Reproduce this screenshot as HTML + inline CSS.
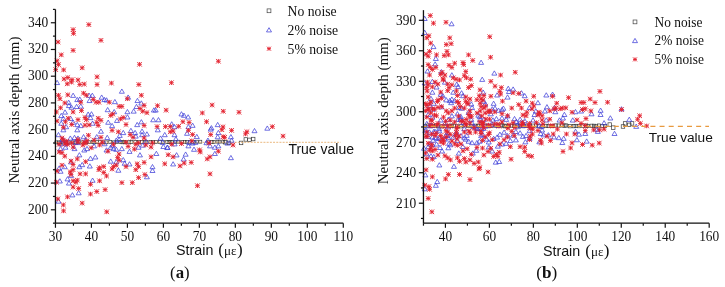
<!DOCTYPE html><html><head><meta charset="utf-8"><style>html,body{margin:0;padding:0;background:#fff;overflow:hidden}svg{display:block;will-change:transform;filter:blur(0.3px)}</style></head><body><svg width="725" height="287" viewBox="0 0 725 287">
<rect width="725" height="287" fill="#fff"/>
<rect x="54.89" y="140.92" width="2.90" height="2.90" fill="none" stroke="#3a3a3a" stroke-width="0.7"/>
<rect x="57.60" y="140.94" width="2.90" height="2.90" fill="none" stroke="#3a3a3a" stroke-width="0.7"/>
<rect x="59.00" y="141.02" width="2.90" height="2.90" fill="none" stroke="#3a3a3a" stroke-width="0.7"/>
<rect x="61.36" y="141.07" width="2.90" height="2.90" fill="none" stroke="#3a3a3a" stroke-width="0.7"/>
<rect x="64.45" y="140.86" width="2.90" height="2.90" fill="none" stroke="#3a3a3a" stroke-width="0.7"/>
<rect x="67.17" y="140.91" width="2.90" height="2.90" fill="none" stroke="#3a3a3a" stroke-width="0.7"/>
<rect x="71.08" y="140.94" width="2.90" height="2.90" fill="none" stroke="#3a3a3a" stroke-width="0.7"/>
<rect x="74.01" y="140.93" width="2.90" height="2.90" fill="none" stroke="#3a3a3a" stroke-width="0.7"/>
<rect x="77.17" y="140.63" width="2.90" height="2.90" fill="none" stroke="#3a3a3a" stroke-width="0.7"/>
<rect x="80.95" y="140.89" width="2.90" height="2.90" fill="none" stroke="#3a3a3a" stroke-width="0.7"/>
<rect x="84.81" y="140.96" width="2.90" height="2.90" fill="none" stroke="#3a3a3a" stroke-width="0.7"/>
<rect x="87.41" y="140.76" width="2.90" height="2.90" fill="none" stroke="#3a3a3a" stroke-width="0.7"/>
<rect x="91.30" y="140.61" width="2.90" height="2.90" fill="none" stroke="#3a3a3a" stroke-width="0.7"/>
<rect x="92.83" y="140.95" width="2.90" height="2.90" fill="none" stroke="#3a3a3a" stroke-width="0.7"/>
<rect x="95.72" y="140.67" width="2.90" height="2.90" fill="none" stroke="#3a3a3a" stroke-width="0.7"/>
<rect x="98.40" y="140.68" width="2.90" height="2.90" fill="none" stroke="#3a3a3a" stroke-width="0.7"/>
<rect x="101.52" y="140.89" width="2.90" height="2.90" fill="none" stroke="#3a3a3a" stroke-width="0.7"/>
<rect x="104.96" y="140.86" width="2.90" height="2.90" fill="none" stroke="#3a3a3a" stroke-width="0.7"/>
<rect x="108.79" y="140.57" width="2.90" height="2.90" fill="none" stroke="#3a3a3a" stroke-width="0.7"/>
<rect x="112.63" y="140.85" width="2.90" height="2.90" fill="none" stroke="#3a3a3a" stroke-width="0.7"/>
<rect x="115.44" y="140.57" width="2.90" height="2.90" fill="none" stroke="#3a3a3a" stroke-width="0.7"/>
<rect x="118.95" y="140.58" width="2.90" height="2.90" fill="none" stroke="#3a3a3a" stroke-width="0.7"/>
<rect x="120.87" y="140.86" width="2.90" height="2.90" fill="none" stroke="#3a3a3a" stroke-width="0.7"/>
<rect x="122.66" y="140.62" width="2.90" height="2.90" fill="none" stroke="#3a3a3a" stroke-width="0.7"/>
<rect x="124.31" y="140.76" width="2.90" height="2.90" fill="none" stroke="#3a3a3a" stroke-width="0.7"/>
<rect x="127.86" y="140.68" width="2.90" height="2.90" fill="none" stroke="#3a3a3a" stroke-width="0.7"/>
<rect x="129.97" y="140.56" width="2.90" height="2.90" fill="none" stroke="#3a3a3a" stroke-width="0.7"/>
<rect x="133.84" y="140.62" width="2.90" height="2.90" fill="none" stroke="#3a3a3a" stroke-width="0.7"/>
<rect x="137.44" y="140.43" width="2.90" height="2.90" fill="none" stroke="#3a3a3a" stroke-width="0.7"/>
<rect x="140.31" y="140.47" width="2.90" height="2.90" fill="none" stroke="#3a3a3a" stroke-width="0.7"/>
<rect x="143.23" y="140.44" width="2.90" height="2.90" fill="none" stroke="#3a3a3a" stroke-width="0.7"/>
<rect x="145.09" y="140.50" width="2.90" height="2.90" fill="none" stroke="#3a3a3a" stroke-width="0.7"/>
<rect x="149.01" y="140.51" width="2.90" height="2.90" fill="none" stroke="#3a3a3a" stroke-width="0.7"/>
<rect x="151.49" y="140.61" width="2.90" height="2.90" fill="none" stroke="#3a3a3a" stroke-width="0.7"/>
<rect x="154.54" y="140.59" width="2.90" height="2.90" fill="none" stroke="#3a3a3a" stroke-width="0.7"/>
<rect x="158.37" y="140.50" width="2.90" height="2.90" fill="none" stroke="#3a3a3a" stroke-width="0.7"/>
<rect x="161.53" y="140.44" width="2.90" height="2.90" fill="none" stroke="#3a3a3a" stroke-width="0.7"/>
<rect x="165.65" y="140.52" width="2.90" height="2.90" fill="none" stroke="#3a3a3a" stroke-width="0.7"/>
<rect x="167.22" y="140.53" width="2.90" height="2.90" fill="none" stroke="#3a3a3a" stroke-width="0.7"/>
<rect x="168.98" y="140.54" width="2.90" height="2.90" fill="none" stroke="#3a3a3a" stroke-width="0.7"/>
<rect x="170.73" y="140.47" width="2.90" height="2.90" fill="none" stroke="#3a3a3a" stroke-width="0.7"/>
<rect x="173.80" y="140.55" width="2.90" height="2.90" fill="none" stroke="#3a3a3a" stroke-width="0.7"/>
<rect x="176.97" y="140.28" width="2.90" height="2.90" fill="none" stroke="#3a3a3a" stroke-width="0.7"/>
<rect x="180.76" y="140.35" width="2.90" height="2.90" fill="none" stroke="#3a3a3a" stroke-width="0.7"/>
<rect x="183.23" y="140.37" width="2.90" height="2.90" fill="none" stroke="#3a3a3a" stroke-width="0.7"/>
<rect x="185.54" y="140.38" width="2.90" height="2.90" fill="none" stroke="#3a3a3a" stroke-width="0.7"/>
<rect x="188.56" y="140.37" width="2.90" height="2.90" fill="none" stroke="#3a3a3a" stroke-width="0.7"/>
<rect x="191.85" y="140.43" width="2.90" height="2.90" fill="none" stroke="#3a3a3a" stroke-width="0.7"/>
<rect x="195.38" y="140.28" width="2.90" height="2.90" fill="none" stroke="#3a3a3a" stroke-width="0.7"/>
<rect x="198.87" y="140.26" width="2.90" height="2.90" fill="none" stroke="#3a3a3a" stroke-width="0.7"/>
<rect x="206.68" y="140.29" width="2.90" height="2.90" fill="none" stroke="#3a3a3a" stroke-width="0.7"/>
<rect x="210.36" y="140.48" width="2.90" height="2.90" fill="none" stroke="#3a3a3a" stroke-width="0.7"/>
<rect x="212.30" y="140.39" width="2.90" height="2.90" fill="none" stroke="#3a3a3a" stroke-width="0.7"/>
<rect x="216.09" y="140.21" width="2.90" height="2.90" fill="none" stroke="#3a3a3a" stroke-width="0.7"/>
<rect x="218.03" y="140.19" width="2.90" height="2.90" fill="none" stroke="#3a3a3a" stroke-width="0.7"/>
<rect x="221.75" y="140.17" width="2.90" height="2.90" fill="none" stroke="#3a3a3a" stroke-width="0.7"/>
<rect x="423.38" y="124.44" width="3.20" height="3.20" fill="none" stroke="#3a3a3a" stroke-width="0.7"/>
<rect x="426.80" y="123.93" width="3.20" height="3.20" fill="none" stroke="#3a3a3a" stroke-width="0.7"/>
<rect x="429.43" y="124.07" width="3.20" height="3.20" fill="none" stroke="#3a3a3a" stroke-width="0.7"/>
<rect x="431.71" y="124.22" width="3.20" height="3.20" fill="none" stroke="#3a3a3a" stroke-width="0.7"/>
<rect x="434.67" y="123.96" width="3.20" height="3.20" fill="none" stroke="#3a3a3a" stroke-width="0.7"/>
<rect x="436.30" y="124.68" width="3.20" height="3.20" fill="none" stroke="#3a3a3a" stroke-width="0.7"/>
<rect x="440.16" y="124.75" width="3.20" height="3.20" fill="none" stroke="#3a3a3a" stroke-width="0.7"/>
<rect x="444.04" y="124.55" width="3.20" height="3.20" fill="none" stroke="#3a3a3a" stroke-width="0.7"/>
<rect x="448.08" y="124.32" width="3.20" height="3.20" fill="none" stroke="#3a3a3a" stroke-width="0.7"/>
<rect x="450.24" y="124.03" width="3.20" height="3.20" fill="none" stroke="#3a3a3a" stroke-width="0.7"/>
<rect x="452.17" y="124.09" width="3.20" height="3.20" fill="none" stroke="#3a3a3a" stroke-width="0.7"/>
<rect x="455.55" y="124.70" width="3.20" height="3.20" fill="none" stroke="#3a3a3a" stroke-width="0.7"/>
<rect x="459.48" y="124.70" width="3.20" height="3.20" fill="none" stroke="#3a3a3a" stroke-width="0.7"/>
<rect x="463.21" y="123.81" width="3.20" height="3.20" fill="none" stroke="#3a3a3a" stroke-width="0.7"/>
<rect x="466.50" y="124.10" width="3.20" height="3.20" fill="none" stroke="#3a3a3a" stroke-width="0.7"/>
<rect x="470.04" y="124.21" width="3.20" height="3.20" fill="none" stroke="#3a3a3a" stroke-width="0.7"/>
<rect x="474.13" y="124.14" width="3.20" height="3.20" fill="none" stroke="#3a3a3a" stroke-width="0.7"/>
<rect x="476.54" y="124.28" width="3.20" height="3.20" fill="none" stroke="#3a3a3a" stroke-width="0.7"/>
<rect x="479.87" y="124.00" width="3.20" height="3.20" fill="none" stroke="#3a3a3a" stroke-width="0.7"/>
<rect x="483.14" y="123.97" width="3.20" height="3.20" fill="none" stroke="#3a3a3a" stroke-width="0.7"/>
<rect x="486.86" y="124.61" width="3.20" height="3.20" fill="none" stroke="#3a3a3a" stroke-width="0.7"/>
<rect x="490.05" y="124.43" width="3.20" height="3.20" fill="none" stroke="#3a3a3a" stroke-width="0.7"/>
<rect x="493.92" y="124.07" width="3.20" height="3.20" fill="none" stroke="#3a3a3a" stroke-width="0.7"/>
<rect x="496.50" y="124.22" width="3.20" height="3.20" fill="none" stroke="#3a3a3a" stroke-width="0.7"/>
<rect x="499.48" y="123.80" width="3.20" height="3.20" fill="none" stroke="#3a3a3a" stroke-width="0.7"/>
<rect x="500.84" y="123.92" width="3.20" height="3.20" fill="none" stroke="#3a3a3a" stroke-width="0.7"/>
<rect x="503.12" y="124.65" width="3.20" height="3.20" fill="none" stroke="#3a3a3a" stroke-width="0.7"/>
<rect x="504.66" y="124.12" width="3.20" height="3.20" fill="none" stroke="#3a3a3a" stroke-width="0.7"/>
<rect x="506.99" y="124.45" width="3.20" height="3.20" fill="none" stroke="#3a3a3a" stroke-width="0.7"/>
<rect x="510.12" y="123.99" width="3.20" height="3.20" fill="none" stroke="#3a3a3a" stroke-width="0.7"/>
<rect x="512.43" y="124.36" width="3.20" height="3.20" fill="none" stroke="#3a3a3a" stroke-width="0.7"/>
<rect x="516.05" y="123.88" width="3.20" height="3.20" fill="none" stroke="#3a3a3a" stroke-width="0.7"/>
<rect x="518.11" y="124.40" width="3.20" height="3.20" fill="none" stroke="#3a3a3a" stroke-width="0.7"/>
<rect x="521.75" y="124.60" width="3.20" height="3.20" fill="none" stroke="#3a3a3a" stroke-width="0.7"/>
<rect x="525.00" y="124.17" width="3.20" height="3.20" fill="none" stroke="#3a3a3a" stroke-width="0.7"/>
<rect x="528.05" y="124.22" width="3.20" height="3.20" fill="none" stroke="#3a3a3a" stroke-width="0.7"/>
<rect x="531.31" y="124.05" width="3.20" height="3.20" fill="none" stroke="#3a3a3a" stroke-width="0.7"/>
<rect x="534.44" y="123.87" width="3.20" height="3.20" fill="none" stroke="#3a3a3a" stroke-width="0.7"/>
<rect x="536.99" y="124.68" width="3.20" height="3.20" fill="none" stroke="#3a3a3a" stroke-width="0.7"/>
<rect x="540.99" y="124.70" width="3.20" height="3.20" fill="none" stroke="#3a3a3a" stroke-width="0.7"/>
<rect x="544.58" y="124.26" width="3.20" height="3.20" fill="none" stroke="#3a3a3a" stroke-width="0.7"/>
<rect x="546.83" y="124.46" width="3.20" height="3.20" fill="none" stroke="#3a3a3a" stroke-width="0.7"/>
<rect x="550.73" y="124.47" width="3.20" height="3.20" fill="none" stroke="#3a3a3a" stroke-width="0.7"/>
<rect x="554.10" y="123.90" width="3.20" height="3.20" fill="none" stroke="#3a3a3a" stroke-width="0.7"/>
<rect x="556.89" y="123.94" width="3.20" height="3.20" fill="none" stroke="#3a3a3a" stroke-width="0.7"/>
<rect x="560.53" y="123.89" width="3.20" height="3.20" fill="none" stroke="#3a3a3a" stroke-width="0.7"/>
<rect x="562.89" y="123.98" width="3.20" height="3.20" fill="none" stroke="#3a3a3a" stroke-width="0.7"/>
<rect x="564.52" y="123.92" width="3.20" height="3.20" fill="none" stroke="#3a3a3a" stroke-width="0.7"/>
<rect x="568.22" y="124.64" width="3.20" height="3.20" fill="none" stroke="#3a3a3a" stroke-width="0.7"/>
<rect x="572.24" y="124.60" width="3.20" height="3.20" fill="none" stroke="#3a3a3a" stroke-width="0.7"/>
<rect x="574.04" y="124.31" width="3.20" height="3.20" fill="none" stroke="#3a3a3a" stroke-width="0.7"/>
<rect x="577.11" y="124.55" width="3.20" height="3.20" fill="none" stroke="#3a3a3a" stroke-width="0.7"/>
<rect x="581.11" y="124.12" width="3.20" height="3.20" fill="none" stroke="#3a3a3a" stroke-width="0.7"/>
<rect x="584.64" y="124.04" width="3.20" height="3.20" fill="none" stroke="#3a3a3a" stroke-width="0.7"/>
<rect x="586.36" y="124.42" width="3.20" height="3.20" fill="none" stroke="#3a3a3a" stroke-width="0.7"/>
<rect x="590.00" y="124.17" width="3.20" height="3.20" fill="none" stroke="#3a3a3a" stroke-width="0.7"/>
<rect x="592.61" y="124.22" width="3.20" height="3.20" fill="none" stroke="#3a3a3a" stroke-width="0.7"/>
<rect x="594.51" y="124.77" width="3.20" height="3.20" fill="none" stroke="#3a3a3a" stroke-width="0.7"/>
<rect x="597.34" y="123.96" width="3.20" height="3.20" fill="none" stroke="#3a3a3a" stroke-width="0.7"/>
<rect x="600.74" y="124.47" width="3.20" height="3.20" fill="none" stroke="#3a3a3a" stroke-width="0.7"/>
<rect x="603.52" y="124.44" width="3.20" height="3.20" fill="none" stroke="#3a3a3a" stroke-width="0.7"/>
<rect x="223.58" y="140.48" width="3.50" height="3.50" fill="none" stroke="#3a3a3a" stroke-width="0.7"/>
<rect x="227.07" y="141.18" width="3.50" height="3.50" fill="none" stroke="#3a3a3a" stroke-width="0.7"/>
<rect x="239.32" y="141.18" width="3.50" height="3.50" fill="none" stroke="#3a3a3a" stroke-width="0.7"/>
<rect x="244.06" y="137.70" width="3.50" height="3.50" fill="none" stroke="#3a3a3a" stroke-width="0.7"/>
<rect x="247.68" y="138.11" width="3.50" height="3.50" fill="none" stroke="#3a3a3a" stroke-width="0.7"/>
<rect x="251.44" y="137.28" width="3.50" height="3.50" fill="none" stroke="#3a3a3a" stroke-width="0.7"/>
<rect x="623.32" y="121.68" width="3.50" height="3.50" fill="none" stroke="#3a3a3a" stroke-width="0.7"/>
<rect x="627.50" y="123.07" width="3.50" height="3.50" fill="none" stroke="#3a3a3a" stroke-width="0.7"/>
<rect x="630.28" y="121.68" width="3.50" height="3.50" fill="none" stroke="#3a3a3a" stroke-width="0.7"/>
<rect x="621.23" y="124.74" width="3.50" height="3.50" fill="none" stroke="#3a3a3a" stroke-width="0.7"/>
<rect x="611.48" y="125.85" width="3.50" height="3.50" fill="none" stroke="#3a3a3a" stroke-width="0.7"/>
<rect x="608.00" y="122.79" width="3.50" height="3.50" fill="none" stroke="#3a3a3a" stroke-width="0.7"/>
<line x1="55.45" y1="142.3" x2="340.6" y2="142.3" stroke="#e8b070" stroke-width="0.9" stroke-dasharray="2 1.2"/>
<path d="M57.09 80.31L59.59 84.56L54.59 84.56Z" fill="none" stroke="#4040d8" stroke-width="0.75"/>
<path d="M121.85 88.97L124.35 93.22L119.35 93.22Z" fill="none" stroke="#4040d8" stroke-width="0.75"/>
<path d="M73.11 93.14L75.61 97.39L70.61 97.39Z" fill="none" stroke="#4040d8" stroke-width="0.75"/>
<path d="M77.28 97.33L79.78 101.58L74.78 101.58Z" fill="none" stroke="#4040d8" stroke-width="0.75"/>
<path d="M79.79 96.91L82.29 101.16L77.29 101.16Z" fill="none" stroke="#4040d8" stroke-width="0.75"/>
<path d="M89.12 93.14L91.62 97.39L86.62 97.39Z" fill="none" stroke="#4040d8" stroke-width="0.75"/>
<path d="M92.33 93.14L94.83 97.39L89.83 97.39Z" fill="none" stroke="#4040d8" stroke-width="0.75"/>
<path d="M89.54 98.30L92.04 102.55L87.04 102.55Z" fill="none" stroke="#4040d8" stroke-width="0.75"/>
<path d="M101.66 94.95L104.16 99.20L99.16 99.20Z" fill="none" stroke="#4040d8" stroke-width="0.75"/>
<path d="M104.44 97.33L106.94 101.58L101.94 101.58Z" fill="none" stroke="#4040d8" stroke-width="0.75"/>
<path d="M106.53 97.73L109.03 101.98L104.03 101.98Z" fill="none" stroke="#4040d8" stroke-width="0.75"/>
<path d="M114.89 99.41L117.39 103.66L112.39 103.66Z" fill="none" stroke="#4040d8" stroke-width="0.75"/>
<path d="M128.12 94.95L130.62 99.20L125.62 99.20Z" fill="none" stroke="#4040d8" stroke-width="0.75"/>
<path d="M137.45 98.30L139.95 102.55L134.95 102.55Z" fill="none" stroke="#4040d8" stroke-width="0.75"/>
<path d="M141.35 100.81L143.85 105.06L138.85 105.06Z" fill="none" stroke="#4040d8" stroke-width="0.75"/>
<path d="M68.65 100.11L71.15 104.36L66.15 104.36Z" fill="none" stroke="#4040d8" stroke-width="0.75"/>
<path d="M68.93 103.31L71.43 107.56L66.43 107.56Z" fill="none" stroke="#4040d8" stroke-width="0.75"/>
<path d="M71.43 104.98L73.93 109.23L68.93 109.23Z" fill="none" stroke="#4040d8" stroke-width="0.75"/>
<path d="M76.59 104.28L79.09 108.53L74.09 108.53Z" fill="none" stroke="#4040d8" stroke-width="0.75"/>
<path d="M80.77 103.86L83.27 108.11L78.27 108.11Z" fill="none" stroke="#4040d8" stroke-width="0.75"/>
<path d="M107.65 107.48L110.15 111.73L105.15 111.73Z" fill="none" stroke="#4040d8" stroke-width="0.75"/>
<path d="M114.19 109.44L116.69 113.69L111.69 113.69Z" fill="none" stroke="#4040d8" stroke-width="0.75"/>
<path d="M127.42 109.44L129.92 113.69L124.92 113.69Z" fill="none" stroke="#4040d8" stroke-width="0.75"/>
<path d="M133.69 108.89L136.19 113.14L131.19 113.14Z" fill="none" stroke="#4040d8" stroke-width="0.75"/>
<path d="M136.48 104.28L138.98 108.53L133.98 108.53Z" fill="none" stroke="#4040d8" stroke-width="0.75"/>
<path d="M153.89 107.77L156.39 112.02L151.39 112.02Z" fill="none" stroke="#4040d8" stroke-width="0.75"/>
<path d="M65.03 109.86L67.53 114.11L62.53 114.11Z" fill="none" stroke="#4040d8" stroke-width="0.75"/>
<path d="M61.27 113.33L63.77 117.58L58.77 117.58Z" fill="none" stroke="#4040d8" stroke-width="0.75"/>
<path d="M63.36 116.12L65.86 120.38L60.86 120.38Z" fill="none" stroke="#4040d8" stroke-width="0.75"/>
<path d="M88.15 111.94L90.65 116.19L85.65 116.19Z" fill="none" stroke="#4040d8" stroke-width="0.75"/>
<path d="M91.49 111.67L93.99 115.92L88.99 115.92Z" fill="none" stroke="#4040d8" stroke-width="0.75"/>
<path d="M90.52 115.42L93.02 119.67L88.02 119.67Z" fill="none" stroke="#4040d8" stroke-width="0.75"/>
<path d="M70.60 116.12L73.10 120.38L68.10 120.38Z" fill="none" stroke="#4040d8" stroke-width="0.75"/>
<path d="M73.11 120.03L75.61 124.28L70.61 124.28Z" fill="none" stroke="#4040d8" stroke-width="0.75"/>
<path d="M61.27 121.00L63.77 125.25L58.77 125.25Z" fill="none" stroke="#4040d8" stroke-width="0.75"/>
<path d="M77.28 122.39L79.78 126.64L74.78 126.64Z" fill="none" stroke="#4040d8" stroke-width="0.75"/>
<path d="M80.77 123.36L83.27 127.61L78.27 127.61Z" fill="none" stroke="#4040d8" stroke-width="0.75"/>
<path d="M92.60 121.00L95.10 125.25L90.10 125.25Z" fill="none" stroke="#4040d8" stroke-width="0.75"/>
<path d="M108.20 120.03L110.70 124.28L105.70 124.28Z" fill="none" stroke="#4040d8" stroke-width="0.75"/>
<path d="M112.10 123.36L114.60 127.61L109.60 127.61Z" fill="none" stroke="#4040d8" stroke-width="0.75"/>
<path d="M116.98 118.22L119.48 122.47L114.48 122.47Z" fill="none" stroke="#4040d8" stroke-width="0.75"/>
<path d="M127.42 114.73L129.92 118.98L124.92 118.98Z" fill="none" stroke="#4040d8" stroke-width="0.75"/>
<path d="M137.17 122.39L139.67 126.64L134.67 126.64Z" fill="none" stroke="#4040d8" stroke-width="0.75"/>
<path d="M141.35 119.61L143.85 123.86L138.85 123.86Z" fill="none" stroke="#4040d8" stroke-width="0.75"/>
<path d="M153.19 117.52L155.69 121.77L150.69 121.77Z" fill="none" stroke="#4040d8" stroke-width="0.75"/>
<path d="M66.14 124.47L68.64 128.72L63.64 128.72Z" fill="none" stroke="#4040d8" stroke-width="0.75"/>
<path d="M155.70 107.77L158.20 112.02L153.20 112.02Z" fill="none" stroke="#4040d8" stroke-width="0.75"/>
<path d="M158.48 117.52L160.98 121.77L155.98 121.77Z" fill="none" stroke="#4040d8" stroke-width="0.75"/>
<path d="M181.46 111.67L183.96 115.92L178.96 115.92Z" fill="none" stroke="#4040d8" stroke-width="0.75"/>
<path d="M183.97 113.06L186.47 117.31L181.47 117.31Z" fill="none" stroke="#4040d8" stroke-width="0.75"/>
<path d="M188.15 114.73L190.65 118.98L185.65 118.98Z" fill="none" stroke="#4040d8" stroke-width="0.75"/>
<path d="M171.71 121.69L174.21 125.94L169.21 125.94Z" fill="none" stroke="#4040d8" stroke-width="0.75"/>
<path d="M174.50 124.47L177.00 128.72L172.00 128.72Z" fill="none" stroke="#4040d8" stroke-width="0.75"/>
<path d="M192.60 123.08L195.10 127.33L190.10 127.33Z" fill="none" stroke="#4040d8" stroke-width="0.75"/>
<path d="M188.43 124.47L190.93 128.72L185.93 128.72Z" fill="none" stroke="#4040d8" stroke-width="0.75"/>
<path d="M217.67 122.39L220.17 126.64L215.17 126.64Z" fill="none" stroke="#4040d8" stroke-width="0.75"/>
<path d="M211.41 125.59L213.91 129.84L208.91 129.84Z" fill="none" stroke="#4040d8" stroke-width="0.75"/>
<path d="M63.36 127.57L65.86 131.82L60.86 131.82Z" fill="none" stroke="#4040d8" stroke-width="0.75"/>
<path d="M77.28 127.57L79.78 131.82L74.78 131.82Z" fill="none" stroke="#4040d8" stroke-width="0.75"/>
<path d="M100.96 128.97L103.46 133.22L98.46 133.22Z" fill="none" stroke="#4040d8" stroke-width="0.75"/>
<path d="M123.25 130.35L125.75 134.60L120.75 134.60Z" fill="none" stroke="#4040d8" stroke-width="0.75"/>
<path d="M130.91 128.26L133.41 132.51L128.41 132.51Z" fill="none" stroke="#4040d8" stroke-width="0.75"/>
<path d="M135.08 130.35L137.58 134.60L132.58 134.60Z" fill="none" stroke="#4040d8" stroke-width="0.75"/>
<path d="M142.05 128.97L144.55 133.22L139.55 133.22Z" fill="none" stroke="#4040d8" stroke-width="0.75"/>
<path d="M146.92 131.75L149.42 136.00L144.42 136.00Z" fill="none" stroke="#4040d8" stroke-width="0.75"/>
<path d="M58.48 132.44L60.98 136.69L55.98 136.69Z" fill="none" stroke="#4040d8" stroke-width="0.75"/>
<path d="M70.32 135.93L72.82 140.18L67.82 140.18Z" fill="none" stroke="#4040d8" stroke-width="0.75"/>
<path d="M74.50 135.24L77.00 139.49L72.00 139.49Z" fill="none" stroke="#4040d8" stroke-width="0.75"/>
<path d="M77.98 135.93L80.48 140.18L75.48 140.18Z" fill="none" stroke="#4040d8" stroke-width="0.75"/>
<path d="M83.55 134.53L86.05 138.78L81.05 138.78Z" fill="none" stroke="#4040d8" stroke-width="0.75"/>
<path d="M96.78 134.53L99.28 138.78L94.28 138.78Z" fill="none" stroke="#4040d8" stroke-width="0.75"/>
<path d="M107.23 135.24L109.73 139.49L104.73 139.49Z" fill="none" stroke="#4040d8" stroke-width="0.75"/>
<path d="M119.76 133.15L122.26 137.40L117.26 137.40Z" fill="none" stroke="#4040d8" stroke-width="0.75"/>
<path d="M135.78 133.84L138.28 138.09L133.28 138.09Z" fill="none" stroke="#4040d8" stroke-width="0.75"/>
<path d="M142.05 132.44L144.55 136.69L139.55 136.69Z" fill="none" stroke="#4040d8" stroke-width="0.75"/>
<path d="M116.28 138.01L118.78 142.26L113.78 142.26Z" fill="none" stroke="#4040d8" stroke-width="0.75"/>
<path d="M119.07 137.32L121.57 141.57L116.57 141.57Z" fill="none" stroke="#4040d8" stroke-width="0.75"/>
<path d="M60.57 146.38L63.07 150.62L58.07 150.62Z" fill="none" stroke="#4040d8" stroke-width="0.75"/>
<path d="M65.45 144.99L67.95 149.24L62.95 149.24Z" fill="none" stroke="#4040d8" stroke-width="0.75"/>
<path d="M74.50 146.38L77.00 150.62L72.00 150.62Z" fill="none" stroke="#4040d8" stroke-width="0.75"/>
<path d="M84.25 147.76L86.75 152.01L81.75 152.01Z" fill="none" stroke="#4040d8" stroke-width="0.75"/>
<path d="M87.03 146.38L89.53 150.62L84.53 150.62Z" fill="none" stroke="#4040d8" stroke-width="0.75"/>
<path d="M94.00 143.59L96.50 147.84L91.50 147.84Z" fill="none" stroke="#4040d8" stroke-width="0.75"/>
<path d="M106.53 147.76L109.03 152.01L104.03 152.01Z" fill="none" stroke="#4040d8" stroke-width="0.75"/>
<path d="M110.71 144.99L113.21 149.24L108.21 149.24Z" fill="none" stroke="#4040d8" stroke-width="0.75"/>
<path d="M113.50 146.38L116.00 150.62L111.00 150.62Z" fill="none" stroke="#4040d8" stroke-width="0.75"/>
<path d="M116.28 147.06L118.78 151.31L113.78 151.31Z" fill="none" stroke="#4040d8" stroke-width="0.75"/>
<path d="M121.85 146.38L124.35 150.62L119.35 150.62Z" fill="none" stroke="#4040d8" stroke-width="0.75"/>
<path d="M129.51 149.16L132.01 153.41L127.01 153.41Z" fill="none" stroke="#4040d8" stroke-width="0.75"/>
<path d="M138.57 144.99L141.07 149.24L136.07 149.24Z" fill="none" stroke="#4040d8" stroke-width="0.75"/>
<path d="M142.74 142.90L145.24 147.15L140.24 147.15Z" fill="none" stroke="#4040d8" stroke-width="0.75"/>
<path d="M79.37 152.65L81.87 156.90L76.87 156.90Z" fill="none" stroke="#4040d8" stroke-width="0.75"/>
<path d="M90.52 156.12L93.02 160.38L88.02 160.38Z" fill="none" stroke="#4040d8" stroke-width="0.75"/>
<path d="M95.39 154.74L97.89 158.99L92.89 158.99Z" fill="none" stroke="#4040d8" stroke-width="0.75"/>
<path d="M110.71 158.91L113.21 163.16L108.21 163.16Z" fill="none" stroke="#4040d8" stroke-width="0.75"/>
<path d="M116.28 159.60L118.78 163.85L113.78 163.85Z" fill="none" stroke="#4040d8" stroke-width="0.75"/>
<path d="M123.25 157.51L125.75 161.76L120.75 161.76Z" fill="none" stroke="#4040d8" stroke-width="0.75"/>
<path d="M124.64 161.00L127.14 165.25L122.14 165.25Z" fill="none" stroke="#4040d8" stroke-width="0.75"/>
<path d="M129.51 161.69L132.01 165.94L127.01 165.94Z" fill="none" stroke="#4040d8" stroke-width="0.75"/>
<path d="M139.96 152.65L142.46 156.90L137.46 156.90Z" fill="none" stroke="#4040d8" stroke-width="0.75"/>
<path d="M71.02 159.60L73.52 163.85L68.52 163.85Z" fill="none" stroke="#4040d8" stroke-width="0.75"/>
<path d="M82.16 162.40L84.66 166.65L79.66 166.65Z" fill="none" stroke="#4040d8" stroke-width="0.75"/>
<path d="M89.82 163.78L92.32 168.03L87.32 168.03Z" fill="none" stroke="#4040d8" stroke-width="0.75"/>
<path d="M59.18 165.88L61.68 170.12L56.68 170.12Z" fill="none" stroke="#4040d8" stroke-width="0.75"/>
<path d="M64.75 164.47L67.25 168.72L62.25 168.72Z" fill="none" stroke="#4040d8" stroke-width="0.75"/>
<path d="M152.49 164.47L154.99 168.72L149.99 168.72Z" fill="none" stroke="#4040d8" stroke-width="0.75"/>
<path d="M79.37 164.47L81.87 168.72L76.87 168.72Z" fill="none" stroke="#4040d8" stroke-width="0.75"/>
<path d="M157.79 127.57L160.29 131.82L155.29 131.82Z" fill="none" stroke="#4040d8" stroke-width="0.75"/>
<path d="M164.75 132.44L167.25 136.69L162.25 136.69Z" fill="none" stroke="#4040d8" stroke-width="0.75"/>
<path d="M174.50 132.44L177.00 136.69L172.00 136.69Z" fill="none" stroke="#4040d8" stroke-width="0.75"/>
<path d="M187.03 131.06L189.53 135.31L184.53 135.31Z" fill="none" stroke="#4040d8" stroke-width="0.75"/>
<path d="M210.71 126.88L213.21 131.12L208.21 131.12Z" fill="none" stroke="#4040d8" stroke-width="0.75"/>
<path d="M218.37 130.35L220.87 134.60L215.87 134.60Z" fill="none" stroke="#4040d8" stroke-width="0.75"/>
<path d="M217.67 134.53L220.17 138.78L215.17 138.78Z" fill="none" stroke="#4040d8" stroke-width="0.75"/>
<path d="M230.91 134.53L233.41 138.78L228.41 138.78Z" fill="none" stroke="#4040d8" stroke-width="0.75"/>
<path d="M231.60 138.01L234.10 142.26L229.10 142.26Z" fill="none" stroke="#4040d8" stroke-width="0.75"/>
<path d="M160.57 135.93L163.07 140.18L158.07 140.18Z" fill="none" stroke="#4040d8" stroke-width="0.75"/>
<path d="M162.66 140.10L165.16 144.35L160.16 144.35Z" fill="none" stroke="#4040d8" stroke-width="0.75"/>
<path d="M163.36 144.28L165.86 148.53L160.86 148.53Z" fill="none" stroke="#4040d8" stroke-width="0.75"/>
<path d="M167.53 144.99L170.03 149.24L165.03 149.24Z" fill="none" stroke="#4040d8" stroke-width="0.75"/>
<path d="M175.89 136.62L178.39 140.88L173.39 140.88Z" fill="none" stroke="#4040d8" stroke-width="0.75"/>
<path d="M189.12 140.10L191.62 144.35L186.62 144.35Z" fill="none" stroke="#4040d8" stroke-width="0.75"/>
<path d="M192.60 140.81L195.10 145.06L190.10 145.06Z" fill="none" stroke="#4040d8" stroke-width="0.75"/>
<path d="M195.39 140.10L197.89 144.35L192.89 144.35Z" fill="none" stroke="#4040d8" stroke-width="0.75"/>
<path d="M188.43 143.59L190.93 147.84L185.93 147.84Z" fill="none" stroke="#4040d8" stroke-width="0.75"/>
<path d="M194.00 147.06L196.50 151.31L191.50 151.31Z" fill="none" stroke="#4040d8" stroke-width="0.75"/>
<path d="M207.92 138.01L210.42 142.26L205.42 142.26Z" fill="none" stroke="#4040d8" stroke-width="0.75"/>
<path d="M210.01 143.59L212.51 147.84L207.51 147.84Z" fill="none" stroke="#4040d8" stroke-width="0.75"/>
<path d="M214.89 144.99L217.39 149.24L212.39 149.24Z" fill="none" stroke="#4040d8" stroke-width="0.75"/>
<path d="M218.37 143.59L220.87 147.84L215.87 147.84Z" fill="none" stroke="#4040d8" stroke-width="0.75"/>
<path d="M227.42 140.81L229.92 145.06L224.92 145.06Z" fill="none" stroke="#4040d8" stroke-width="0.75"/>
<path d="M156.39 151.25L158.89 155.50L153.89 155.50Z" fill="none" stroke="#4040d8" stroke-width="0.75"/>
<path d="M176.59 152.65L179.09 156.90L174.09 156.90Z" fill="none" stroke="#4040d8" stroke-width="0.75"/>
<path d="M185.64 151.94L188.14 156.19L183.14 156.19Z" fill="none" stroke="#4040d8" stroke-width="0.75"/>
<path d="M183.55 156.81L186.05 161.06L181.05 161.06Z" fill="none" stroke="#4040d8" stroke-width="0.75"/>
<path d="M173.11 161.69L175.61 165.94L170.61 165.94Z" fill="none" stroke="#4040d8" stroke-width="0.75"/>
<path d="M214.89 151.25L217.39 155.50L212.39 155.50Z" fill="none" stroke="#4040d8" stroke-width="0.75"/>
<path d="M230.91 155.43L233.41 159.68L228.41 159.68Z" fill="none" stroke="#4040d8" stroke-width="0.75"/>
<path d="M60.57 168.97L63.07 173.22L58.07 173.22Z" fill="none" stroke="#4040d8" stroke-width="0.75"/>
<path d="M118.37 167.99L120.87 172.24L115.87 172.24Z" fill="none" stroke="#4040d8" stroke-width="0.75"/>
<path d="M152.49 168.26L154.99 172.51L149.99 172.51Z" fill="none" stroke="#4040d8" stroke-width="0.75"/>
<path d="M59.87 178.72L62.37 182.97L57.37 182.97Z" fill="none" stroke="#4040d8" stroke-width="0.75"/>
<path d="M67.53 176.62L70.03 180.88L65.03 180.88Z" fill="none" stroke="#4040d8" stroke-width="0.75"/>
<path d="M68.93 180.81L71.43 185.06L66.43 185.06Z" fill="none" stroke="#4040d8" stroke-width="0.75"/>
<path d="M71.02 173.15L73.52 177.40L68.52 177.40Z" fill="none" stroke="#4040d8" stroke-width="0.75"/>
<path d="M92.60 178.01L95.10 182.26L90.10 182.26Z" fill="none" stroke="#4040d8" stroke-width="0.75"/>
<path d="M146.92 174.53L149.42 178.78L144.42 178.78Z" fill="none" stroke="#4040d8" stroke-width="0.75"/>
<path d="M72.41 192.65L74.91 196.90L69.91 196.90Z" fill="none" stroke="#4040d8" stroke-width="0.75"/>
<path d="M78.68 190.56L81.18 194.81L76.18 194.81Z" fill="none" stroke="#4040d8" stroke-width="0.75"/>
<path d="M58.48 198.91L60.98 203.16L55.98 203.16Z" fill="none" stroke="#4040d8" stroke-width="0.75"/>
<path d="M254.50 128.44L257.00 132.69L252.00 132.69Z" fill="none" stroke="#4040d8" stroke-width="0.75"/>
<path d="M267.31 125.94L269.81 130.19L264.81 130.19Z" fill="none" stroke="#4040d8" stroke-width="0.75"/>
<path d="M424.70 16.23L427.20 20.48L422.20 20.48Z" fill="none" stroke="#4040d8" stroke-width="0.75"/>
<path d="M451.58 21.52L454.08 25.77L449.08 25.77Z" fill="none" stroke="#4040d8" stroke-width="0.75"/>
<path d="M424.70 30.16L427.20 34.41L422.20 34.41Z" fill="none" stroke="#4040d8" stroke-width="0.75"/>
<path d="M433.47 44.37L435.97 48.62L430.97 48.62Z" fill="none" stroke="#4040d8" stroke-width="0.75"/>
<path d="M435.84 56.23L438.34 60.48L433.34 60.48Z" fill="none" stroke="#4040d8" stroke-width="0.75"/>
<path d="M435.14 61.80L437.64 66.06L432.64 66.06Z" fill="none" stroke="#4040d8" stroke-width="0.75"/>
<path d="M427.48 68.77L429.98 73.02L424.98 73.02Z" fill="none" stroke="#4040d8" stroke-width="0.75"/>
<path d="M441.41 69.47L443.91 73.72L438.91 73.72Z" fill="none" stroke="#4040d8" stroke-width="0.75"/>
<path d="M451.86 72.67L454.36 76.92L449.36 76.92Z" fill="none" stroke="#4040d8" stroke-width="0.75"/>
<path d="M481.10 60.13L483.60 64.38L478.60 64.38Z" fill="none" stroke="#4040d8" stroke-width="0.75"/>
<path d="M494.33 70.86L496.83 75.11L491.83 75.11Z" fill="none" stroke="#4040d8" stroke-width="0.75"/>
<path d="M482.22 77.12L484.72 81.38L479.72 81.38Z" fill="none" stroke="#4040d8" stroke-width="0.75"/>
<path d="M432.36 79.22L434.86 83.47L429.86 83.47Z" fill="none" stroke="#4040d8" stroke-width="0.75"/>
<path d="M424.70 80.61L427.20 84.86L422.20 84.86Z" fill="none" stroke="#4040d8" stroke-width="0.75"/>
<path d="M444.89 79.91L447.39 84.16L442.39 84.16Z" fill="none" stroke="#4040d8" stroke-width="0.75"/>
<path d="M456.73 82.00L459.23 86.25L454.23 86.25Z" fill="none" stroke="#4040d8" stroke-width="0.75"/>
<path d="M458.12 84.36L460.62 88.61L455.62 88.61Z" fill="none" stroke="#4040d8" stroke-width="0.75"/>
<path d="M436.53 84.78L439.03 89.03L434.03 89.03Z" fill="none" stroke="#4040d8" stroke-width="0.75"/>
<path d="M508.26 86.17L510.76 90.42L505.76 90.42Z" fill="none" stroke="#4040d8" stroke-width="0.75"/>
<path d="M513.14 86.88L515.64 91.12L510.64 91.12Z" fill="none" stroke="#4040d8" stroke-width="0.75"/>
<path d="M432.36 89.97L434.86 94.22L429.86 94.22Z" fill="none" stroke="#4040d8" stroke-width="0.75"/>
<path d="M440.71 92.06L443.21 96.31L438.21 96.31Z" fill="none" stroke="#4040d8" stroke-width="0.75"/>
<path d="M442.80 93.44L445.30 97.69L440.30 97.69Z" fill="none" stroke="#4040d8" stroke-width="0.75"/>
<path d="M453.25 89.97L455.75 94.22L450.75 94.22Z" fill="none" stroke="#4040d8" stroke-width="0.75"/>
<path d="M461.60 90.67L464.10 94.92L459.10 94.92Z" fill="none" stroke="#4040d8" stroke-width="0.75"/>
<path d="M463.00 93.44L465.50 97.69L460.50 97.69Z" fill="none" stroke="#4040d8" stroke-width="0.75"/>
<path d="M430.96 96.23L433.46 100.48L428.46 100.48Z" fill="none" stroke="#4040d8" stroke-width="0.75"/>
<path d="M433.75 101.11L436.25 105.36L431.25 105.36Z" fill="none" stroke="#4040d8" stroke-width="0.75"/>
<path d="M446.28 97.62L448.78 101.88L443.78 101.88Z" fill="none" stroke="#4040d8" stroke-width="0.75"/>
<path d="M449.77 98.33L452.27 102.58L447.27 102.58Z" fill="none" stroke="#4040d8" stroke-width="0.75"/>
<path d="M451.86 96.92L454.36 101.17L449.36 101.17Z" fill="none" stroke="#4040d8" stroke-width="0.75"/>
<path d="M454.64 98.33L457.14 102.58L452.14 102.58Z" fill="none" stroke="#4040d8" stroke-width="0.75"/>
<path d="M451.16 100.41L453.66 104.66L448.66 104.66Z" fill="none" stroke="#4040d8" stroke-width="0.75"/>
<path d="M441.41 104.58L443.91 108.83L438.91 108.83Z" fill="none" stroke="#4040d8" stroke-width="0.75"/>
<path d="M458.82 105.28L461.32 109.53L456.32 109.53Z" fill="none" stroke="#4040d8" stroke-width="0.75"/>
<path d="M461.60 105.98L464.10 110.23L459.10 110.23Z" fill="none" stroke="#4040d8" stroke-width="0.75"/>
<path d="M471.35 101.81L473.85 106.06L468.85 106.06Z" fill="none" stroke="#4040d8" stroke-width="0.75"/>
<path d="M472.05 105.28L474.55 109.53L469.55 109.53Z" fill="none" stroke="#4040d8" stroke-width="0.75"/>
<path d="M483.19 89.97L485.69 94.22L480.69 94.22Z" fill="none" stroke="#4040d8" stroke-width="0.75"/>
<path d="M483.89 99.02L486.39 103.27L481.39 103.27Z" fill="none" stroke="#4040d8" stroke-width="0.75"/>
<path d="M485.28 101.81L487.78 106.06L482.78 106.06Z" fill="none" stroke="#4040d8" stroke-width="0.75"/>
<path d="M493.64 101.11L496.14 105.36L491.14 105.36Z" fill="none" stroke="#4040d8" stroke-width="0.75"/>
<path d="M497.12 92.75L499.62 97.00L494.62 97.00Z" fill="none" stroke="#4040d8" stroke-width="0.75"/>
<path d="M507.57 94.83L510.07 99.08L505.07 99.08Z" fill="none" stroke="#4040d8" stroke-width="0.75"/>
<path d="M508.96 89.27L511.46 93.52L506.46 93.52Z" fill="none" stroke="#4040d8" stroke-width="0.75"/>
<path d="M521.49 90.67L523.99 94.92L518.99 94.92Z" fill="none" stroke="#4040d8" stroke-width="0.75"/>
<path d="M492.25 106.67L494.75 110.92L489.75 110.92Z" fill="none" stroke="#4040d8" stroke-width="0.75"/>
<path d="M495.03 105.98L497.53 110.23L492.53 110.23Z" fill="none" stroke="#4040d8" stroke-width="0.75"/>
<path d="M498.51 108.06L501.01 112.31L496.01 112.31Z" fill="none" stroke="#4040d8" stroke-width="0.75"/>
<path d="M501.99 107.38L504.49 111.62L499.49 111.62Z" fill="none" stroke="#4040d8" stroke-width="0.75"/>
<path d="M503.39 105.98L505.89 110.23L500.89 110.23Z" fill="none" stroke="#4040d8" stroke-width="0.75"/>
<path d="M428.18 112.25L430.68 116.50L425.68 116.50Z" fill="none" stroke="#4040d8" stroke-width="0.75"/>
<path d="M432.36 115.03L434.86 119.28L429.86 119.28Z" fill="none" stroke="#4040d8" stroke-width="0.75"/>
<path d="M440.71 117.81L443.21 122.06L438.21 122.06Z" fill="none" stroke="#4040d8" stroke-width="0.75"/>
<path d="M448.37 117.12L450.87 121.38L445.87 121.38Z" fill="none" stroke="#4040d8" stroke-width="0.75"/>
<path d="M451.86 113.64L454.36 117.89L449.36 117.89Z" fill="none" stroke="#4040d8" stroke-width="0.75"/>
<path d="M457.43 111.56L459.93 115.81L454.93 115.81Z" fill="none" stroke="#4040d8" stroke-width="0.75"/>
<path d="M460.91 114.33L463.41 118.58L458.41 118.58Z" fill="none" stroke="#4040d8" stroke-width="0.75"/>
<path d="M458.12 117.12L460.62 121.38L455.62 121.38Z" fill="none" stroke="#4040d8" stroke-width="0.75"/>
<path d="M468.57 110.16L471.07 114.41L466.07 114.41Z" fill="none" stroke="#4040d8" stroke-width="0.75"/>
<path d="M471.35 117.12L473.85 121.38L468.85 121.38Z" fill="none" stroke="#4040d8" stroke-width="0.75"/>
<path d="M478.32 112.94L480.82 117.19L475.82 117.19Z" fill="none" stroke="#4040d8" stroke-width="0.75"/>
<path d="M479.71 114.33L482.21 118.58L477.21 118.58Z" fill="none" stroke="#4040d8" stroke-width="0.75"/>
<path d="M483.89 117.12L486.39 121.38L481.39 121.38Z" fill="none" stroke="#4040d8" stroke-width="0.75"/>
<path d="M490.85 111.56L493.35 115.81L488.35 115.81Z" fill="none" stroke="#4040d8" stroke-width="0.75"/>
<path d="M492.94 117.81L495.44 122.06L490.44 122.06Z" fill="none" stroke="#4040d8" stroke-width="0.75"/>
<path d="M496.42 116.42L498.92 120.67L493.92 120.67Z" fill="none" stroke="#4040d8" stroke-width="0.75"/>
<path d="M501.99 115.73L504.49 119.98L499.49 119.98Z" fill="none" stroke="#4040d8" stroke-width="0.75"/>
<path d="M506.17 117.12L508.67 121.38L503.67 121.38Z" fill="none" stroke="#4040d8" stroke-width="0.75"/>
<path d="M507.57 113.64L510.07 117.89L505.07 117.89Z" fill="none" stroke="#4040d8" stroke-width="0.75"/>
<path d="M514.53 116.42L517.03 120.67L512.03 120.67Z" fill="none" stroke="#4040d8" stroke-width="0.75"/>
<path d="M520.10 117.12L522.60 121.38L517.60 121.38Z" fill="none" stroke="#4040d8" stroke-width="0.75"/>
<path d="M426.79 121.31L429.29 125.56L424.29 125.56Z" fill="none" stroke="#4040d8" stroke-width="0.75"/>
<path d="M444.89 121.31L447.39 125.56L442.39 125.56Z" fill="none" stroke="#4040d8" stroke-width="0.75"/>
<path d="M492.25 122.00L494.75 126.25L489.75 126.25Z" fill="none" stroke="#4040d8" stroke-width="0.75"/>
<path d="M524.70 93.44L527.20 97.69L522.20 97.69Z" fill="none" stroke="#4040d8" stroke-width="0.75"/>
<path d="M546.28 92.75L548.78 97.00L543.78 97.00Z" fill="none" stroke="#4040d8" stroke-width="0.75"/>
<path d="M552.55 92.06L555.05 96.31L550.05 96.31Z" fill="none" stroke="#4040d8" stroke-width="0.75"/>
<path d="M537.93 100.41L540.43 104.66L535.43 104.66Z" fill="none" stroke="#4040d8" stroke-width="0.75"/>
<path d="M529.57 105.28L532.07 109.53L527.07 109.53Z" fill="none" stroke="#4040d8" stroke-width="0.75"/>
<path d="M546.98 104.58L549.48 108.83L544.48 108.83Z" fill="none" stroke="#4040d8" stroke-width="0.75"/>
<path d="M554.64 105.28L557.14 109.53L552.14 109.53Z" fill="none" stroke="#4040d8" stroke-width="0.75"/>
<path d="M535.84 108.77L538.34 113.02L533.34 113.02Z" fill="none" stroke="#4040d8" stroke-width="0.75"/>
<path d="M544.89 108.77L547.39 113.02L542.39 113.02Z" fill="none" stroke="#4040d8" stroke-width="0.75"/>
<path d="M555.34 109.47L557.84 113.72L552.84 113.72Z" fill="none" stroke="#4040d8" stroke-width="0.75"/>
<path d="M534.45 112.25L536.95 116.50L531.95 116.50Z" fill="none" stroke="#4040d8" stroke-width="0.75"/>
<path d="M564.39 112.25L566.89 116.50L561.89 116.50Z" fill="none" stroke="#4040d8" stroke-width="0.75"/>
<path d="M563.00 115.73L565.50 119.98L560.50 119.98Z" fill="none" stroke="#4040d8" stroke-width="0.75"/>
<path d="M559.52 117.81L562.02 122.06L557.02 122.06Z" fill="none" stroke="#4040d8" stroke-width="0.75"/>
<path d="M575.53 109.47L578.03 113.72L573.03 113.72Z" fill="none" stroke="#4040d8" stroke-width="0.75"/>
<path d="M581.10 108.77L583.60 113.02L578.60 113.02Z" fill="none" stroke="#4040d8" stroke-width="0.75"/>
<path d="M591.55 111.56L594.05 115.81L589.05 115.81Z" fill="none" stroke="#4040d8" stroke-width="0.75"/>
<path d="M600.60 108.06L603.10 112.31L598.10 112.31Z" fill="none" stroke="#4040d8" stroke-width="0.75"/>
<path d="M600.60 112.25L603.10 116.50L598.10 116.50Z" fill="none" stroke="#4040d8" stroke-width="0.75"/>
<path d="M610.35 115.73L612.85 119.98L607.85 119.98Z" fill="none" stroke="#4040d8" stroke-width="0.75"/>
<path d="M572.75 117.81L575.25 122.06L570.25 122.06Z" fill="none" stroke="#4040d8" stroke-width="0.75"/>
<path d="M533.05 117.81L535.55 122.06L530.55 122.06Z" fill="none" stroke="#4040d8" stroke-width="0.75"/>
<path d="M546.28 117.81L548.78 122.06L543.78 122.06Z" fill="none" stroke="#4040d8" stroke-width="0.75"/>
<path d="M524.70 118.52L527.20 122.77L522.20 122.77Z" fill="none" stroke="#4040d8" stroke-width="0.75"/>
<path d="M604.08 120.61L606.58 124.86L601.58 124.86Z" fill="none" stroke="#4040d8" stroke-width="0.75"/>
<path d="M621.49 106.67L623.99 110.92L618.99 110.92Z" fill="none" stroke="#4040d8" stroke-width="0.75"/>
<path d="M629.25 117.12L631.75 121.38L626.75 121.38Z" fill="none" stroke="#4040d8" stroke-width="0.75"/>
<path d="M636.21 124.08L638.71 128.33L633.71 128.33Z" fill="none" stroke="#4040d8" stroke-width="0.75"/>
<path d="M425.39 128.57L427.89 132.82L422.89 132.82Z" fill="none" stroke="#4040d8" stroke-width="0.75"/>
<path d="M429.57 129.97L432.07 134.22L427.07 134.22Z" fill="none" stroke="#4040d8" stroke-width="0.75"/>
<path d="M433.75 129.26L436.25 133.51L431.25 133.51Z" fill="none" stroke="#4040d8" stroke-width="0.75"/>
<path d="M439.32 128.57L441.82 132.82L436.82 132.82Z" fill="none" stroke="#4040d8" stroke-width="0.75"/>
<path d="M428.18 134.15L430.68 138.40L425.68 138.40Z" fill="none" stroke="#4040d8" stroke-width="0.75"/>
<path d="M432.36 134.84L434.86 139.09L429.86 139.09Z" fill="none" stroke="#4040d8" stroke-width="0.75"/>
<path d="M437.93 136.24L440.43 140.49L435.43 140.49Z" fill="none" stroke="#4040d8" stroke-width="0.75"/>
<path d="M444.89 136.93L447.39 141.18L442.39 141.18Z" fill="none" stroke="#4040d8" stroke-width="0.75"/>
<path d="M448.37 135.53L450.87 139.78L445.87 139.78Z" fill="none" stroke="#4040d8" stroke-width="0.75"/>
<path d="M453.25 134.84L455.75 139.09L450.75 139.09Z" fill="none" stroke="#4040d8" stroke-width="0.75"/>
<path d="M456.03 132.06L458.53 136.31L453.53 136.31Z" fill="none" stroke="#4040d8" stroke-width="0.75"/>
<path d="M460.91 133.44L463.41 137.69L458.41 137.69Z" fill="none" stroke="#4040d8" stroke-width="0.75"/>
<path d="M464.39 135.53L466.89 139.78L461.89 139.78Z" fill="none" stroke="#4040d8" stroke-width="0.75"/>
<path d="M465.78 136.93L468.28 141.18L463.28 141.18Z" fill="none" stroke="#4040d8" stroke-width="0.75"/>
<path d="M468.57 139.01L471.07 143.26L466.07 143.26Z" fill="none" stroke="#4040d8" stroke-width="0.75"/>
<path d="M472.05 140.41L474.55 144.66L469.55 144.66Z" fill="none" stroke="#4040d8" stroke-width="0.75"/>
<path d="M476.92 140.41L479.42 144.66L474.42 144.66Z" fill="none" stroke="#4040d8" stroke-width="0.75"/>
<path d="M481.10 133.44L483.60 137.69L478.60 137.69Z" fill="none" stroke="#4040d8" stroke-width="0.75"/>
<path d="M486.67 136.93L489.17 141.18L484.17 141.18Z" fill="none" stroke="#4040d8" stroke-width="0.75"/>
<path d="M488.76 139.72L491.26 143.97L486.26 143.97Z" fill="none" stroke="#4040d8" stroke-width="0.75"/>
<path d="M493.64 136.24L496.14 140.49L491.14 140.49Z" fill="none" stroke="#4040d8" stroke-width="0.75"/>
<path d="M497.12 134.84L499.62 139.09L494.62 139.09Z" fill="none" stroke="#4040d8" stroke-width="0.75"/>
<path d="M499.91 132.06L502.41 136.31L497.41 136.31Z" fill="none" stroke="#4040d8" stroke-width="0.75"/>
<path d="M504.08 129.97L506.58 134.22L501.58 134.22Z" fill="none" stroke="#4040d8" stroke-width="0.75"/>
<path d="M507.57 133.44L510.07 137.69L505.07 137.69Z" fill="none" stroke="#4040d8" stroke-width="0.75"/>
<path d="M513.14 132.75L515.64 137.00L510.64 137.00Z" fill="none" stroke="#4040d8" stroke-width="0.75"/>
<path d="M515.92 129.26L518.42 133.51L513.42 133.51Z" fill="none" stroke="#4040d8" stroke-width="0.75"/>
<path d="M520.10 130.66L522.60 134.91L517.60 134.91Z" fill="none" stroke="#4040d8" stroke-width="0.75"/>
<path d="M522.89 134.15L525.39 138.40L520.39 138.40Z" fill="none" stroke="#4040d8" stroke-width="0.75"/>
<path d="M510.35 138.32L512.85 142.57L507.85 142.57Z" fill="none" stroke="#4040d8" stroke-width="0.75"/>
<path d="M515.92 137.62L518.42 141.88L513.42 141.88Z" fill="none" stroke="#4040d8" stroke-width="0.75"/>
<path d="M428.18 144.59L430.68 148.84L425.68 148.84Z" fill="none" stroke="#4040d8" stroke-width="0.75"/>
<path d="M432.36 142.50L434.86 146.75L429.86 146.75Z" fill="none" stroke="#4040d8" stroke-width="0.75"/>
<path d="M436.53 141.81L439.03 146.06L434.03 146.06Z" fill="none" stroke="#4040d8" stroke-width="0.75"/>
<path d="M440.02 145.28L442.52 149.53L437.52 149.53Z" fill="none" stroke="#4040d8" stroke-width="0.75"/>
<path d="M442.11 148.76L444.61 153.01L439.61 153.01Z" fill="none" stroke="#4040d8" stroke-width="0.75"/>
<path d="M449.07 141.10L451.57 145.35L446.57 145.35Z" fill="none" stroke="#4040d8" stroke-width="0.75"/>
<path d="M450.46 142.50L452.96 146.75L447.96 146.75Z" fill="none" stroke="#4040d8" stroke-width="0.75"/>
<path d="M457.43 138.32L459.93 142.57L454.93 142.57Z" fill="none" stroke="#4040d8" stroke-width="0.75"/>
<path d="M458.82 150.85L461.32 155.10L456.32 155.10Z" fill="none" stroke="#4040d8" stroke-width="0.75"/>
<path d="M472.75 150.85L475.25 155.10L470.25 155.10Z" fill="none" stroke="#4040d8" stroke-width="0.75"/>
<path d="M476.23 148.06L478.73 152.31L473.73 152.31Z" fill="none" stroke="#4040d8" stroke-width="0.75"/>
<path d="M488.76 144.59L491.26 148.84L486.26 148.84Z" fill="none" stroke="#4040d8" stroke-width="0.75"/>
<path d="M492.25 148.76L494.75 153.01L489.75 153.01Z" fill="none" stroke="#4040d8" stroke-width="0.75"/>
<path d="M497.82 143.90L500.32 148.15L495.32 148.15Z" fill="none" stroke="#4040d8" stroke-width="0.75"/>
<path d="M501.99 141.81L504.49 146.06L499.49 146.06Z" fill="none" stroke="#4040d8" stroke-width="0.75"/>
<path d="M506.17 141.10L508.67 145.35L503.67 145.35Z" fill="none" stroke="#4040d8" stroke-width="0.75"/>
<path d="M495.73 159.91L498.23 164.16L493.23 164.16Z" fill="none" stroke="#4040d8" stroke-width="0.75"/>
<path d="M499.21 159.22L501.71 163.47L496.71 163.47Z" fill="none" stroke="#4040d8" stroke-width="0.75"/>
<path d="M439.32 162.69L441.82 166.94L436.82 166.94Z" fill="none" stroke="#4040d8" stroke-width="0.75"/>
<path d="M453.94 164.09L456.44 168.34L451.44 168.34Z" fill="none" stroke="#4040d8" stroke-width="0.75"/>
<path d="M426.79 151.56L429.29 155.81L424.29 155.81Z" fill="none" stroke="#4040d8" stroke-width="0.75"/>
<path d="M430.96 153.65L433.46 157.90L428.46 157.90Z" fill="none" stroke="#4040d8" stroke-width="0.75"/>
<path d="M433.75 154.34L436.25 158.59L431.25 158.59Z" fill="none" stroke="#4040d8" stroke-width="0.75"/>
<path d="M424.00 145.99L426.50 150.24L421.50 150.24Z" fill="none" stroke="#4040d8" stroke-width="0.75"/>
<path d="M529.57 128.44L532.07 132.69L527.07 132.69Z" fill="none" stroke="#4040d8" stroke-width="0.75"/>
<path d="M526.09 133.32L528.59 137.57L523.59 137.57Z" fill="none" stroke="#4040d8" stroke-width="0.75"/>
<path d="M525.39 139.59L527.89 143.84L522.89 143.84Z" fill="none" stroke="#4040d8" stroke-width="0.75"/>
<path d="M540.71 131.24L543.21 135.49L538.21 135.49Z" fill="none" stroke="#4040d8" stroke-width="0.75"/>
<path d="M543.50 132.62L546.00 136.88L541.00 136.88Z" fill="none" stroke="#4040d8" stroke-width="0.75"/>
<path d="M548.37 132.62L550.87 136.88L545.87 136.88Z" fill="none" stroke="#4040d8" stroke-width="0.75"/>
<path d="M542.11 127.75L544.61 132.00L539.61 132.00Z" fill="none" stroke="#4040d8" stroke-width="0.75"/>
<path d="M553.94 134.72L556.44 138.97L551.44 138.97Z" fill="none" stroke="#4040d8" stroke-width="0.75"/>
<path d="M558.82 135.41L561.32 139.66L556.32 139.66Z" fill="none" stroke="#4040d8" stroke-width="0.75"/>
<path d="M563.69 136.10L566.19 140.35L561.19 140.35Z" fill="none" stroke="#4040d8" stroke-width="0.75"/>
<path d="M562.30 140.28L564.80 144.53L559.80 144.53Z" fill="none" stroke="#4040d8" stroke-width="0.75"/>
<path d="M575.53 129.15L578.03 133.40L573.03 133.40Z" fill="none" stroke="#4040d8" stroke-width="0.75"/>
<path d="M579.01 131.93L581.51 136.18L576.51 136.18Z" fill="none" stroke="#4040d8" stroke-width="0.75"/>
<path d="M576.92 137.50L579.42 141.75L574.42 141.75Z" fill="none" stroke="#4040d8" stroke-width="0.75"/>
<path d="M585.28 131.24L587.78 135.49L582.78 135.49Z" fill="none" stroke="#4040d8" stroke-width="0.75"/>
<path d="M586.67 138.90L589.17 143.15L584.17 143.15Z" fill="none" stroke="#4040d8" stroke-width="0.75"/>
<path d="M597.82 129.15L600.32 133.40L595.32 133.40Z" fill="none" stroke="#4040d8" stroke-width="0.75"/>
<path d="M614.53 131.24L617.03 135.49L612.03 135.49Z" fill="none" stroke="#4040d8" stroke-width="0.75"/>
<path d="M539.32 139.59L541.82 143.84L536.82 143.84Z" fill="none" stroke="#4040d8" stroke-width="0.75"/>
<path d="M529.57 136.10L532.07 140.35L527.07 140.35Z" fill="none" stroke="#4040d8" stroke-width="0.75"/>
<path d="M425.39 172.62L427.89 176.88L422.89 176.88Z" fill="none" stroke="#4040d8" stroke-width="0.75"/>
<path d="M437.23 179.31L439.73 183.56L434.73 183.56Z" fill="none" stroke="#4040d8" stroke-width="0.75"/>
<path d="M435.84 183.06L438.34 187.31L433.34 187.31Z" fill="none" stroke="#4040d8" stroke-width="0.75"/>
<path d="M424.70 186.56L427.20 190.81L422.20 190.81Z" fill="none" stroke="#4040d8" stroke-width="0.75"/>
<path d="M516.36 119.23L518.86 123.48L513.86 123.48Z" fill="none" stroke="#4040d8" stroke-width="0.75"/>
<path d="M518.13 122.04L520.63 126.29L515.63 126.29Z" fill="none" stroke="#4040d8" stroke-width="0.75"/>
<path d="M523.88 122.68L526.38 126.93L521.38 126.93Z" fill="none" stroke="#4040d8" stroke-width="0.75"/>
<path d="M524.44 123.14L526.94 127.39L521.94 127.39Z" fill="none" stroke="#4040d8" stroke-width="0.75"/>
<path d="M541.28 124.14L543.78 128.39L538.78 128.39Z" fill="none" stroke="#4040d8" stroke-width="0.75"/>
<path d="M497.58 122.93L500.08 127.18L495.08 127.18Z" fill="none" stroke="#4040d8" stroke-width="0.75"/>
<path d="M475.74 125.11L478.24 129.36L473.24 129.36Z" fill="none" stroke="#4040d8" stroke-width="0.75"/>
<path d="M472.10 120.73L474.60 124.98L469.60 124.98Z" fill="none" stroke="#4040d8" stroke-width="0.75"/>
<path d="M597.00 127.00L599.50 131.25L594.50 131.25Z" fill="none" stroke="#4040d8" stroke-width="0.75"/>
<path d="M539.18 123.17L541.68 127.42L536.68 127.42Z" fill="none" stroke="#4040d8" stroke-width="0.75"/>
<path d="M481.76 126.56L484.26 130.81L479.26 130.81Z" fill="none" stroke="#4040d8" stroke-width="0.75"/>
<path d="M473.32 124.13L475.82 128.38L470.82 128.38Z" fill="none" stroke="#4040d8" stroke-width="0.75"/>
<path d="M485.03 123.90L487.53 128.15L482.53 128.15Z" fill="none" stroke="#4040d8" stroke-width="0.75"/>
<path d="M517.90 124.42L520.40 128.67L515.40 128.67Z" fill="none" stroke="#4040d8" stroke-width="0.75"/>
<path d="M206.44 140.42L208.94 144.67L203.94 144.67Z" fill="none" stroke="#4040d8" stroke-width="0.75"/>
<path d="M77.74 140.32L80.24 144.57L75.24 144.57Z" fill="none" stroke="#4040d8" stroke-width="0.75"/>
<path d="M196.82 134.32L199.32 138.57L194.32 138.57Z" fill="none" stroke="#4040d8" stroke-width="0.75"/>
<path d="M104.61 141.53L107.11 145.78L102.11 145.78Z" fill="none" stroke="#4040d8" stroke-width="0.75"/>
<path d="M62.26 137.75L64.76 142.00L59.76 142.00Z" fill="none" stroke="#4040d8" stroke-width="0.75"/>
<path d="M85.77 137.60L88.27 141.85L83.27 141.85Z" fill="none" stroke="#4040d8" stroke-width="0.75"/>
<path d="M63.62 137.56L66.12 141.81L61.12 141.81Z" fill="none" stroke="#4040d8" stroke-width="0.75"/>
<path d="M167.22 145.30L169.72 149.55L164.72 149.55Z" fill="none" stroke="#4040d8" stroke-width="0.75"/>
<path d="M66.82 140.40L69.32 144.65L64.32 144.65Z" fill="none" stroke="#4040d8" stroke-width="0.75"/>
<path d="M61.07 141.39L63.57 145.64L58.57 145.64Z" fill="none" stroke="#4040d8" stroke-width="0.75"/>
<path d="M174.64 141.61L177.14 145.86L172.14 145.86Z" fill="none" stroke="#4040d8" stroke-width="0.75"/>
<path d="M112.54 142.91L115.04 147.16L110.04 147.16Z" fill="none" stroke="#4040d8" stroke-width="0.75"/>
<path d="M75.33 140.24L77.83 144.49L72.83 144.49Z" fill="none" stroke="#4040d8" stroke-width="0.75"/>
<path d="M146.12 139.22L148.62 143.47L143.62 143.47Z" fill="none" stroke="#4040d8" stroke-width="0.75"/>
<path d="M483.36 126.08L485.86 130.33L480.86 130.33Z" fill="none" stroke="#4040d8" stroke-width="0.75"/>
<path d="M436.05 135.43L438.55 139.68L433.55 139.68Z" fill="none" stroke="#4040d8" stroke-width="0.75"/>
<path d="M464.23 126.45L466.73 130.70L461.73 130.70Z" fill="none" stroke="#4040d8" stroke-width="0.75"/>
<path d="M433.16 137.97L435.66 142.22L430.66 142.22Z" fill="none" stroke="#4040d8" stroke-width="0.75"/>
<path d="M462.87 144.26L465.37 148.51L460.37 148.51Z" fill="none" stroke="#4040d8" stroke-width="0.75"/>
<path d="M447.48 133.22L449.98 137.47L444.98 137.47Z" fill="none" stroke="#4040d8" stroke-width="0.75"/>
<path d="M463.31 120.48L465.81 124.73L460.81 124.73Z" fill="none" stroke="#4040d8" stroke-width="0.75"/>
<path d="M432.94 106.96L435.44 111.21L430.44 111.21Z" fill="none" stroke="#4040d8" stroke-width="0.75"/>
<path d="M482.85 132.31L485.35 136.56L480.35 136.56Z" fill="none" stroke="#4040d8" stroke-width="0.75"/>
<path d="M480.07 117.36L482.57 121.61L477.57 121.61Z" fill="none" stroke="#4040d8" stroke-width="0.75"/>
<path d="M439.57 135.63L442.07 139.88L437.07 139.88Z" fill="none" stroke="#4040d8" stroke-width="0.75"/>
<path d="M429.87 103.59L432.37 107.84L427.37 107.84Z" fill="none" stroke="#4040d8" stroke-width="0.75"/>
<path d="M477.52 126.25L480.02 130.50L475.02 130.50Z" fill="none" stroke="#4040d8" stroke-width="0.75"/>
<path d="M466.74 133.10L469.24 137.35L464.24 137.35Z" fill="none" stroke="#4040d8" stroke-width="0.75"/>
<path d="M431.45 122.99L433.95 127.24L428.95 127.24Z" fill="none" stroke="#4040d8" stroke-width="0.75"/>
<path d="M448.06 124.72L450.56 128.97L445.56 128.97Z" fill="none" stroke="#4040d8" stroke-width="0.75"/>
<path d="M445.65 133.23L448.15 137.48L443.15 137.48Z" fill="none" stroke="#4040d8" stroke-width="0.75"/>
<path d="M460.34 117.33L462.84 121.58L457.84 121.58Z" fill="none" stroke="#4040d8" stroke-width="0.75"/>
<path d="M476.75 126.17L479.25 130.42L474.25 130.42Z" fill="none" stroke="#4040d8" stroke-width="0.75"/>
<path d="M488.49 122.83L490.99 127.08L485.99 127.08Z" fill="none" stroke="#4040d8" stroke-width="0.75"/>
<path d="M425.73 127.26L428.23 131.51L423.23 131.51Z" fill="none" stroke="#4040d8" stroke-width="0.75"/>
<path d="M479.47 139.00L481.97 143.25L476.97 143.25Z" fill="none" stroke="#4040d8" stroke-width="0.75"/>
<path d="M456.34 129.95L458.84 134.20L453.84 134.20Z" fill="none" stroke="#4040d8" stroke-width="0.75"/>
<path d="M439.12 126.44L441.62 130.69L436.62 130.69Z" fill="none" stroke="#4040d8" stroke-width="0.75"/>
<path d="M429.85 123.65L432.35 127.90L427.35 127.90Z" fill="none" stroke="#4040d8" stroke-width="0.75"/>
<path d="M448.34 145.51L450.84 149.76L445.84 149.76Z" fill="none" stroke="#4040d8" stroke-width="0.75"/>
<path d="M435.02 129.19L437.52 133.44L432.52 133.44Z" fill="none" stroke="#4040d8" stroke-width="0.75"/>
<path d="M430.09 141.63L432.59 145.88L427.59 145.88Z" fill="none" stroke="#4040d8" stroke-width="0.75"/>
<path d="M447.79 130.21L450.29 134.46L445.29 134.46Z" fill="none" stroke="#4040d8" stroke-width="0.75"/>
<path d="M460.65 115.87L463.15 120.12L458.15 120.12Z" fill="none" stroke="#4040d8" stroke-width="0.75"/>
<path d="M86.54 22.30L91.14 26.90M91.14 22.30L86.54 26.90M88.84 22.30L88.84 26.90M86.54 24.60L91.14 24.60" stroke="#e3202e" stroke-width="0.9"/>
<path d="M70.81 27.31L75.41 31.91M75.41 27.31L70.81 31.91M73.11 27.31L73.11 31.91M70.81 29.61L75.41 29.61" stroke="#e3202e" stroke-width="0.9"/>
<path d="M71.22 31.07L75.82 35.67M75.82 31.07L71.22 35.67M73.52 31.07L73.52 35.67M71.22 33.37L75.82 33.37" stroke="#e3202e" stroke-width="0.9"/>
<path d="M98.66 38.04L103.26 42.64M103.26 38.04L98.66 42.64M100.96 38.04L100.96 42.64M98.66 40.34L103.26 40.34" stroke="#e3202e" stroke-width="0.9"/>
<path d="M55.76 39.71L60.36 44.31M60.36 39.71L55.76 44.31M58.06 39.71L58.06 44.31M55.76 42.01L60.36 42.01" stroke="#e3202e" stroke-width="0.9"/>
<path d="M70.81 48.09L75.41 52.69M75.41 48.09L70.81 52.69M73.11 48.09L73.11 52.69M70.81 50.39L75.41 50.39" stroke="#e3202e" stroke-width="0.9"/>
<path d="M58.97 52.55L63.57 57.15M63.57 52.55L58.97 57.15M61.27 52.55L61.27 57.15M58.97 54.85L63.57 54.85" stroke="#e3202e" stroke-width="0.9"/>
<path d="M54.79 58.54L59.39 63.14M59.39 58.54L54.79 63.14M57.09 58.54L57.09 63.14M54.79 60.84L59.39 60.84" stroke="#e3202e" stroke-width="0.9"/>
<path d="M56.18 62.30L60.78 66.90M60.78 62.30L56.18 66.90M58.48 62.30L58.48 66.90M56.18 64.60L60.78 64.60" stroke="#e3202e" stroke-width="0.9"/>
<path d="M53.40 67.31L58.00 71.91M58.00 67.31L53.40 71.91M55.70 67.31L55.70 71.91M53.40 69.61L58.00 69.61" stroke="#e3202e" stroke-width="0.9"/>
<path d="M61.34 67.59L65.94 72.19M65.94 67.59L61.34 72.19M63.64 67.59L63.64 72.19M61.34 69.89L65.94 69.89" stroke="#e3202e" stroke-width="0.9"/>
<path d="M79.86 65.50L84.46 70.10M84.46 65.50L79.86 70.10M82.16 65.50L82.16 70.10M79.86 67.80L84.46 67.80" stroke="#e3202e" stroke-width="0.9"/>
<path d="M137.24 62.02L141.84 66.62M141.84 62.02L137.24 66.62M139.54 62.02L139.54 66.62M137.24 64.32L141.84 64.32" stroke="#e3202e" stroke-width="0.9"/>
<path d="M94.76 74.56L99.36 79.16M99.36 74.56L94.76 79.16M97.06 74.56L97.06 79.16M94.76 76.86L99.36 76.86" stroke="#e3202e" stroke-width="0.9"/>
<path d="M61.75 76.64L66.35 81.24M66.35 76.64L61.75 81.24M64.05 76.64L64.05 81.24M61.75 78.94L66.35 78.94" stroke="#e3202e" stroke-width="0.9"/>
<path d="M65.51 75.25L70.11 79.85M70.11 75.25L65.51 79.85M67.81 75.25L67.81 79.85M65.51 77.55L70.11 77.55" stroke="#e3202e" stroke-width="0.9"/>
<path d="M69.69 77.34L74.29 81.94M74.29 77.34L69.69 81.94M71.99 77.34L71.99 81.94M69.69 79.64L74.29 79.64" stroke="#e3202e" stroke-width="0.9"/>
<path d="M69.13 79.85L73.73 84.45M73.73 79.85L69.13 84.45M71.43 79.85L71.43 84.45M69.13 82.15L73.73 82.15" stroke="#e3202e" stroke-width="0.9"/>
<path d="M75.68 77.62L80.28 82.22M80.28 77.62L75.68 82.22M77.98 77.62L77.98 82.22M75.68 79.92L80.28 79.92" stroke="#e3202e" stroke-width="0.9"/>
<path d="M64.96 81.52L69.56 86.12M69.56 81.52L64.96 86.12M67.26 81.52L67.26 86.12M64.96 83.82L69.56 83.82" stroke="#e3202e" stroke-width="0.9"/>
<path d="M77.49 82.22L82.09 86.82M82.09 82.22L77.49 86.82M79.79 82.22L79.79 86.82M77.49 84.52L82.09 84.52" stroke="#e3202e" stroke-width="0.9"/>
<path d="M81.95 81.80L86.55 86.40M86.55 81.80L81.95 86.40M84.25 81.80L84.25 86.40M81.95 84.10L86.55 84.10" stroke="#e3202e" stroke-width="0.9"/>
<path d="M94.76 82.22L99.36 86.82M99.36 82.22L94.76 86.82M97.06 82.22L97.06 86.82M94.76 84.52L99.36 84.52" stroke="#e3202e" stroke-width="0.9"/>
<path d="M109.11 80.82L113.71 85.42M113.71 80.82L109.11 85.42M111.41 80.82L111.41 85.42M109.11 83.12L113.71 83.12" stroke="#e3202e" stroke-width="0.9"/>
<path d="M136.54 82.22L141.14 86.82M141.14 82.22L136.54 86.82M138.84 82.22L138.84 86.82M136.54 84.52L141.14 84.52" stroke="#e3202e" stroke-width="0.9"/>
<path d="M216.07 58.96L220.67 63.56M220.67 58.96L216.07 63.56M218.37 58.96L218.37 63.56M216.07 61.26L220.67 61.26" stroke="#e3202e" stroke-width="0.9"/>
<path d="M169.13 80.40L173.73 85.00M173.73 80.40L169.13 85.00M171.43 80.40L171.43 85.00M169.13 82.70L173.73 82.70" stroke="#e3202e" stroke-width="0.9"/>
<path d="M56.18 92.97L60.78 97.57M60.78 92.97L56.18 97.57M58.48 92.97L58.48 97.57M56.18 95.27L60.78 95.27" stroke="#e3202e" stroke-width="0.9"/>
<path d="M57.57 96.45L62.17 101.05M62.17 96.45L57.57 101.05M59.87 96.45L59.87 101.05M57.57 98.75L62.17 98.75" stroke="#e3202e" stroke-width="0.9"/>
<path d="M65.51 92.55L70.11 97.15M70.11 92.55L65.51 97.15M67.81 92.55L67.81 97.15M65.51 94.85L70.11 94.85" stroke="#e3202e" stroke-width="0.9"/>
<path d="M81.25 90.88L85.85 95.48M85.85 90.88L81.25 95.48M83.55 90.88L83.55 95.48M81.25 93.18L85.85 93.18" stroke="#e3202e" stroke-width="0.9"/>
<path d="M84.04 92.97L88.64 97.57M88.64 92.97L84.04 97.57M86.34 92.97L86.34 97.57M84.04 95.27L88.64 95.27" stroke="#e3202e" stroke-width="0.9"/>
<path d="M91.00 97.15L95.60 101.75M95.60 97.15L91.00 101.75M93.30 97.15L93.30 101.75M91.00 99.45L95.60 99.45" stroke="#e3202e" stroke-width="0.9"/>
<path d="M93.79 99.93L98.39 104.53M98.39 99.93L93.79 104.53M96.09 99.93L96.09 104.53M93.79 102.23L98.39 102.23" stroke="#e3202e" stroke-width="0.9"/>
<path d="M96.57 99.93L101.17 104.53M101.17 99.93L96.57 104.53M98.87 99.93L98.87 104.53M96.57 102.23L101.17 102.23" stroke="#e3202e" stroke-width="0.9"/>
<path d="M107.02 99.93L111.62 104.53M111.62 99.93L107.02 104.53M109.32 99.93L109.32 104.53M107.02 102.23L111.62 102.23" stroke="#e3202e" stroke-width="0.9"/>
<path d="M125.12 96.45L129.72 101.05M129.72 96.45L125.12 101.05M127.42 96.45L127.42 101.05M125.12 98.75L129.72 98.75" stroke="#e3202e" stroke-width="0.9"/>
<path d="M139.05 92.97L143.65 97.57M143.65 92.97L139.05 97.57M141.35 92.97L141.35 97.57M139.05 95.27L143.65 95.27" stroke="#e3202e" stroke-width="0.9"/>
<path d="M62.45 100.63L67.05 105.23M67.05 100.63L62.45 105.23M64.75 100.63L64.75 105.23M62.45 102.93L67.05 102.93" stroke="#e3202e" stroke-width="0.9"/>
<path d="M58.27 105.50L62.87 110.10M62.87 105.50L58.27 110.10M60.57 105.50L60.57 110.10M58.27 107.80L62.87 107.80" stroke="#e3202e" stroke-width="0.9"/>
<path d="M78.47 99.93L83.07 104.53M83.07 99.93L78.47 104.53M80.77 99.93L80.77 104.53M78.47 102.23L83.07 102.23" stroke="#e3202e" stroke-width="0.9"/>
<path d="M79.16 108.29L83.76 112.89M83.76 108.29L79.16 112.89M81.46 108.29L81.46 112.89M79.16 110.59L83.76 110.59" stroke="#e3202e" stroke-width="0.9"/>
<path d="M70.81 109.68L75.41 114.28M75.41 109.68L70.81 114.28M73.11 109.68L73.11 114.28M70.81 111.98L75.41 111.98" stroke="#e3202e" stroke-width="0.9"/>
<path d="M116.77 104.11L121.37 108.71M121.37 104.11L116.77 108.71M119.07 104.11L119.07 108.71M116.77 106.41L121.37 106.41" stroke="#e3202e" stroke-width="0.9"/>
<path d="M119.55 104.11L124.15 108.71M124.15 104.11L119.55 108.71M121.85 104.11L121.85 108.71M119.55 106.41L124.15 106.41" stroke="#e3202e" stroke-width="0.9"/>
<path d="M137.66 106.20L142.26 110.80M142.26 106.20L137.66 110.80M139.96 106.20L139.96 110.80M137.66 108.50L142.26 108.50" stroke="#e3202e" stroke-width="0.9"/>
<path d="M141.84 103.13L146.44 107.73M146.44 103.13L141.84 107.73M144.14 103.13L144.14 107.73M141.84 105.43L146.44 105.43" stroke="#e3202e" stroke-width="0.9"/>
<path d="M140.44 108.98L145.04 113.58M145.04 108.98L140.44 113.58M142.74 108.98L142.74 113.58M140.44 111.28L145.04 111.28" stroke="#e3202e" stroke-width="0.9"/>
<path d="M144.62 110.38L149.22 114.98M149.22 110.38L144.62 114.98M146.92 110.38L146.92 114.98M144.62 112.68L149.22 112.68" stroke="#e3202e" stroke-width="0.9"/>
<path d="M108.41 113.16L113.01 117.76M113.01 113.16L108.41 117.76M110.71 113.16L110.71 117.76M108.41 115.46L113.01 115.46" stroke="#e3202e" stroke-width="0.9"/>
<path d="M110.50 111.77L115.10 116.37M115.10 111.77L110.50 116.37M112.80 111.77L112.80 116.37M110.50 114.07L115.10 114.07" stroke="#e3202e" stroke-width="0.9"/>
<path d="M54.09 109.68L58.69 114.28M58.69 109.68L54.09 114.28M56.39 109.68L56.39 114.28M54.09 111.98L58.69 111.98" stroke="#e3202e" stroke-width="0.9"/>
<path d="M65.93 115.95L70.53 120.55M70.53 115.95L65.93 120.55M68.23 115.95L68.23 120.55M65.93 118.25L70.53 118.25" stroke="#e3202e" stroke-width="0.9"/>
<path d="M82.64 115.25L87.24 119.85M87.24 115.25L82.64 119.85M84.94 115.25L84.94 119.85M82.64 117.55L87.24 117.55" stroke="#e3202e" stroke-width="0.9"/>
<path d="M84.04 117.34L88.64 121.94M88.64 117.34L84.04 121.94M86.34 117.34L86.34 121.94M84.04 119.64L88.64 119.64" stroke="#e3202e" stroke-width="0.9"/>
<path d="M95.88 115.95L100.48 120.55M100.48 115.95L95.88 120.55M98.18 115.95L98.18 120.55M95.88 118.25L100.48 118.25" stroke="#e3202e" stroke-width="0.9"/>
<path d="M98.66 118.04L103.26 122.64M103.26 118.04L98.66 122.64M100.96 118.04L100.96 122.64M98.66 120.34L103.26 120.34" stroke="#e3202e" stroke-width="0.9"/>
<path d="M75.68 117.34L80.28 121.94M80.28 117.34L75.68 121.94M77.98 117.34L77.98 121.94M75.68 119.64L80.28 119.64" stroke="#e3202e" stroke-width="0.9"/>
<path d="M118.16 116.64L122.76 121.24M122.76 116.64L118.16 121.24M120.46 116.64L120.46 121.24M118.16 118.94L122.76 118.94" stroke="#e3202e" stroke-width="0.9"/>
<path d="M120.95 115.25L125.55 119.85M125.55 115.25L120.95 119.85M123.25 115.25L123.25 119.85M120.95 117.55L125.55 117.55" stroke="#e3202e" stroke-width="0.9"/>
<path d="M123.73 122.22L128.33 126.82M128.33 122.22L123.73 126.82M126.03 122.22L126.03 126.82M123.73 124.52L128.33 124.52" stroke="#e3202e" stroke-width="0.9"/>
<path d="M63.15 119.43L67.75 124.03M67.75 119.43L63.15 124.03M65.45 119.43L65.45 124.03M63.15 121.73L67.75 121.73" stroke="#e3202e" stroke-width="0.9"/>
<path d="M54.79 118.73L59.39 123.33M59.39 118.73L54.79 123.33M57.09 118.73L57.09 123.33M54.79 121.03L59.39 121.03" stroke="#e3202e" stroke-width="0.9"/>
<path d="M69.41 122.22L74.01 126.82M74.01 122.22L69.41 126.82M71.71 122.22L71.71 126.82M69.41 124.52L74.01 124.52" stroke="#e3202e" stroke-width="0.9"/>
<path d="M82.64 122.91L87.24 127.51M87.24 122.91L82.64 127.51M84.94 122.91L84.94 127.51M82.64 125.21L87.24 125.21" stroke="#e3202e" stroke-width="0.9"/>
<path d="M86.82 122.63L91.42 127.23M91.42 122.63L86.82 127.23M89.12 122.63L89.12 127.23M86.82 124.93L91.42 124.93" stroke="#e3202e" stroke-width="0.9"/>
<path d="M94.48 120.13L99.08 124.73M99.08 120.13L94.48 124.73M96.78 120.13L96.78 124.73M94.48 122.43L99.08 122.43" stroke="#e3202e" stroke-width="0.9"/>
<path d="M95.88 123.19L100.48 127.79M100.48 123.19L95.88 127.79M98.18 123.19L98.18 127.79M95.88 125.49L100.48 125.49" stroke="#e3202e" stroke-width="0.9"/>
<path d="M141.84 123.19L146.44 127.79M146.44 123.19L141.84 127.79M144.14 123.19L144.14 127.79M141.84 125.49L146.44 125.49" stroke="#e3202e" stroke-width="0.9"/>
<path d="M61.06 125.00L65.66 129.60M65.66 125.00L61.06 129.60M63.36 125.00L63.36 129.60M61.06 127.30L65.66 127.30" stroke="#e3202e" stroke-width="0.9"/>
<path d="M155.21 103.41L159.81 108.01M159.81 103.41L155.21 108.01M157.51 103.41L157.51 108.01M155.21 105.71L159.81 105.71" stroke="#e3202e" stroke-width="0.9"/>
<path d="M163.84 107.87L168.44 112.47M168.44 107.87L163.84 112.47M166.14 107.87L166.14 112.47M163.84 110.17L168.44 110.17" stroke="#e3202e" stroke-width="0.9"/>
<path d="M209.80 102.72L214.40 107.32M214.40 102.72L209.80 107.32M212.10 102.72L212.10 107.32M209.80 105.02L214.40 105.02" stroke="#e3202e" stroke-width="0.9"/>
<path d="M200.05 110.66L204.65 115.26M204.65 110.66L200.05 115.26M202.35 110.66L202.35 115.26M200.05 112.96L204.65 112.96" stroke="#e3202e" stroke-width="0.9"/>
<path d="M220.95 108.98L225.55 113.58M225.55 108.98L220.95 113.58M223.25 108.98L223.25 113.58M220.95 111.28L225.55 111.28" stroke="#e3202e" stroke-width="0.9"/>
<path d="M236.68 109.96L241.28 114.56M241.28 109.96L236.68 114.56M238.98 109.96L238.98 114.56M236.68 112.26L241.28 112.26" stroke="#e3202e" stroke-width="0.9"/>
<path d="M180.56 119.43L185.16 124.03M185.16 119.43L180.56 124.03M182.86 119.43L182.86 124.03M180.56 121.73L185.16 121.73" stroke="#e3202e" stroke-width="0.9"/>
<path d="M186.82 120.13L191.42 124.73M191.42 120.13L186.82 124.73M189.12 120.13L189.12 124.73M186.82 122.43L191.42 122.43" stroke="#e3202e" stroke-width="0.9"/>
<path d="M204.23 119.43L208.83 124.03M208.83 119.43L204.23 124.03M206.53 119.43L206.53 124.03M204.23 121.73L208.83 121.73" stroke="#e3202e" stroke-width="0.9"/>
<path d="M154.79 124.30L159.39 128.90M159.39 124.30L154.79 128.90M157.09 124.30L157.09 128.90M154.79 126.60L159.39 126.60" stroke="#e3202e" stroke-width="0.9"/>
<path d="M163.15 124.30L167.75 128.90M167.75 124.30L163.15 128.90M165.45 124.30L165.45 128.90M163.15 126.60L167.75 126.60" stroke="#e3202e" stroke-width="0.9"/>
<path d="M168.02 124.30L172.62 128.90M172.62 124.30L168.02 128.90M170.32 124.30L170.32 128.90M168.02 126.60L172.62 126.60" stroke="#e3202e" stroke-width="0.9"/>
<path d="M176.38 124.03L180.98 128.63M180.98 124.03L176.38 128.63M178.68 124.03L178.68 128.63M176.38 126.33L180.98 126.33" stroke="#e3202e" stroke-width="0.9"/>
<path d="M220.67 124.58L225.27 129.18M225.27 124.58L220.67 129.18M222.97 124.58L222.97 129.18M220.67 126.88L225.27 126.88" stroke="#e3202e" stroke-width="0.9"/>
<path d="M59.66 135.75L64.26 140.35M64.26 135.75L59.66 140.35M61.96 135.75L61.96 140.35M59.66 138.05L64.26 138.05" stroke="#e3202e" stroke-width="0.9"/>
<path d="M61.06 137.84L65.66 142.44M65.66 137.84L61.06 142.44M63.36 137.84L63.36 142.44M61.06 140.14L65.66 140.14" stroke="#e3202e" stroke-width="0.9"/>
<path d="M56.88 142.02L61.48 146.62M61.48 142.02L56.88 146.62M59.18 142.02L59.18 146.62M56.88 144.32L61.48 144.32" stroke="#e3202e" stroke-width="0.9"/>
<path d="M65.23 142.02L69.83 146.62M69.83 142.02L65.23 146.62M67.53 142.02L67.53 146.62M65.23 144.32L69.83 144.32" stroke="#e3202e" stroke-width="0.9"/>
<path d="M69.41 140.63L74.01 145.23M74.01 140.63L69.41 145.23M71.71 140.63L71.71 145.23M69.41 142.93L74.01 142.93" stroke="#e3202e" stroke-width="0.9"/>
<path d="M75.68 139.93L80.28 144.53M80.28 139.93L75.68 144.53M77.98 139.93L77.98 144.53M75.68 142.23L80.28 142.23" stroke="#e3202e" stroke-width="0.9"/>
<path d="M86.13 132.97L90.73 137.57M90.73 132.97L86.13 137.57M88.43 132.97L88.43 137.57M86.13 135.27L90.73 135.27" stroke="#e3202e" stroke-width="0.9"/>
<path d="M84.73 138.54L89.33 143.14M89.33 138.54L84.73 143.14M87.03 138.54L87.03 143.14M84.73 140.84L89.33 140.84" stroke="#e3202e" stroke-width="0.9"/>
<path d="M91.70 137.84L96.30 142.44M96.30 137.84L91.70 142.44M94.00 137.84L94.00 142.44M91.70 140.14L96.30 140.14" stroke="#e3202e" stroke-width="0.9"/>
<path d="M98.66 135.06L103.26 139.66M103.26 135.06L98.66 139.66M100.96 135.06L100.96 139.66M98.66 137.36L103.26 137.36" stroke="#e3202e" stroke-width="0.9"/>
<path d="M100.05 139.93L104.65 144.53M104.65 139.93L100.05 144.53M102.35 139.93L102.35 144.53M100.05 142.23L104.65 142.23" stroke="#e3202e" stroke-width="0.9"/>
<path d="M109.80 128.09L114.40 132.69M114.40 128.09L109.80 132.69M112.10 128.09L112.10 132.69M109.80 130.39L114.40 130.39" stroke="#e3202e" stroke-width="0.9"/>
<path d="M116.07 129.49L120.67 134.09M120.67 129.49L116.07 134.09M118.37 129.49L118.37 134.09M116.07 131.79L120.67 131.79" stroke="#e3202e" stroke-width="0.9"/>
<path d="M127.91 132.27L132.51 136.87M132.51 132.27L127.91 136.87M130.21 132.27L130.21 136.87M127.91 134.57L132.51 134.57" stroke="#e3202e" stroke-width="0.9"/>
<path d="M130.69 135.06L135.29 139.66M135.29 135.06L130.69 139.66M132.99 135.06L132.99 139.66M130.69 137.36L135.29 137.36" stroke="#e3202e" stroke-width="0.9"/>
<path d="M141.84 135.75L146.44 140.35M146.44 135.75L141.84 140.35M144.14 135.75L144.14 140.35M141.84 138.05L146.44 138.05" stroke="#e3202e" stroke-width="0.9"/>
<path d="M111.20 142.02L115.80 146.62M115.80 142.02L111.20 146.62M113.50 142.02L113.50 146.62M111.20 144.32L115.80 144.32" stroke="#e3202e" stroke-width="0.9"/>
<path d="M123.73 139.93L128.33 144.53M128.33 139.93L123.73 144.53M126.03 139.93L126.03 144.53M123.73 142.23L128.33 142.23" stroke="#e3202e" stroke-width="0.9"/>
<path d="M125.82 144.11L130.42 148.71M130.42 144.11L125.82 148.71M128.12 144.11L128.12 148.71M125.82 146.41L130.42 146.41" stroke="#e3202e" stroke-width="0.9"/>
<path d="M133.48 142.02L138.08 146.62M138.08 142.02L133.48 146.62M135.78 142.02L135.78 146.62M133.48 144.32L138.08 144.32" stroke="#e3202e" stroke-width="0.9"/>
<path d="M136.27 140.63L140.87 145.23M140.87 140.63L136.27 145.23M138.57 140.63L138.57 145.23M136.27 142.93L140.87 142.93" stroke="#e3202e" stroke-width="0.9"/>
<path d="M150.19 140.63L154.79 145.23M154.79 140.63L150.19 145.23M152.49 140.63L152.49 145.23M150.19 142.93L154.79 142.93" stroke="#e3202e" stroke-width="0.9"/>
<path d="M148.80 144.81L153.40 149.41M153.40 144.81L148.80 149.41M151.10 144.81L151.10 149.41M148.80 147.11L153.40 147.11" stroke="#e3202e" stroke-width="0.9"/>
<path d="M80.56 142.72L85.16 147.32M85.16 142.72L80.56 147.32M82.86 142.72L82.86 147.32M80.56 145.02L85.16 145.02" stroke="#e3202e" stroke-width="0.9"/>
<path d="M88.91 145.50L93.51 150.10M93.51 145.50L88.91 150.10M91.21 145.50L91.21 150.10M88.91 147.80L93.51 147.80" stroke="#e3202e" stroke-width="0.9"/>
<path d="M97.27 142.72L101.87 147.32M101.87 142.72L97.27 147.32M99.57 142.72L99.57 147.32M97.27 145.02L101.87 145.02" stroke="#e3202e" stroke-width="0.9"/>
<path d="M70.81 144.81L75.41 149.41M75.41 144.81L70.81 149.41M73.11 144.81L73.11 149.41M70.81 147.11L75.41 147.11" stroke="#e3202e" stroke-width="0.9"/>
<path d="M56.88 149.68L61.48 154.28M61.48 149.68L56.88 154.28M59.18 149.68L59.18 154.28M56.88 151.98L61.48 151.98" stroke="#e3202e" stroke-width="0.9"/>
<path d="M59.66 150.38L64.26 154.98M64.26 150.38L59.66 154.98M61.96 150.38L61.96 154.98M59.66 152.68L64.26 152.68" stroke="#e3202e" stroke-width="0.9"/>
<path d="M62.45 153.86L67.05 158.46M67.05 153.86L62.45 158.46M64.75 153.86L64.75 158.46M62.45 156.16L67.05 156.16" stroke="#e3202e" stroke-width="0.9"/>
<path d="M74.98 156.64L79.58 161.24M79.58 156.64L74.98 161.24M77.28 156.64L77.28 161.24M74.98 158.94L79.58 158.94" stroke="#e3202e" stroke-width="0.9"/>
<path d="M68.72 158.73L73.32 163.33M73.32 158.73L68.72 163.33M71.02 158.73L71.02 163.33M68.72 161.03L73.32 161.03" stroke="#e3202e" stroke-width="0.9"/>
<path d="M83.34 159.43L87.94 164.03M87.94 159.43L83.34 164.03M85.64 159.43L85.64 164.03M83.34 161.73L87.94 161.73" stroke="#e3202e" stroke-width="0.9"/>
<path d="M70.81 162.22L75.41 166.82M75.41 162.22L70.81 166.82M73.11 162.22L73.11 166.82M70.81 164.52L75.41 164.52" stroke="#e3202e" stroke-width="0.9"/>
<path d="M59.66 162.91L64.26 167.51M64.26 162.91L59.66 167.51M61.96 162.91L61.96 167.51M59.66 165.21L64.26 165.21" stroke="#e3202e" stroke-width="0.9"/>
<path d="M116.77 151.77L121.37 156.37M121.37 151.77L116.77 156.37M119.07 151.77L119.07 156.37M116.77 154.07L121.37 154.07" stroke="#e3202e" stroke-width="0.9"/>
<path d="M115.37 155.25L119.97 159.85M119.97 155.25L115.37 159.85M117.67 155.25L117.67 159.85M115.37 157.55L119.97 157.55" stroke="#e3202e" stroke-width="0.9"/>
<path d="M116.77 158.04L121.37 162.64M121.37 158.04L116.77 162.64M119.07 158.04L119.07 162.64M116.77 160.34L121.37 160.34" stroke="#e3202e" stroke-width="0.9"/>
<path d="M113.98 162.91L118.58 167.51M118.58 162.91L113.98 167.51M116.28 162.91L116.28 167.51M113.98 165.21L118.58 165.21" stroke="#e3202e" stroke-width="0.9"/>
<path d="M111.20 164.30L115.80 168.90M115.80 164.30L111.20 168.90M113.50 164.30L113.50 168.90M111.20 166.60L115.80 166.60" stroke="#e3202e" stroke-width="0.9"/>
<path d="M123.73 164.30L128.33 168.90M128.33 164.30L123.73 168.90M126.03 164.30L126.03 168.90M123.73 166.60L128.33 166.60" stroke="#e3202e" stroke-width="0.9"/>
<path d="M134.87 161.52L139.47 166.12M139.47 161.52L134.87 166.12M137.17 161.52L137.17 166.12M134.87 163.82L139.47 163.82" stroke="#e3202e" stroke-width="0.9"/>
<path d="M141.84 160.13L146.44 164.73M146.44 160.13L141.84 164.73M144.14 160.13L144.14 164.73M141.84 162.43L146.44 162.43" stroke="#e3202e" stroke-width="0.9"/>
<path d="M148.80 154.56L153.40 159.16M153.40 154.56L148.80 159.16M151.10 154.56L151.10 159.16M148.80 156.86L153.40 156.86" stroke="#e3202e" stroke-width="0.9"/>
<path d="M136.27 164.30L140.87 168.90M140.87 164.30L136.27 168.90M138.57 164.30L138.57 168.90M136.27 166.60L140.87 166.60" stroke="#e3202e" stroke-width="0.9"/>
<path d="M105.62 148.98L110.22 153.58M110.22 148.98L105.62 153.58M107.92 148.98L107.92 153.58M105.62 151.28L110.22 151.28" stroke="#e3202e" stroke-width="0.9"/>
<path d="M132.09 146.89L136.69 151.49M136.69 146.89L132.09 151.49M134.39 146.89L134.39 151.49M132.09 149.19L136.69 149.19" stroke="#e3202e" stroke-width="0.9"/>
<path d="M101.45 164.30L106.05 168.90M106.05 164.30L101.45 168.90M103.75 164.30L103.75 168.90M101.45 166.60L106.05 166.60" stroke="#e3202e" stroke-width="0.9"/>
<path d="M97.27 165.42L101.87 170.02M101.87 165.42L97.27 170.02M99.57 165.42L99.57 170.02M97.27 167.72L101.87 167.72" stroke="#e3202e" stroke-width="0.9"/>
<path d="M168.02 129.49L172.62 134.09M172.62 129.49L168.02 134.09M170.32 129.49L170.32 134.09M168.02 131.79L172.62 131.79" stroke="#e3202e" stroke-width="0.9"/>
<path d="M170.81 128.79L175.41 133.39M175.41 128.79L170.81 133.39M173.11 128.79L173.11 133.39M170.81 131.09L175.41 131.09" stroke="#e3202e" stroke-width="0.9"/>
<path d="M186.13 128.09L190.73 132.69M190.73 128.09L186.13 132.69M188.43 128.09L188.43 132.69M186.13 130.39L190.73 130.39" stroke="#e3202e" stroke-width="0.9"/>
<path d="M190.30 132.27L194.90 136.87M194.90 132.27L190.30 136.87M192.60 132.27L192.60 136.87M190.30 134.57L194.90 134.57" stroke="#e3202e" stroke-width="0.9"/>
<path d="M208.41 132.27L213.01 136.87M213.01 132.27L208.41 136.87M210.71 132.27L210.71 136.87M208.41 134.57L213.01 134.57" stroke="#e3202e" stroke-width="0.9"/>
<path d="M220.95 134.36L225.55 138.96M225.55 134.36L220.95 138.96M223.25 134.36L223.25 138.96M220.95 136.66L225.55 136.66" stroke="#e3202e" stroke-width="0.9"/>
<path d="M222.34 135.06L226.94 139.66M226.94 135.06L222.34 139.66M224.64 135.06L224.64 139.66M222.34 137.36L226.94 137.36" stroke="#e3202e" stroke-width="0.9"/>
<path d="M229.30 128.09L233.90 132.69M233.90 128.09L229.30 132.69M231.60 128.09L231.60 132.69M229.30 130.39L233.90 130.39" stroke="#e3202e" stroke-width="0.9"/>
<path d="M244.62 129.49L249.22 134.09M249.22 129.49L244.62 134.09M246.92 129.49L246.92 134.09M244.62 131.79L249.22 131.79" stroke="#e3202e" stroke-width="0.9"/>
<path d="M243.23 131.57L247.83 136.17M247.83 131.57L243.23 136.17M245.53 131.57L245.53 136.17M243.23 133.87L247.83 133.87" stroke="#e3202e" stroke-width="0.9"/>
<path d="M169.41 142.02L174.01 146.62M174.01 142.02L169.41 146.62M171.71 142.02L171.71 146.62M169.41 144.32L174.01 144.32" stroke="#e3202e" stroke-width="0.9"/>
<path d="M179.16 141.32L183.76 145.92M183.76 141.32L179.16 145.92M181.46 141.32L181.46 145.92M179.16 143.62L183.76 143.62" stroke="#e3202e" stroke-width="0.9"/>
<path d="M197.27 147.59L201.87 152.19M201.87 147.59L197.27 152.19M199.57 147.59L199.57 152.19M197.27 149.89L201.87 149.89" stroke="#e3202e" stroke-width="0.9"/>
<path d="M197.96 149.68L202.56 154.28M202.56 149.68L197.96 154.28M200.26 149.68L200.26 154.28M197.96 151.98L202.56 151.98" stroke="#e3202e" stroke-width="0.9"/>
<path d="M230.69 142.72L235.29 147.32M235.29 142.72L230.69 147.32M232.99 142.72L232.99 147.32M230.69 145.02L235.29 145.02" stroke="#e3202e" stroke-width="0.9"/>
<path d="M165.93 152.47L170.53 157.07M170.53 152.47L165.93 157.07M168.23 152.47L168.23 157.07M165.93 154.77L170.53 154.77" stroke="#e3202e" stroke-width="0.9"/>
<path d="M170.81 154.56L175.41 159.16M175.41 154.56L170.81 159.16M173.11 154.56L173.11 159.16M170.81 156.86L175.41 156.86" stroke="#e3202e" stroke-width="0.9"/>
<path d="M162.45 161.52L167.05 166.12M167.05 161.52L162.45 166.12M164.75 161.52L164.75 166.12M162.45 163.82L167.05 163.82" stroke="#e3202e" stroke-width="0.9"/>
<path d="M177.77 163.61L182.37 168.21M182.37 163.61L177.77 168.21M180.07 163.61L180.07 168.21M177.77 165.91L182.37 165.91" stroke="#e3202e" stroke-width="0.9"/>
<path d="M181.95 160.82L186.55 165.42M186.55 160.82L181.95 165.42M184.25 160.82L184.25 165.42M181.95 163.12L186.55 163.12" stroke="#e3202e" stroke-width="0.9"/>
<path d="M188.91 160.13L193.51 164.73M193.51 160.13L188.91 164.73M191.21 160.13L191.21 164.73M188.91 162.43L193.51 162.43" stroke="#e3202e" stroke-width="0.9"/>
<path d="M204.93 156.64L209.53 161.24M209.53 156.64L204.93 161.24M207.23 156.64L207.23 161.24M204.93 158.94L209.53 158.94" stroke="#e3202e" stroke-width="0.9"/>
<path d="M207.71 154.56L212.31 159.16M212.31 154.56L207.71 159.16M210.01 154.56L210.01 159.16M207.71 156.86L212.31 156.86" stroke="#e3202e" stroke-width="0.9"/>
<path d="M216.07 148.98L220.67 153.58M220.67 148.98L216.07 153.58M218.37 148.98L218.37 153.58M216.07 151.28L220.67 151.28" stroke="#e3202e" stroke-width="0.9"/>
<path d="M219.55 127.40L224.15 132.00M224.15 127.40L219.55 132.00M221.85 127.40L221.85 132.00M219.55 129.70L224.15 129.70" stroke="#e3202e" stroke-width="0.9"/>
<path d="M54.79 168.79L59.39 173.39M59.39 168.79L54.79 173.39M57.09 168.79L57.09 173.39M54.79 171.09L59.39 171.09" stroke="#e3202e" stroke-width="0.9"/>
<path d="M68.02 169.49L72.62 174.09M72.62 169.49L68.02 174.09M70.32 169.49L70.32 174.09M68.02 171.79L72.62 171.79" stroke="#e3202e" stroke-width="0.9"/>
<path d="M68.72 172.27L73.32 176.87M73.32 172.27L68.72 176.87M71.02 172.27L71.02 176.87M68.72 174.57L73.32 174.57" stroke="#e3202e" stroke-width="0.9"/>
<path d="M70.81 167.40L75.41 172.00M75.41 167.40L70.81 172.00M73.11 167.40L73.11 172.00M70.81 169.70L75.41 169.70" stroke="#e3202e" stroke-width="0.9"/>
<path d="M77.77 171.57L82.37 176.17M82.37 171.57L77.77 176.17M80.07 171.57L80.07 176.17M77.77 173.87L82.37 173.87" stroke="#e3202e" stroke-width="0.9"/>
<path d="M83.34 171.57L87.94 176.17M87.94 171.57L83.34 176.17M85.64 171.57L85.64 176.17M83.34 173.87L87.94 173.87" stroke="#e3202e" stroke-width="0.9"/>
<path d="M96.57 167.40L101.17 172.00M101.17 167.40L96.57 172.00M98.87 167.40L98.87 172.00M96.57 169.70L101.17 169.70" stroke="#e3202e" stroke-width="0.9"/>
<path d="M101.45 170.18L106.05 174.78M106.05 170.18L101.45 174.78M103.75 170.18L103.75 174.78M101.45 172.48L106.05 172.48" stroke="#e3202e" stroke-width="0.9"/>
<path d="M104.23 173.66L108.83 178.26M108.83 173.66L104.23 178.26M106.53 173.66L106.53 178.26M104.23 175.96L108.83 175.96" stroke="#e3202e" stroke-width="0.9"/>
<path d="M109.80 166.70L114.40 171.30M114.40 166.70L109.80 171.30M112.10 166.70L112.10 171.30M109.80 169.00L114.40 169.00" stroke="#e3202e" stroke-width="0.9"/>
<path d="M133.48 167.40L138.08 172.00M138.08 167.40L133.48 172.00M135.78 167.40L135.78 172.00M133.48 169.70L138.08 169.70" stroke="#e3202e" stroke-width="0.9"/>
<path d="M142.53 172.27L147.13 176.87M147.13 172.27L142.53 176.87M144.83 172.27L144.83 176.87M142.53 174.57L147.13 174.57" stroke="#e3202e" stroke-width="0.9"/>
<path d="M136.27 175.34L140.87 179.94M140.87 175.34L136.27 179.94M138.57 175.34L138.57 179.94M136.27 177.64L140.87 177.64" stroke="#e3202e" stroke-width="0.9"/>
<path d="M54.09 179.93L58.69 184.53M58.69 179.93L54.09 184.53M56.39 179.93L56.39 184.53M54.09 182.23L58.69 182.23" stroke="#e3202e" stroke-width="0.9"/>
<path d="M70.81 178.54L75.41 183.14M75.41 178.54L70.81 183.14M73.11 178.54L73.11 183.14M70.81 180.84L75.41 180.84" stroke="#e3202e" stroke-width="0.9"/>
<path d="M73.59 179.93L78.19 184.53M78.19 179.93L73.59 184.53M75.89 179.93L75.89 184.53M73.59 182.23L78.19 182.23" stroke="#e3202e" stroke-width="0.9"/>
<path d="M74.98 177.84L79.58 182.44M79.58 177.84L74.98 182.44M77.28 177.84L77.28 182.44M74.98 180.14L79.58 180.14" stroke="#e3202e" stroke-width="0.9"/>
<path d="M88.22 182.02L92.82 186.62M92.82 182.02L88.22 186.62M90.52 182.02L90.52 186.62M88.22 184.32L92.82 184.32" stroke="#e3202e" stroke-width="0.9"/>
<path d="M97.27 178.54L101.87 183.14M101.87 178.54L97.27 183.14M99.57 178.54L99.57 183.14M97.27 180.84L101.87 180.84" stroke="#e3202e" stroke-width="0.9"/>
<path d="M119.55 180.35L124.15 184.95M124.15 180.35L119.55 184.95M121.85 180.35L121.85 184.95M119.55 182.65L124.15 182.65" stroke="#e3202e" stroke-width="0.9"/>
<path d="M130.00 180.35L134.60 184.95M134.60 180.35L130.00 184.95M132.30 180.35L132.30 184.95M130.00 182.65L134.60 182.65" stroke="#e3202e" stroke-width="0.9"/>
<path d="M70.81 184.81L75.41 189.41M75.41 184.81L70.81 189.41M73.11 184.81L73.11 189.41M70.81 187.11L75.41 187.11" stroke="#e3202e" stroke-width="0.9"/>
<path d="M76.38 186.20L80.98 190.80M80.98 186.20L76.38 190.80M78.68 186.20L78.68 190.80M76.38 188.50L80.98 188.50" stroke="#e3202e" stroke-width="0.9"/>
<path d="M102.84 187.31L107.44 191.91M107.44 187.31L102.84 191.91M105.14 187.31L105.14 191.91M102.84 189.61L107.44 189.61" stroke="#e3202e" stroke-width="0.9"/>
<path d="M94.48 189.26L99.08 193.86M99.08 189.26L94.48 193.86M96.78 189.26L96.78 193.86M94.48 191.56L99.08 191.56" stroke="#e3202e" stroke-width="0.9"/>
<path d="M88.22 191.77L92.82 196.37M92.82 191.77L88.22 196.37M90.52 191.77L90.52 196.37M88.22 194.07L92.82 194.07" stroke="#e3202e" stroke-width="0.9"/>
<path d="M65.23 194.56L69.83 199.16M69.83 194.56L65.23 199.16M67.53 194.56L67.53 199.16M65.23 196.86L69.83 196.86" stroke="#e3202e" stroke-width="0.9"/>
<path d="M55.49 196.64L60.09 201.24M60.09 196.64L55.49 201.24M57.79 196.64L57.79 201.24M55.49 198.94L60.09 198.94" stroke="#e3202e" stroke-width="0.9"/>
<path d="M61.06 202.63L65.66 207.23M65.66 202.63L61.06 207.23M63.36 202.63L63.36 207.23M61.06 204.93L65.66 204.93" stroke="#e3202e" stroke-width="0.9"/>
<path d="M79.86 200.82L84.46 205.42M84.46 200.82L79.86 205.42M82.16 200.82L82.16 205.42M79.86 203.12L84.46 203.12" stroke="#e3202e" stroke-width="0.9"/>
<path d="M207.71 171.57L212.31 176.17M212.31 171.57L207.71 176.17M210.01 171.57L210.01 176.17M207.71 173.87L212.31 173.87" stroke="#e3202e" stroke-width="0.9"/>
<path d="M195.18 183.41L199.78 188.01M199.78 183.41L195.18 188.01M197.48 183.41L197.48 188.01M195.18 185.71L199.78 185.71" stroke="#e3202e" stroke-width="0.9"/>
<path d="M61.25 208.56L65.85 213.16M65.85 208.56L61.25 213.16M63.55 208.56L63.55 213.16M61.25 210.86L65.85 210.86" stroke="#e3202e" stroke-width="0.9"/>
<path d="M104.42 209.53L109.02 214.13M109.02 209.53L104.42 214.13M106.72 209.53L106.72 214.13M104.42 211.83L109.02 211.83" stroke="#e3202e" stroke-width="0.9"/>
<path d="M270.03 124.37L274.63 128.97M274.63 124.37L270.03 128.97M272.33 124.37L272.33 128.97M270.03 126.67L274.63 126.67" stroke="#e3202e" stroke-width="0.9"/>
<path d="M280.75 133.84L285.35 138.44M285.35 133.84L280.75 138.44M283.05 133.84L283.05 138.44M280.75 136.14L285.35 136.14" stroke="#e3202e" stroke-width="0.9"/>
<path d="M427.97 13.27L432.57 17.87M432.57 13.27L427.97 17.87M430.27 13.27L430.27 17.87M427.97 15.57L432.57 15.57" stroke="#e3202e" stroke-width="0.9"/>
<path d="M431.17 20.93L435.77 25.53M435.77 20.93L431.17 25.53M433.47 20.93L433.47 25.53M431.17 23.23L435.77 23.23" stroke="#e3202e" stroke-width="0.9"/>
<path d="M443.71 19.96L448.31 24.56M448.31 19.96L443.71 24.56M446.01 19.96L446.01 24.56M443.71 22.26L448.31 22.26" stroke="#e3202e" stroke-width="0.9"/>
<path d="M426.57 33.47L431.17 38.07M431.17 33.47L426.57 38.07M428.87 33.47L428.87 38.07M426.57 35.77L431.17 35.77" stroke="#e3202e" stroke-width="0.9"/>
<path d="M424.49 35.56L429.09 40.16M429.09 35.56L424.49 40.16M426.79 35.56L426.79 40.16M424.49 37.86L429.09 37.86" stroke="#e3202e" stroke-width="0.9"/>
<path d="M447.47 35.56L452.07 40.16M452.07 35.56L447.47 40.16M449.77 35.56L449.77 40.16M447.47 37.86L452.07 37.86" stroke="#e3202e" stroke-width="0.9"/>
<path d="M487.44 34.44L492.04 39.04M492.04 34.44L487.44 39.04M489.74 34.44L489.74 39.04M487.44 36.74L492.04 36.74" stroke="#e3202e" stroke-width="0.9"/>
<path d="M428.39 40.85L432.99 45.45M432.99 40.85L428.39 45.45M430.69 40.85L430.69 45.45M428.39 43.15L432.99 43.15" stroke="#e3202e" stroke-width="0.9"/>
<path d="M443.98 42.24L448.58 46.84M448.58 42.24L443.98 46.84M446.28 42.24L446.28 46.84M443.98 44.54L448.58 44.54" stroke="#e3202e" stroke-width="0.9"/>
<path d="M448.86 41.40L453.46 46.00M453.46 41.40L448.86 46.00M451.16 41.40L451.16 46.00M448.86 43.70L453.46 43.70" stroke="#e3202e" stroke-width="0.9"/>
<path d="M423.79 51.88L428.39 56.48M428.39 51.88L423.79 56.48M426.09 51.88L426.09 56.48M423.79 54.18L428.39 54.18" stroke="#e3202e" stroke-width="0.9"/>
<path d="M427.27 49.09L431.87 53.69M431.87 49.09L427.27 53.69M429.57 49.09L429.57 53.69M427.27 51.39L431.87 51.39" stroke="#e3202e" stroke-width="0.9"/>
<path d="M425.88 53.97L430.48 58.57M430.48 53.97L425.88 58.57M428.18 53.97L428.18 58.57M425.88 56.27L430.48 56.27" stroke="#e3202e" stroke-width="0.9"/>
<path d="M434.23 52.57L438.83 57.17M438.83 52.57L434.23 57.17M436.53 52.57L436.53 57.17M434.23 54.87L438.83 54.87" stroke="#e3202e" stroke-width="0.9"/>
<path d="M441.89 53.27L446.49 57.87M446.49 53.27L441.89 57.87M444.19 53.27L444.19 57.87M441.89 55.57L446.49 55.57" stroke="#e3202e" stroke-width="0.9"/>
<path d="M444.68 49.09L449.28 53.69M449.28 49.09L444.68 53.69M446.98 49.09L446.98 53.69M444.68 51.39L449.28 51.39" stroke="#e3202e" stroke-width="0.9"/>
<path d="M446.07 52.57L450.67 57.17M450.67 52.57L446.07 57.17M448.37 52.57L448.37 57.17M446.07 54.87L450.67 54.87" stroke="#e3202e" stroke-width="0.9"/>
<path d="M466.27 52.57L470.87 57.17M470.87 52.57L466.27 57.17M468.57 52.57L468.57 57.17M466.27 54.87L470.87 54.87" stroke="#e3202e" stroke-width="0.9"/>
<path d="M470.45 58.15L475.05 62.75M475.05 58.15L470.45 62.75M472.75 58.15L472.75 62.75M470.45 60.45L475.05 60.45" stroke="#e3202e" stroke-width="0.9"/>
<path d="M488.27 54.94L492.87 59.54M492.87 54.94L488.27 59.54M490.57 54.94L490.57 59.54M488.27 57.24L492.87 57.24" stroke="#e3202e" stroke-width="0.9"/>
<path d="M425.88 62.32L430.48 66.92M430.48 62.32L425.88 66.92M428.18 62.32L428.18 66.92M425.88 64.62L430.48 64.62" stroke="#e3202e" stroke-width="0.9"/>
<path d="M427.97 65.11L432.57 69.71M432.57 65.11L427.97 69.71M430.27 65.11L430.27 69.71M427.97 67.41L432.57 67.41" stroke="#e3202e" stroke-width="0.9"/>
<path d="M430.06 67.20L434.66 71.80M434.66 67.20L430.06 71.80M432.36 67.20L432.36 71.80M430.06 69.50L434.66 69.50" stroke="#e3202e" stroke-width="0.9"/>
<path d="M433.54 65.11L438.14 69.71M438.14 65.11L433.54 69.71M435.84 65.11L435.84 69.71M433.54 67.41L438.14 67.41" stroke="#e3202e" stroke-width="0.9"/>
<path d="M446.77 63.02L451.37 67.62M451.37 63.02L446.77 67.62M449.07 63.02L449.07 67.62M446.77 65.32L451.37 65.32" stroke="#e3202e" stroke-width="0.9"/>
<path d="M449.56 65.11L454.16 69.71M454.16 65.11L449.56 69.71M451.86 65.11L451.86 69.71M449.56 67.41L454.16 67.41" stroke="#e3202e" stroke-width="0.9"/>
<path d="M452.34 60.93L456.94 65.53M456.94 60.93L452.34 65.53M454.64 60.93L454.64 65.53M452.34 63.23L456.94 63.23" stroke="#e3202e" stroke-width="0.9"/>
<path d="M460.70 60.23L465.30 64.83M465.30 60.23L460.70 64.83M463.00 60.23L463.00 64.83M460.70 62.53L465.30 62.53" stroke="#e3202e" stroke-width="0.9"/>
<path d="M461.39 62.32L465.99 66.92M465.99 62.32L461.39 66.92M463.69 62.32L463.69 66.92M461.39 64.62L465.99 64.62" stroke="#e3202e" stroke-width="0.9"/>
<path d="M439.81 69.98L444.41 74.58M444.41 69.98L439.81 74.58M442.11 69.98L442.11 74.58M439.81 72.28L444.41 72.28" stroke="#e3202e" stroke-width="0.9"/>
<path d="M438.41 72.07L443.01 76.67M443.01 72.07L438.41 76.67M440.71 72.07L440.71 76.67M438.41 74.37L443.01 74.37" stroke="#e3202e" stroke-width="0.9"/>
<path d="M442.59 72.77L447.19 77.37M447.19 72.77L442.59 77.37M444.89 72.77L444.89 77.37M442.59 75.07L447.19 75.07" stroke="#e3202e" stroke-width="0.9"/>
<path d="M463.48 69.29L468.08 73.89M468.08 69.29L463.48 73.89M465.78 69.29L465.78 73.89M463.48 71.59L468.08 71.59" stroke="#e3202e" stroke-width="0.9"/>
<path d="M462.09 73.47L466.69 78.07M466.69 73.47L462.09 78.07M464.39 73.47L464.39 78.07M462.09 75.77L466.69 75.77" stroke="#e3202e" stroke-width="0.9"/>
<path d="M464.18 75.56L468.78 80.16M468.78 75.56L464.18 80.16M466.48 75.56L466.48 80.16M464.18 77.86L468.78 77.86" stroke="#e3202e" stroke-width="0.9"/>
<path d="M468.36 76.95L472.96 81.55M472.96 76.95L468.36 81.55M470.66 76.95L470.66 81.55M468.36 79.25L472.96 79.25" stroke="#e3202e" stroke-width="0.9"/>
<path d="M427.27 72.77L431.87 77.37M431.87 72.77L427.27 77.37M429.57 72.77L429.57 77.37M427.27 75.07L431.87 75.07" stroke="#e3202e" stroke-width="0.9"/>
<path d="M450.95 75.56L455.55 80.16M455.55 75.56L450.95 80.16M453.25 75.56L453.25 80.16M450.95 77.86L455.55 77.86" stroke="#e3202e" stroke-width="0.9"/>
<path d="M453.73 76.95L458.33 81.55M458.33 76.95L453.73 81.55M456.03 76.95L456.03 81.55M453.73 79.25L458.33 79.25" stroke="#e3202e" stroke-width="0.9"/>
<path d="M457.22 77.64L461.82 82.24M461.82 77.64L457.22 82.24M459.52 77.64L459.52 82.24M457.22 79.94L461.82 79.94" stroke="#e3202e" stroke-width="0.9"/>
<path d="M441.20 77.64L445.80 82.24M445.80 77.64L441.20 82.24M443.50 77.64L443.50 82.24M441.20 79.94L445.80 79.94" stroke="#e3202e" stroke-width="0.9"/>
<path d="M432.84 79.73L437.44 84.33M437.44 79.73L432.84 84.33M435.14 79.73L435.14 84.33M432.84 82.03L437.44 82.03" stroke="#e3202e" stroke-width="0.9"/>
<path d="M435.63 81.82L440.23 86.42M440.23 81.82L435.63 86.42M437.93 81.82L437.93 86.42M435.63 84.12L440.23 84.12" stroke="#e3202e" stroke-width="0.9"/>
<path d="M425.88 82.52L430.48 87.12M430.48 82.52L425.88 87.12M428.18 82.52L428.18 87.12M425.88 84.82L430.48 84.82" stroke="#e3202e" stroke-width="0.9"/>
<path d="M424.49 85.30L429.09 89.90M429.09 85.30L424.49 89.90M426.79 85.30L426.79 89.90M424.49 87.60L429.09 87.60" stroke="#e3202e" stroke-width="0.9"/>
<path d="M430.06 84.61L434.66 89.21M434.66 84.61L430.06 89.21M432.36 84.61L432.36 89.21M430.06 86.91L434.66 86.91" stroke="#e3202e" stroke-width="0.9"/>
<path d="M445.38 81.82L449.98 86.42M449.98 81.82L445.38 86.42M447.68 81.82L447.68 86.42M445.38 84.12L449.98 84.12" stroke="#e3202e" stroke-width="0.9"/>
<path d="M449.56 82.52L454.16 87.12M454.16 82.52L449.56 87.12M451.86 82.52L451.86 87.12M449.56 84.82L454.16 84.82" stroke="#e3202e" stroke-width="0.9"/>
<path d="M469.05 83.22L473.65 87.82M473.65 83.22L469.05 87.82M471.35 83.22L471.35 87.82M469.05 85.52L473.65 85.52" stroke="#e3202e" stroke-width="0.9"/>
<path d="M466.27 85.30L470.87 89.90M470.87 85.30L466.27 89.90M468.57 85.30L468.57 89.90M466.27 87.60L470.87 87.60" stroke="#e3202e" stroke-width="0.9"/>
<path d="M488.55 79.04L493.15 83.64M493.15 79.04L488.55 83.64M490.85 79.04L490.85 83.64M488.55 81.34L493.15 81.34" stroke="#e3202e" stroke-width="0.9"/>
<path d="M492.73 83.91L497.33 88.51M497.33 83.91L492.73 88.51M495.03 83.91L495.03 88.51M492.73 86.21L497.33 86.21" stroke="#e3202e" stroke-width="0.9"/>
<path d="M499.00 85.30L503.60 89.90M503.60 85.30L499.00 89.90M501.30 85.30L501.30 89.90M499.00 87.60L503.60 87.60" stroke="#e3202e" stroke-width="0.9"/>
<path d="M498.30 72.77L502.90 77.37M502.90 72.77L498.30 77.37M500.60 72.77L500.60 77.37M498.30 75.07L502.90 75.07" stroke="#e3202e" stroke-width="0.9"/>
<path d="M512.93 69.98L517.53 74.58M517.53 69.98L512.93 74.58M515.23 69.98L515.23 74.58M512.93 72.28L517.53 72.28" stroke="#e3202e" stroke-width="0.9"/>
<path d="M446.77 85.30L451.37 89.90M451.37 85.30L446.77 89.90M449.07 85.30L449.07 89.90M446.77 87.60L451.37 87.60" stroke="#e3202e" stroke-width="0.9"/>
<path d="M425.88 94.66L430.48 99.26M430.48 94.66L425.88 99.26M428.18 94.66L428.18 99.26M425.88 96.96L430.48 96.96" stroke="#e3202e" stroke-width="0.9"/>
<path d="M438.41 89.79L443.01 94.39M443.01 89.79L438.41 94.39M440.71 89.79L440.71 94.39M438.41 92.09L443.01 92.09" stroke="#e3202e" stroke-width="0.9"/>
<path d="M439.11 96.06L443.71 100.66M443.71 96.06L439.11 100.66M441.41 96.06L441.41 100.66M439.11 98.36L443.71 98.36" stroke="#e3202e" stroke-width="0.9"/>
<path d="M445.38 88.40L449.98 93.00M449.98 88.40L445.38 93.00M447.68 88.40L447.68 93.00M445.38 90.70L449.98 90.70" stroke="#e3202e" stroke-width="0.9"/>
<path d="M455.13 93.27L459.73 97.87M459.73 93.27L455.13 97.87M457.43 93.27L457.43 97.87M455.13 95.57L459.73 95.57" stroke="#e3202e" stroke-width="0.9"/>
<path d="M463.48 94.66L468.08 99.26M468.08 94.66L463.48 99.26M465.78 94.66L465.78 99.26M463.48 96.96L468.08 96.96" stroke="#e3202e" stroke-width="0.9"/>
<path d="M424.49 103.02L429.09 107.62M429.09 103.02L424.49 107.62M426.79 103.02L426.79 107.62M424.49 105.32L429.09 105.32" stroke="#e3202e" stroke-width="0.9"/>
<path d="M427.27 101.63L431.87 106.23M431.87 101.63L427.27 106.23M429.57 101.63L429.57 106.23M427.27 103.93L431.87 103.93" stroke="#e3202e" stroke-width="0.9"/>
<path d="M428.66 99.54L433.26 104.14M433.26 99.54L428.66 104.14M430.96 99.54L430.96 104.14M428.66 101.84L433.26 101.84" stroke="#e3202e" stroke-width="0.9"/>
<path d="M435.63 105.11L440.23 109.71M440.23 105.11L435.63 109.71M437.93 105.11L437.93 109.71M435.63 107.41L440.23 107.41" stroke="#e3202e" stroke-width="0.9"/>
<path d="M443.98 108.59L448.58 113.19M448.58 108.59L443.98 113.19M446.28 108.59L446.28 113.19M443.98 110.89L448.58 110.89" stroke="#e3202e" stroke-width="0.9"/>
<path d="M446.07 110.68L450.67 115.28M450.67 110.68L446.07 115.28M448.37 110.68L448.37 115.28M446.07 112.98L450.67 112.98" stroke="#e3202e" stroke-width="0.9"/>
<path d="M449.56 108.59L454.16 113.19M454.16 108.59L449.56 113.19M451.86 108.59L451.86 113.19M449.56 110.89L454.16 110.89" stroke="#e3202e" stroke-width="0.9"/>
<path d="M452.34 105.81L456.94 110.41M456.94 105.81L452.34 110.41M454.64 105.81L454.64 110.41M452.34 108.11L456.94 108.11" stroke="#e3202e" stroke-width="0.9"/>
<path d="M456.52 100.93L461.12 105.53M461.12 100.93L456.52 105.53M458.82 100.93L458.82 105.53M456.52 103.23L461.12 103.23" stroke="#e3202e" stroke-width="0.9"/>
<path d="M464.88 100.93L469.48 105.53M469.48 100.93L464.88 105.53M467.18 100.93L467.18 105.53M464.88 103.23L469.48 103.23" stroke="#e3202e" stroke-width="0.9"/>
<path d="M462.09 105.81L466.69 110.41M466.69 105.81L462.09 110.41M464.39 105.81L464.39 110.41M462.09 108.11L466.69 108.11" stroke="#e3202e" stroke-width="0.9"/>
<path d="M467.66 96.75L472.26 101.35M472.26 96.75L467.66 101.35M469.96 96.75L469.96 101.35M467.66 99.05L472.26 99.05" stroke="#e3202e" stroke-width="0.9"/>
<path d="M474.62 97.45L479.22 102.05M479.22 97.45L474.62 102.05M476.92 97.45L476.92 102.05M474.62 99.75L479.22 99.75" stroke="#e3202e" stroke-width="0.9"/>
<path d="M478.80 96.75L483.40 101.35M483.40 96.75L478.80 101.35M481.10 96.75L481.10 101.35M478.80 99.05L483.40 99.05" stroke="#e3202e" stroke-width="0.9"/>
<path d="M481.59 93.27L486.19 97.87M486.19 93.27L481.59 97.87M483.89 93.27L483.89 97.87M481.59 95.57L486.19 95.57" stroke="#e3202e" stroke-width="0.9"/>
<path d="M488.55 93.97L493.15 98.57M493.15 93.97L488.55 98.57M490.85 93.97L490.85 98.57M488.55 96.27L493.15 96.27" stroke="#e3202e" stroke-width="0.9"/>
<path d="M497.61 89.09L502.21 93.69M502.21 89.09L497.61 93.69M499.91 89.09L499.91 93.69M497.61 91.39L502.21 91.39" stroke="#e3202e" stroke-width="0.9"/>
<path d="M498.30 91.88L502.90 96.48M502.90 91.88L498.30 96.48M500.60 91.88L500.60 96.48M498.30 94.18L502.90 94.18" stroke="#e3202e" stroke-width="0.9"/>
<path d="M510.84 90.49L515.44 95.09M515.44 90.49L510.84 95.09M513.14 90.49L513.14 95.09M510.84 92.79L515.44 92.79" stroke="#e3202e" stroke-width="0.9"/>
<path d="M516.41 91.18L521.01 95.78M521.01 91.18L516.41 95.78M518.71 91.18L518.71 95.78M516.41 93.48L521.01 93.48" stroke="#e3202e" stroke-width="0.9"/>
<path d="M478.80 104.41L483.40 109.01M483.40 104.41L478.80 109.01M481.10 104.41L481.10 109.01M478.80 106.71L483.40 106.71" stroke="#e3202e" stroke-width="0.9"/>
<path d="M481.59 105.81L486.19 110.41M486.19 105.81L481.59 110.41M483.89 105.81L483.89 110.41M481.59 108.11L486.19 108.11" stroke="#e3202e" stroke-width="0.9"/>
<path d="M474.62 110.68L479.22 115.28M479.22 110.68L474.62 115.28M476.92 110.68L476.92 115.28M474.62 112.98L479.22 112.98" stroke="#e3202e" stroke-width="0.9"/>
<path d="M467.66 108.59L472.26 113.19M472.26 108.59L467.66 113.19M469.96 108.59L469.96 113.19M467.66 110.89L472.26 110.89" stroke="#e3202e" stroke-width="0.9"/>
<path d="M482.98 110.68L487.58 115.28M487.58 110.68L482.98 115.28M485.28 110.68L485.28 115.28M482.98 112.98L487.58 112.98" stroke="#e3202e" stroke-width="0.9"/>
<path d="M487.16 108.59L491.76 113.19M491.76 108.59L487.16 113.19M489.46 108.59L489.46 113.19M487.16 110.89L491.76 110.89" stroke="#e3202e" stroke-width="0.9"/>
<path d="M499.69 111.38L504.29 115.98M504.29 111.38L499.69 115.98M501.99 111.38L501.99 115.98M499.69 113.68L504.29 113.68" stroke="#e3202e" stroke-width="0.9"/>
<path d="M505.27 113.47L509.87 118.07M509.87 113.47L505.27 118.07M507.57 113.47L507.57 118.07M505.27 115.77L509.87 115.77" stroke="#e3202e" stroke-width="0.9"/>
<path d="M509.44 105.81L514.04 110.41M514.04 105.81L509.44 110.41M511.74 105.81L511.74 110.41M509.44 108.11L514.04 108.11" stroke="#e3202e" stroke-width="0.9"/>
<path d="M516.41 102.32L521.01 106.92M521.01 102.32L516.41 106.92M518.71 102.32L518.71 106.92M516.41 104.62L521.01 104.62" stroke="#e3202e" stroke-width="0.9"/>
<path d="M519.19 105.81L523.79 110.41M523.79 105.81L519.19 110.41M521.49 105.81L521.49 110.41M519.19 108.11L523.79 108.11" stroke="#e3202e" stroke-width="0.9"/>
<path d="M520.59 112.77L525.19 117.37M525.19 112.77L520.59 117.37M522.89 112.77L522.89 117.37M520.59 115.07L525.19 115.07" stroke="#e3202e" stroke-width="0.9"/>
<path d="M423.09 108.59L427.69 113.19M427.69 108.59L423.09 113.19M425.39 108.59L425.39 113.19M423.09 110.89L427.69 110.89" stroke="#e3202e" stroke-width="0.9"/>
<path d="M424.49 114.86L429.09 119.46M429.09 114.86L424.49 119.46M426.79 114.86L426.79 119.46M424.49 117.16L429.09 117.16" stroke="#e3202e" stroke-width="0.9"/>
<path d="M428.66 117.64L433.26 122.24M433.26 117.64L428.66 122.24M430.96 117.64L430.96 122.24M428.66 119.94L433.26 119.94" stroke="#e3202e" stroke-width="0.9"/>
<path d="M434.23 113.47L438.83 118.07M438.83 113.47L434.23 118.07M436.53 113.47L436.53 118.07M434.23 115.77L438.83 115.77" stroke="#e3202e" stroke-width="0.9"/>
<path d="M441.20 114.86L445.80 119.46M445.80 114.86L441.20 119.46M443.50 114.86L443.50 119.46M441.20 117.16L445.80 117.16" stroke="#e3202e" stroke-width="0.9"/>
<path d="M443.29 119.04L447.89 123.64M447.89 119.04L443.29 123.64M445.59 119.04L445.59 123.64M443.29 121.34L447.89 121.34" stroke="#e3202e" stroke-width="0.9"/>
<path d="M435.63 121.13L440.23 125.73M440.23 121.13L435.63 125.73M437.93 121.13L437.93 125.73M435.63 123.43L440.23 123.43" stroke="#e3202e" stroke-width="0.9"/>
<path d="M430.06 123.22L434.66 127.82M434.66 123.22L430.06 127.82M432.36 123.22L432.36 127.82M430.06 125.52L434.66 125.52" stroke="#e3202e" stroke-width="0.9"/>
<path d="M452.34 119.73L456.94 124.33M456.94 119.73L452.34 124.33M454.64 119.73L454.64 124.33M452.34 122.03L456.94 122.03" stroke="#e3202e" stroke-width="0.9"/>
<path d="M460.70 119.04L465.30 123.64M465.30 119.04L460.70 123.64M463.00 119.04L463.00 123.64M460.70 121.34L465.30 121.34" stroke="#e3202e" stroke-width="0.9"/>
<path d="M463.48 121.13L468.08 125.73M468.08 121.13L463.48 125.73M465.78 121.13L465.78 125.73M463.48 123.43L468.08 123.43" stroke="#e3202e" stroke-width="0.9"/>
<path d="M467.66 120.43L472.26 125.03M472.26 120.43L467.66 125.03M469.96 120.43L469.96 125.03M467.66 122.73L472.26 122.73" stroke="#e3202e" stroke-width="0.9"/>
<path d="M477.41 119.73L482.01 124.33M482.01 119.73L477.41 124.33M479.71 119.73L479.71 124.33M477.41 122.03L482.01 122.03" stroke="#e3202e" stroke-width="0.9"/>
<path d="M480.20 122.52L484.80 127.12M484.80 122.52L480.20 127.12M482.50 122.52L482.50 127.12M480.20 124.82L484.80 124.82" stroke="#e3202e" stroke-width="0.9"/>
<path d="M481.59 125.30L486.19 129.90M486.19 125.30L481.59 129.90M483.89 125.30L483.89 129.90M481.59 127.60L486.19 127.60" stroke="#e3202e" stroke-width="0.9"/>
<path d="M487.16 116.95L491.76 121.55M491.76 116.95L487.16 121.55M489.46 116.95L489.46 121.55M487.16 119.25L491.76 119.25" stroke="#e3202e" stroke-width="0.9"/>
<path d="M495.52 121.82L500.12 126.42M500.12 121.82L495.52 126.42M497.82 121.82L497.82 126.42M495.52 124.12L500.12 124.12" stroke="#e3202e" stroke-width="0.9"/>
<path d="M499.69 119.73L504.29 124.33M504.29 119.73L499.69 124.33M501.99 119.73L501.99 124.33M499.69 122.03L504.29 122.03" stroke="#e3202e" stroke-width="0.9"/>
<path d="M506.66 122.52L511.26 127.12M511.26 122.52L506.66 127.12M508.96 122.52L508.96 127.12M506.66 124.82L511.26 124.82" stroke="#e3202e" stroke-width="0.9"/>
<path d="M510.84 120.43L515.44 125.03M515.44 120.43L510.84 125.03M513.14 120.43L513.14 125.03M510.84 122.73L515.44 122.73" stroke="#e3202e" stroke-width="0.9"/>
<path d="M519.19 122.52L523.79 127.12M523.79 122.52L519.19 127.12M521.49 122.52L521.49 127.12M519.19 124.82L523.79 124.82" stroke="#e3202e" stroke-width="0.9"/>
<path d="M455.13 124.61L459.73 129.21M459.73 124.61L455.13 129.21M457.43 124.61L457.43 129.21M455.13 126.91L459.73 126.91" stroke="#e3202e" stroke-width="0.9"/>
<path d="M448.16 123.91L452.76 128.51M452.76 123.91L448.16 128.51M450.46 123.91L450.46 128.51M448.16 126.21L452.76 126.21" stroke="#e3202e" stroke-width="0.9"/>
<path d="M531.45 93.97L536.05 98.57M536.05 93.97L531.45 98.57M533.75 93.97L533.75 98.57M531.45 96.27L536.05 96.27" stroke="#e3202e" stroke-width="0.9"/>
<path d="M523.79 98.84L528.39 103.44M528.39 98.84L523.79 103.44M526.09 98.84L526.09 103.44M523.79 101.14L528.39 101.14" stroke="#e3202e" stroke-width="0.9"/>
<path d="M530.06 100.93L534.66 105.53M534.66 100.93L530.06 105.53M532.36 100.93L532.36 105.53M530.06 103.23L534.66 103.23" stroke="#e3202e" stroke-width="0.9"/>
<path d="M531.45 103.72L536.05 108.32M536.05 103.72L531.45 108.32M533.75 103.72L533.75 108.32M531.45 106.02L536.05 106.02" stroke="#e3202e" stroke-width="0.9"/>
<path d="M550.25 93.97L554.85 98.57M554.85 93.97L550.25 98.57M552.55 93.97L552.55 98.57M550.25 96.27L554.85 96.27" stroke="#e3202e" stroke-width="0.9"/>
<path d="M566.27 95.36L570.87 99.96M570.87 95.36L566.27 99.96M568.57 95.36L568.57 99.96M566.27 97.66L570.87 97.66" stroke="#e3202e" stroke-width="0.9"/>
<path d="M554.43 100.93L559.03 105.53M559.03 100.93L554.43 105.53M556.73 100.93L556.73 105.53M554.43 103.23L559.03 103.23" stroke="#e3202e" stroke-width="0.9"/>
<path d="M560.00 105.81L564.60 110.41M564.60 105.81L560.00 110.41M562.30 105.81L562.30 110.41M560.00 108.11L564.60 108.11" stroke="#e3202e" stroke-width="0.9"/>
<path d="M563.48 105.53L568.08 110.13M568.08 105.53L563.48 110.13M565.78 105.53L565.78 110.13M563.48 107.83L568.08 107.83" stroke="#e3202e" stroke-width="0.9"/>
<path d="M557.91 106.50L562.51 111.10M562.51 106.50L557.91 111.10M560.21 106.50L560.21 111.10M557.91 108.80L562.51 108.80" stroke="#e3202e" stroke-width="0.9"/>
<path d="M569.75 109.98L574.35 114.58M574.35 109.98L569.75 114.58M572.05 109.98L572.05 114.58M569.75 112.28L574.35 112.28" stroke="#e3202e" stroke-width="0.9"/>
<path d="M578.80 100.23L583.40 104.83M583.40 100.23L578.80 104.83M581.10 100.23L581.10 104.83M578.80 102.53L583.40 102.53" stroke="#e3202e" stroke-width="0.9"/>
<path d="M581.59 100.23L586.19 104.83M586.19 100.23L581.59 104.83M583.89 100.23L583.89 104.83M581.59 102.53L586.19 102.53" stroke="#e3202e" stroke-width="0.9"/>
<path d="M587.86 96.75L592.46 101.35M592.46 96.75L587.86 101.35M590.16 96.75L590.16 101.35M587.86 99.05L592.46 99.05" stroke="#e3202e" stroke-width="0.9"/>
<path d="M592.73 100.23L597.33 104.83M597.33 100.23L592.73 104.83M595.03 100.23L595.03 104.83M592.73 102.53L597.33 102.53" stroke="#e3202e" stroke-width="0.9"/>
<path d="M597.61 89.09L602.21 93.69M602.21 89.09L597.61 93.69M599.91 89.09L599.91 93.69M597.61 91.39L602.21 91.39" stroke="#e3202e" stroke-width="0.9"/>
<path d="M605.27 99.96L609.87 104.56M609.87 99.96L605.27 104.56M607.57 99.96L607.57 104.56M605.27 102.26L609.87 102.26" stroke="#e3202e" stroke-width="0.9"/>
<path d="M580.20 107.20L584.80 111.80M584.80 107.20L580.20 111.80M582.50 107.20L582.50 111.80M580.20 109.50L584.80 109.50" stroke="#e3202e" stroke-width="0.9"/>
<path d="M582.98 106.50L587.58 111.10M587.58 106.50L582.98 111.10M585.28 106.50L585.28 111.10M582.98 108.80L587.58 108.80" stroke="#e3202e" stroke-width="0.9"/>
<path d="M588.55 108.59L593.15 113.19M593.15 108.59L588.55 113.19M590.85 108.59L590.85 113.19M588.55 110.89L593.15 110.89" stroke="#e3202e" stroke-width="0.9"/>
<path d="M524.49 109.98L529.09 114.58M529.09 109.98L524.49 114.58M526.79 109.98L526.79 114.58M524.49 112.28L529.09 112.28" stroke="#e3202e" stroke-width="0.9"/>
<path d="M523.79 113.47L528.39 118.07M528.39 113.47L523.79 118.07M526.09 113.47L526.09 118.07M523.79 115.77L528.39 115.77" stroke="#e3202e" stroke-width="0.9"/>
<path d="M535.63 112.77L540.23 117.37M540.23 112.77L535.63 117.37M537.93 112.77L537.93 117.37M535.63 115.07L540.23 115.07" stroke="#e3202e" stroke-width="0.9"/>
<path d="M539.81 113.47L544.41 118.07M544.41 113.47L539.81 118.07M542.11 113.47L542.11 118.07M539.81 115.77L544.41 115.77" stroke="#e3202e" stroke-width="0.9"/>
<path d="M539.81 117.64L544.41 122.24M544.41 117.64L539.81 122.24M542.11 117.64L542.11 122.24M539.81 119.94L544.41 119.94" stroke="#e3202e" stroke-width="0.9"/>
<path d="M547.47 116.95L552.07 121.55M552.07 116.95L547.47 121.55M549.77 116.95L549.77 121.55M547.47 119.25L552.07 119.25" stroke="#e3202e" stroke-width="0.9"/>
<path d="M547.47 108.59L552.07 113.19M552.07 108.59L547.47 113.19M549.77 108.59L549.77 113.19M547.47 110.89L552.07 110.89" stroke="#e3202e" stroke-width="0.9"/>
<path d="M574.62 117.64L579.22 122.24M579.22 117.64L574.62 122.24M576.92 117.64L576.92 122.24M574.62 119.94L579.22 119.94" stroke="#e3202e" stroke-width="0.9"/>
<path d="M583.68 116.25L588.28 120.85M588.28 116.25L583.68 120.85M585.98 116.25L585.98 120.85M583.68 118.55L588.28 118.55" stroke="#e3202e" stroke-width="0.9"/>
<path d="M578.80 121.13L583.40 125.73M583.40 121.13L578.80 125.73M581.10 121.13L581.10 125.73M578.80 123.43L583.40 123.43" stroke="#e3202e" stroke-width="0.9"/>
<path d="M582.98 123.22L587.58 127.82M587.58 123.22L582.98 127.82M585.28 123.22L585.28 127.82M582.98 125.52L587.58 125.52" stroke="#e3202e" stroke-width="0.9"/>
<path d="M534.23 120.43L538.83 125.03M538.83 120.43L534.23 125.03M536.53 120.43L536.53 125.03M534.23 122.73L538.83 122.73" stroke="#e3202e" stroke-width="0.9"/>
<path d="M527.27 121.13L531.87 125.73M531.87 121.13L527.27 125.73M529.57 121.13L529.57 125.73M527.27 123.43L531.87 123.43" stroke="#e3202e" stroke-width="0.9"/>
<path d="M619.29 107.20L623.89 111.80M623.89 107.20L619.29 111.80M621.59 107.20L621.59 111.80M619.29 109.50L623.89 109.50" stroke="#e3202e" stroke-width="0.9"/>
<path d="M637.39 113.47L641.99 118.07M641.99 113.47L637.39 118.07M639.69 113.47L639.69 118.07M637.39 115.77L641.99 115.77" stroke="#e3202e" stroke-width="0.9"/>
<path d="M635.30 116.95L639.90 121.55M639.90 116.95L635.30 121.55M637.60 116.95L637.60 121.55M635.30 119.25L639.90 119.25" stroke="#e3202e" stroke-width="0.9"/>
<path d="M638.09 121.13L642.69 125.73M642.69 121.13L638.09 125.73M640.39 121.13L640.39 125.73M638.09 123.43L642.69 123.43" stroke="#e3202e" stroke-width="0.9"/>
<path d="M644.36 123.63L648.96 128.23M648.96 123.63L644.36 128.23M646.66 123.63L646.66 128.23M644.36 125.93L648.96 125.93" stroke="#e3202e" stroke-width="0.9"/>
<path d="M424.49 129.79L429.09 134.39M429.09 129.79L424.49 134.39M426.79 129.79L426.79 134.39M424.49 132.09L429.09 132.09" stroke="#e3202e" stroke-width="0.9"/>
<path d="M429.36 131.88L433.96 136.48M433.96 131.88L429.36 136.48M431.66 131.88L431.66 136.48M429.36 134.18L433.96 134.18" stroke="#e3202e" stroke-width="0.9"/>
<path d="M432.84 133.27L437.44 137.87M437.44 133.27L432.84 137.87M435.14 133.27L435.14 137.87M432.84 135.57L437.44 135.57" stroke="#e3202e" stroke-width="0.9"/>
<path d="M438.41 133.27L443.01 137.87M443.01 133.27L438.41 137.87M440.71 133.27L440.71 137.87M438.41 135.57L443.01 135.57" stroke="#e3202e" stroke-width="0.9"/>
<path d="M439.81 136.06L444.41 140.66M444.41 136.06L439.81 140.66M442.11 136.06L442.11 140.66M439.81 138.36L444.41 138.36" stroke="#e3202e" stroke-width="0.9"/>
<path d="M441.20 138.15L445.80 142.75M445.80 138.15L441.20 142.75M443.50 138.15L443.50 142.75M441.20 140.45L445.80 140.45" stroke="#e3202e" stroke-width="0.9"/>
<path d="M443.98 134.66L448.58 139.26M448.58 134.66L443.98 139.26M446.28 134.66L446.28 139.26M443.98 136.96L448.58 136.96" stroke="#e3202e" stroke-width="0.9"/>
<path d="M438.41 139.54L443.01 144.14M443.01 139.54L438.41 144.14M440.71 139.54L440.71 144.14M438.41 141.84L443.01 141.84" stroke="#e3202e" stroke-width="0.9"/>
<path d="M441.20 140.93L445.80 145.53M445.80 140.93L441.20 145.53M443.50 140.93L443.50 145.53M441.20 143.23L445.80 143.23" stroke="#e3202e" stroke-width="0.9"/>
<path d="M449.56 138.84L454.16 143.44M454.16 138.84L449.56 143.44M451.86 138.84L451.86 143.44M449.56 141.14L454.16 141.14" stroke="#e3202e" stroke-width="0.9"/>
<path d="M452.34 141.63L456.94 146.23M456.94 141.63L452.34 146.23M454.64 141.63L454.64 146.23M452.34 143.93L456.94 143.93" stroke="#e3202e" stroke-width="0.9"/>
<path d="M455.13 143.02L459.73 147.62M459.73 143.02L455.13 147.62M457.43 143.02L457.43 147.62M455.13 145.32L459.73 145.32" stroke="#e3202e" stroke-width="0.9"/>
<path d="M458.61 141.63L463.21 146.23M463.21 141.63L458.61 146.23M460.91 141.63L460.91 146.23M458.61 143.93L463.21 143.93" stroke="#e3202e" stroke-width="0.9"/>
<path d="M462.09 129.79L466.69 134.39M466.69 129.79L462.09 134.39M464.39 129.79L464.39 134.39M462.09 132.09L466.69 132.09" stroke="#e3202e" stroke-width="0.9"/>
<path d="M467.66 130.49L472.26 135.09M472.26 130.49L467.66 135.09M469.96 130.49L469.96 135.09M467.66 132.79L472.26 132.79" stroke="#e3202e" stroke-width="0.9"/>
<path d="M473.23 129.79L477.83 134.39M477.83 129.79L473.23 134.39M475.53 129.79L475.53 134.39M473.23 132.09L477.83 132.09" stroke="#e3202e" stroke-width="0.9"/>
<path d="M478.80 131.18L483.40 135.78M483.40 131.18L478.80 135.78M481.10 131.18L481.10 135.78M478.80 133.48L483.40 133.48" stroke="#e3202e" stroke-width="0.9"/>
<path d="M482.98 134.66L487.58 139.26M487.58 134.66L482.98 139.26M485.28 134.66L485.28 139.26M482.98 136.96L487.58 136.96" stroke="#e3202e" stroke-width="0.9"/>
<path d="M487.16 130.49L491.76 135.09M491.76 130.49L487.16 135.09M489.46 130.49L489.46 135.09M487.16 132.79L491.76 132.79" stroke="#e3202e" stroke-width="0.9"/>
<path d="M489.95 137.45L494.55 142.05M494.55 137.45L489.95 142.05M492.25 137.45L492.25 142.05M489.95 139.75L494.55 139.75" stroke="#e3202e" stroke-width="0.9"/>
<path d="M480.20 138.15L484.80 142.75M484.80 138.15L480.20 142.75M482.50 138.15L482.50 142.75M480.20 140.45L484.80 140.45" stroke="#e3202e" stroke-width="0.9"/>
<path d="M497.61 141.63L502.21 146.23M502.21 141.63L497.61 146.23M499.91 141.63L499.91 146.23M497.61 143.93L502.21 143.93" stroke="#e3202e" stroke-width="0.9"/>
<path d="M501.78 137.45L506.38 142.05M506.38 137.45L501.78 142.05M504.08 137.45L504.08 142.05M501.78 139.75L506.38 139.75" stroke="#e3202e" stroke-width="0.9"/>
<path d="M505.27 134.66L509.87 139.26M509.87 134.66L505.27 139.26M507.57 134.66L507.57 139.26M505.27 136.96L509.87 136.96" stroke="#e3202e" stroke-width="0.9"/>
<path d="M509.44 129.09L514.04 133.69M514.04 129.09L509.44 133.69M511.74 129.09L511.74 133.69M509.44 131.39L514.04 131.39" stroke="#e3202e" stroke-width="0.9"/>
<path d="M517.80 144.41L522.40 149.01M522.40 144.41L517.80 149.01M520.10 144.41L520.10 149.01M517.80 146.71L522.40 146.71" stroke="#e3202e" stroke-width="0.9"/>
<path d="M508.05 144.41L512.65 149.01M512.65 144.41L508.05 149.01M510.35 144.41L510.35 149.01M508.05 146.71L512.65 146.71" stroke="#e3202e" stroke-width="0.9"/>
<path d="M425.88 140.93L430.48 145.53M430.48 140.93L425.88 145.53M428.18 140.93L428.18 145.53M425.88 143.23L430.48 143.23" stroke="#e3202e" stroke-width="0.9"/>
<path d="M429.36 142.32L433.96 146.92M433.96 142.32L429.36 146.92M431.66 142.32L431.66 146.92M429.36 144.62L433.96 144.62" stroke="#e3202e" stroke-width="0.9"/>
<path d="M428.66 145.81L433.26 150.41M433.26 145.81L428.66 150.41M430.96 145.81L430.96 150.41M428.66 148.11L433.26 148.11" stroke="#e3202e" stroke-width="0.9"/>
<path d="M430.06 148.59L434.66 153.19M434.66 148.59L430.06 153.19M432.36 148.59L432.36 153.19M430.06 150.89L434.66 150.89" stroke="#e3202e" stroke-width="0.9"/>
<path d="M427.27 147.89L431.87 152.49M431.87 147.89L427.27 152.49M429.57 147.89L429.57 152.49M427.27 150.19L431.87 150.19" stroke="#e3202e" stroke-width="0.9"/>
<path d="M432.84 147.20L437.44 151.80M437.44 147.20L432.84 151.80M435.14 147.20L435.14 151.80M432.84 149.50L437.44 149.50" stroke="#e3202e" stroke-width="0.9"/>
<path d="M423.09 150.68L427.69 155.28M427.69 150.68L423.09 155.28M425.39 150.68L425.39 155.28M423.09 152.98L427.69 152.98" stroke="#e3202e" stroke-width="0.9"/>
<path d="M424.49 156.25L429.09 160.85M429.09 156.25L424.49 160.85M426.79 156.25L426.79 160.85M424.49 158.55L429.09 158.55" stroke="#e3202e" stroke-width="0.9"/>
<path d="M430.06 156.95L434.66 161.55M434.66 156.95L430.06 161.55M432.36 156.95L432.36 161.55M430.06 159.25L434.66 159.25" stroke="#e3202e" stroke-width="0.9"/>
<path d="M435.63 152.77L440.23 157.37M440.23 152.77L435.63 157.37M437.93 152.77L437.93 157.37M435.63 155.07L440.23 155.07" stroke="#e3202e" stroke-width="0.9"/>
<path d="M442.59 153.47L447.19 158.07M447.19 153.47L442.59 158.07M444.89 153.47L444.89 158.07M442.59 155.77L447.19 155.77" stroke="#e3202e" stroke-width="0.9"/>
<path d="M445.38 155.56L449.98 160.16M449.98 155.56L445.38 160.16M447.68 155.56L447.68 160.16M445.38 157.86L449.98 157.86" stroke="#e3202e" stroke-width="0.9"/>
<path d="M448.16 157.64L452.76 162.24M452.76 157.64L448.16 162.24M450.46 157.64L450.46 162.24M448.16 159.94L452.76 159.94" stroke="#e3202e" stroke-width="0.9"/>
<path d="M455.13 155.56L459.73 160.16M459.73 155.56L455.13 160.16M457.43 155.56L457.43 160.16M455.13 157.86L459.73 157.86" stroke="#e3202e" stroke-width="0.9"/>
<path d="M457.22 159.04L461.82 163.64M461.82 159.04L457.22 163.64M459.52 159.04L459.52 163.64M457.22 161.34L461.82 161.34" stroke="#e3202e" stroke-width="0.9"/>
<path d="M462.09 156.25L466.69 160.85M466.69 156.25L462.09 160.85M464.39 156.25L464.39 160.85M462.09 158.55L466.69 158.55" stroke="#e3202e" stroke-width="0.9"/>
<path d="M463.48 159.73L468.08 164.33M468.08 159.73L463.48 164.33M465.78 159.73L465.78 164.33M463.48 162.03L468.08 162.03" stroke="#e3202e" stroke-width="0.9"/>
<path d="M467.66 157.64L472.26 162.24M472.26 157.64L467.66 162.24M469.96 157.64L469.96 162.24M467.66 159.94L472.26 159.94" stroke="#e3202e" stroke-width="0.9"/>
<path d="M471.84 161.13L476.44 165.73M476.44 161.13L471.84 165.73M474.14 161.13L474.14 165.73M471.84 163.43L476.44 163.43" stroke="#e3202e" stroke-width="0.9"/>
<path d="M476.02 159.73L480.62 164.33M480.62 159.73L476.02 164.33M478.32 159.73L478.32 164.33M476.02 162.03L480.62 162.03" stroke="#e3202e" stroke-width="0.9"/>
<path d="M477.41 165.30L482.01 169.90M482.01 165.30L477.41 169.90M479.71 165.30L479.71 169.90M477.41 167.60L482.01 167.60" stroke="#e3202e" stroke-width="0.9"/>
<path d="M469.05 152.07L473.65 156.67M473.65 152.07L469.05 156.67M471.35 152.07L471.35 156.67M469.05 154.37L473.65 154.37" stroke="#e3202e" stroke-width="0.9"/>
<path d="M474.62 145.11L479.22 149.71M479.22 145.11L474.62 149.71M476.92 145.11L476.92 149.71M474.62 147.41L479.22 147.41" stroke="#e3202e" stroke-width="0.9"/>
<path d="M481.59 152.77L486.19 157.37M486.19 152.77L481.59 157.37M483.89 152.77L483.89 157.37M481.59 155.07L486.19 155.07" stroke="#e3202e" stroke-width="0.9"/>
<path d="M494.12 152.07L498.72 156.67M498.72 152.07L494.12 156.67M496.42 152.07L496.42 156.67M494.12 154.37L498.72 154.37" stroke="#e3202e" stroke-width="0.9"/>
<path d="M495.52 154.16L500.12 158.76M500.12 154.16L495.52 158.76M497.82 154.16L497.82 158.76M495.52 156.46L500.12 156.46" stroke="#e3202e" stroke-width="0.9"/>
<path d="M496.91 149.98L501.51 154.58M501.51 149.98L496.91 154.58M499.21 149.98L499.21 154.58M496.91 152.28L501.51 152.28" stroke="#e3202e" stroke-width="0.9"/>
<path d="M508.75 156.95L513.35 161.55M513.35 156.95L508.75 161.55M511.05 156.95L511.05 161.55M508.75 159.25L513.35 159.25" stroke="#e3202e" stroke-width="0.9"/>
<path d="M460.70 148.59L465.30 153.19M465.30 148.59L460.70 153.19M463.00 148.59L463.00 153.19M460.70 150.89L465.30 150.89" stroke="#e3202e" stroke-width="0.9"/>
<path d="M464.88 146.50L469.48 151.10M469.48 146.50L464.88 151.10M467.18 146.50L467.18 151.10M464.88 148.80L469.48 148.80" stroke="#e3202e" stroke-width="0.9"/>
<path d="M480.20 145.81L484.80 150.41M484.80 145.81L480.20 150.41M482.50 145.81L482.50 150.41M480.20 148.11L484.80 148.11" stroke="#e3202e" stroke-width="0.9"/>
<path d="M485.77 149.29L490.37 153.89M490.37 149.29L485.77 153.89M488.07 149.29L488.07 153.89M485.77 151.59L490.37 151.59" stroke="#e3202e" stroke-width="0.9"/>
<path d="M491.34 154.16L495.94 158.76M495.94 154.16L491.34 158.76M493.64 154.16L493.64 158.76M491.34 156.46L495.94 156.46" stroke="#e3202e" stroke-width="0.9"/>
<path d="M527.27 125.49L531.87 130.09M531.87 125.49L527.27 130.09M529.57 125.49L529.57 130.09M527.27 127.79L531.87 127.79" stroke="#e3202e" stroke-width="0.9"/>
<path d="M530.06 126.88L534.66 131.48M534.66 126.88L530.06 131.48M532.36 126.88L532.36 131.48M530.06 129.18L534.66 129.18" stroke="#e3202e" stroke-width="0.9"/>
<path d="M535.63 128.27L540.23 132.87M540.23 128.27L535.63 132.87M537.93 128.27L537.93 132.87M535.63 130.57L540.23 130.57" stroke="#e3202e" stroke-width="0.9"/>
<path d="M527.97 133.84L532.57 138.44M532.57 133.84L527.97 138.44M530.27 133.84L530.27 138.44M527.97 136.14L532.57 136.14" stroke="#e3202e" stroke-width="0.9"/>
<path d="M527.27 137.32L531.87 141.92M531.87 137.32L527.27 141.92M529.57 137.32L529.57 141.92M527.27 139.62L531.87 139.62" stroke="#e3202e" stroke-width="0.9"/>
<path d="M538.41 138.02L543.01 142.62M543.01 138.02L538.41 142.62M540.71 138.02L540.71 142.62M538.41 140.32L543.01 140.32" stroke="#e3202e" stroke-width="0.9"/>
<path d="M539.11 140.81L543.71 145.41M543.71 140.81L539.11 145.41M541.41 140.81L541.41 145.41M539.11 143.11L543.71 143.11" stroke="#e3202e" stroke-width="0.9"/>
<path d="M544.68 133.84L549.28 138.44M549.28 133.84L544.68 138.44M546.98 133.84L546.98 138.44M544.68 136.14L549.28 136.14" stroke="#e3202e" stroke-width="0.9"/>
<path d="M550.95 131.75L555.55 136.35M555.55 131.75L550.95 136.35M553.25 131.75L553.25 136.35M550.95 134.05L555.55 134.05" stroke="#e3202e" stroke-width="0.9"/>
<path d="M555.13 126.88L559.73 131.48M559.73 126.88L555.13 131.48M557.43 126.88L557.43 131.48M555.13 129.18L559.73 129.18" stroke="#e3202e" stroke-width="0.9"/>
<path d="M564.18 131.75L568.78 136.35M568.78 131.75L564.18 136.35M566.48 131.75L566.48 136.35M564.18 134.05L568.78 134.05" stroke="#e3202e" stroke-width="0.9"/>
<path d="M569.75 140.53L574.35 145.13M574.35 140.53L569.75 145.13M572.05 140.53L572.05 145.13M569.75 142.83L574.35 142.83" stroke="#e3202e" stroke-width="0.9"/>
<path d="M568.36 145.68L572.96 150.28M572.96 145.68L568.36 150.28M570.66 145.68L570.66 150.28M568.36 147.98L572.96 147.98" stroke="#e3202e" stroke-width="0.9"/>
<path d="M572.54 131.75L577.14 136.35M577.14 131.75L572.54 136.35M574.84 131.75L574.84 136.35M572.54 134.05L577.14 134.05" stroke="#e3202e" stroke-width="0.9"/>
<path d="M582.98 128.27L587.58 132.87M587.58 128.27L582.98 132.87M585.28 128.27L585.28 132.87M582.98 130.57L587.58 130.57" stroke="#e3202e" stroke-width="0.9"/>
<path d="M591.34 127.57L595.94 132.17M595.94 127.57L591.34 132.17M593.64 127.57L593.64 132.17M591.34 129.87L595.94 129.87" stroke="#e3202e" stroke-width="0.9"/>
<path d="M601.78 126.88L606.38 131.48M606.38 126.88L601.78 131.48M604.08 126.88L604.08 131.48M601.78 129.18L606.38 129.18" stroke="#e3202e" stroke-width="0.9"/>
<path d="M580.20 142.20L584.80 146.80M584.80 142.20L580.20 146.80M582.50 142.20L582.50 146.80M580.20 144.50L584.80 144.50" stroke="#e3202e" stroke-width="0.9"/>
<path d="M589.95 142.89L594.55 147.49M594.55 142.89L589.95 147.49M592.25 142.89L592.25 147.49M589.95 145.19L594.55 145.19" stroke="#e3202e" stroke-width="0.9"/>
<path d="M596.91 140.81L601.51 145.41M601.51 140.81L596.91 145.41M599.21 140.81L599.21 145.41M596.91 143.11L601.51 143.11" stroke="#e3202e" stroke-width="0.9"/>
<path d="M560.70 149.16L565.30 153.76M565.30 149.16L560.70 153.76M563.00 149.16L563.00 153.76M560.70 151.46L565.30 151.46" stroke="#e3202e" stroke-width="0.9"/>
<path d="M522.40 144.98L527.00 149.58M527.00 144.98L522.40 149.58M524.70 144.98L524.70 149.58M522.40 147.28L527.00 147.28" stroke="#e3202e" stroke-width="0.9"/>
<path d="M522.40 149.16L527.00 153.76M527.00 149.16L522.40 153.76M524.70 149.16L524.70 153.76M522.40 151.46L527.00 151.46" stroke="#e3202e" stroke-width="0.9"/>
<path d="M525.88 153.34L530.48 157.94M530.48 153.34L525.88 157.94M528.18 153.34L528.18 157.94M525.88 155.64L530.48 155.64" stroke="#e3202e" stroke-width="0.9"/>
<path d="M529.36 154.04L533.96 158.64M533.96 154.04L529.36 158.64M531.66 154.04L531.66 158.64M529.36 156.34L533.96 156.34" stroke="#e3202e" stroke-width="0.9"/>
<path d="M423.79 167.57L428.39 172.17M428.39 167.57L423.79 172.17M426.09 167.57L426.09 172.17M423.79 169.87L428.39 169.87" stroke="#e3202e" stroke-width="0.9"/>
<path d="M430.06 174.54L434.66 179.14M434.66 174.54L430.06 179.14M432.36 174.54L432.36 179.14M430.06 176.84L434.66 176.84" stroke="#e3202e" stroke-width="0.9"/>
<path d="M446.07 172.17L450.67 176.77M450.67 172.17L446.07 176.77M448.37 172.17L448.37 176.77M446.07 174.47L450.67 174.47" stroke="#e3202e" stroke-width="0.9"/>
<path d="M443.29 176.63L447.89 181.23M447.89 176.63L443.29 181.23M445.59 176.63L445.59 181.23M443.29 178.93L447.89 178.93" stroke="#e3202e" stroke-width="0.9"/>
<path d="M457.22 172.17L461.82 176.77M461.82 172.17L457.22 176.77M459.52 172.17L459.52 176.77M457.22 174.47L461.82 174.47" stroke="#e3202e" stroke-width="0.9"/>
<path d="M476.71 166.60L481.31 171.20M481.31 166.60L476.71 171.20M479.01 166.60L479.01 171.20M476.71 168.90L481.31 168.90" stroke="#e3202e" stroke-width="0.9"/>
<path d="M485.77 169.66L490.37 174.26M490.37 169.66L485.77 174.26M488.07 169.66L488.07 174.26M485.77 171.96L490.37 171.96" stroke="#e3202e" stroke-width="0.9"/>
<path d="M467.66 177.32L472.26 181.92M472.26 177.32L467.66 181.92M469.96 177.32L469.96 181.92M467.66 179.62L472.26 179.62" stroke="#e3202e" stroke-width="0.9"/>
<path d="M426.57 184.29L431.17 188.89M431.17 184.29L426.57 188.89M428.87 184.29L428.87 188.89M426.57 186.59L431.17 186.59" stroke="#e3202e" stroke-width="0.9"/>
<path d="M427.27 187.07L431.87 191.67M431.87 187.07L427.27 191.67M429.57 187.07L429.57 191.67M427.27 189.37L431.87 189.37" stroke="#e3202e" stroke-width="0.9"/>
<path d="M425.88 196.13L430.48 200.73M430.48 196.13L425.88 200.73M428.18 196.13L428.18 200.73M425.88 198.43L430.48 198.43" stroke="#e3202e" stroke-width="0.9"/>
<path d="M422.40 182.89L427.00 187.49M427.00 182.89L422.40 187.49M424.70 182.89L424.70 187.49M422.40 185.19L427.00 185.19" stroke="#e3202e" stroke-width="0.9"/>
<path d="M429.53 209.51L434.13 214.11M434.13 209.51L429.53 214.11M431.83 209.51L431.83 214.11M429.53 211.81L434.13 211.81" stroke="#e3202e" stroke-width="0.9"/>
<path d="M512.48 125.03L517.08 129.63M517.08 125.03L512.48 129.63M514.78 125.03L514.78 129.63M512.48 127.33L517.08 127.33" stroke="#e3202e" stroke-width="0.9"/>
<path d="M540.52 121.68L545.12 126.28M545.12 121.68L540.52 126.28M542.82 121.68L542.82 126.28M540.52 123.98L545.12 123.98" stroke="#e3202e" stroke-width="0.9"/>
<path d="M520.47 122.54L525.07 127.14M525.07 122.54L520.47 127.14M522.77 122.54L522.77 127.14M520.47 124.84L525.07 124.84" stroke="#e3202e" stroke-width="0.9"/>
<path d="M492.33 121.81L496.93 126.41M496.93 121.81L492.33 126.41M494.63 121.81L494.63 126.41M492.33 124.11L496.93 124.11" stroke="#e3202e" stroke-width="0.9"/>
<path d="M597.30 127.53L601.90 132.13M601.90 127.53L597.30 132.13M599.60 127.53L599.60 132.13M597.30 129.83L601.90 129.83" stroke="#e3202e" stroke-width="0.9"/>
<path d="M550.65 123.60L555.25 128.20M555.25 123.60L550.65 128.20M552.95 123.60L552.95 128.20M550.65 125.90L555.25 125.90" stroke="#e3202e" stroke-width="0.9"/>
<path d="M496.69 123.91L501.29 128.51M501.29 123.91L496.69 128.51M498.99 123.91L498.99 128.51M496.69 126.21L501.29 126.21" stroke="#e3202e" stroke-width="0.9"/>
<path d="M471.82 125.34L476.42 129.94M476.42 125.34L471.82 129.94M474.12 125.34L474.12 129.94M471.82 127.64L476.42 127.64" stroke="#e3202e" stroke-width="0.9"/>
<path d="M559.67 120.56L564.27 125.16M564.27 120.56L559.67 125.16M561.97 120.56L561.97 125.16M559.67 122.86L564.27 122.86" stroke="#e3202e" stroke-width="0.9"/>
<path d="M505.48 125.97L510.08 130.57M510.08 125.97L505.48 130.57M507.78 125.97L507.78 130.57M505.48 128.27L510.08 128.27" stroke="#e3202e" stroke-width="0.9"/>
<path d="M64.36 138.98L68.96 143.58M68.96 138.98L64.36 143.58M66.66 138.98L66.66 143.58M64.36 141.28L68.96 141.28" stroke="#e3202e" stroke-width="0.9"/>
<path d="M83.47 140.86L88.07 145.46M88.07 140.86L83.47 145.46M85.77 140.86L85.77 145.46M83.47 143.16L88.07 143.16" stroke="#e3202e" stroke-width="0.9"/>
<path d="M206.76 140.76L211.36 145.36M211.36 140.76L206.76 145.36M209.06 140.76L209.06 145.36M206.76 143.06L211.36 143.06" stroke="#e3202e" stroke-width="0.9"/>
<path d="M189.47 138.59L194.07 143.19M194.07 138.59L189.47 143.19M191.77 138.59L191.77 143.19M189.47 140.89L194.07 140.89" stroke="#e3202e" stroke-width="0.9"/>
<path d="M75.57 137.11L80.17 141.71M80.17 137.11L75.57 141.71M77.87 137.11L77.87 141.71M75.57 139.41L80.17 139.41" stroke="#e3202e" stroke-width="0.9"/>
<path d="M143.48 142.62L148.08 147.22M148.08 142.62L143.48 147.22M145.78 142.62L145.78 147.22M143.48 144.92L148.08 144.92" stroke="#e3202e" stroke-width="0.9"/>
<path d="M62.65 141.58L67.25 146.18M67.25 141.58L62.65 146.18M64.95 141.58L64.95 146.18M62.65 143.88L67.25 143.88" stroke="#e3202e" stroke-width="0.9"/>
<path d="M81.89 140.11L86.49 144.71M86.49 140.11L81.89 144.71M84.19 140.11L84.19 144.71M81.89 142.41L86.49 142.41" stroke="#e3202e" stroke-width="0.9"/>
<path d="M469.19 114.00L473.79 118.60M473.79 114.00L469.19 118.60M471.49 114.00L471.49 118.60M469.19 116.30L473.79 116.30" stroke="#e3202e" stroke-width="0.9"/>
<path d="M424.88 134.25L429.48 138.85M429.48 134.25L424.88 138.85M427.18 134.25L427.18 138.85M424.88 136.55L429.48 136.55" stroke="#e3202e" stroke-width="0.9"/>
<path d="M425.55 106.97L430.15 111.57M430.15 106.97L425.55 111.57M427.85 106.97L427.85 111.57M425.55 109.27L430.15 109.27" stroke="#e3202e" stroke-width="0.9"/>
<path d="M456.25 113.82L460.85 118.42M460.85 113.82L456.25 118.42M458.55 113.82L458.55 118.42M456.25 116.12L460.85 116.12" stroke="#e3202e" stroke-width="0.9"/>
<path d="M440.65 76.64L445.25 81.24M445.25 76.64L440.65 81.24M442.95 76.64L442.95 81.24M440.65 78.94L445.25 78.94" stroke="#e3202e" stroke-width="0.9"/>
<path d="M447.99 132.08L452.59 136.68M452.59 132.08L447.99 136.68M450.29 132.08L450.29 136.68M447.99 134.38L452.59 134.38" stroke="#e3202e" stroke-width="0.9"/>
<path d="M454.33 126.54L458.93 131.14M458.93 126.54L454.33 131.14M456.63 126.54L456.63 131.14M454.33 128.84L458.93 128.84" stroke="#e3202e" stroke-width="0.9"/>
<path d="M428.42 110.58L433.02 115.18M433.02 110.58L428.42 115.18M430.72 110.58L430.72 115.18M428.42 112.88L433.02 112.88" stroke="#e3202e" stroke-width="0.9"/>
<path d="M480.07 123.75L484.67 128.35M484.67 123.75L480.07 128.35M482.37 123.75L482.37 128.35M480.07 126.05L484.67 126.05" stroke="#e3202e" stroke-width="0.9"/>
<path d="M430.19 106.54L434.79 111.14M434.79 106.54L430.19 111.14M432.49 106.54L432.49 111.14M430.19 108.84L434.79 108.84" stroke="#e3202e" stroke-width="0.9"/>
<path d="M466.60 128.69L471.20 133.29M471.20 128.69L466.60 133.29M468.90 128.69L468.90 133.29M466.60 130.99L471.20 130.99" stroke="#e3202e" stroke-width="0.9"/>
<path d="M483.52 116.67L488.12 121.27M488.12 116.67L483.52 121.27M485.82 116.67L485.82 121.27M483.52 118.97L488.12 118.97" stroke="#e3202e" stroke-width="0.9"/>
<path d="M477.93 108.71L482.53 113.31M482.53 108.71L477.93 113.31M480.23 108.71L480.23 113.31M477.93 111.01L482.53 111.01" stroke="#e3202e" stroke-width="0.9"/>
<path d="M426.12 107.30L430.72 111.90M430.72 107.30L426.12 111.90M428.42 107.30L428.42 111.90M426.12 109.60L430.72 109.60" stroke="#e3202e" stroke-width="0.9"/>
<path d="M423.65 133.97L428.25 138.57M428.25 133.97L423.65 138.57M425.95 133.97L425.95 138.57M423.65 136.27L428.25 136.27" stroke="#e3202e" stroke-width="0.9"/>
<path d="M463.93 117.14L468.53 121.74M468.53 117.14L463.93 121.74M466.23 117.14L466.23 121.74M463.93 119.44L468.53 119.44" stroke="#e3202e" stroke-width="0.9"/>
<path d="M433.81 130.92L438.41 135.52M438.41 130.92L433.81 135.52M436.11 130.92L436.11 135.52M433.81 133.22L438.41 133.22" stroke="#e3202e" stroke-width="0.9"/>
<path d="M435.90 97.55L440.50 102.15M440.50 97.55L435.90 102.15M438.20 97.55L438.20 102.15M435.90 99.85L440.50 99.85" stroke="#e3202e" stroke-width="0.9"/>
<path d="M429.46 118.36L434.06 122.96M434.06 118.36L429.46 122.96M431.76 118.36L431.76 122.96M429.46 120.66L434.06 120.66" stroke="#e3202e" stroke-width="0.9"/>
<path d="M432.23 112.72L436.83 117.32M436.83 112.72L432.23 117.32M434.53 112.72L434.53 117.32M432.23 115.02L436.83 115.02" stroke="#e3202e" stroke-width="0.9"/>
<path d="M453.24 133.15L457.84 137.75M457.84 133.15L453.24 137.75M455.54 133.15L455.54 137.75M453.24 135.45L457.84 135.45" stroke="#e3202e" stroke-width="0.9"/>
<path d="M435.14 99.30L439.74 103.90M439.74 99.30L435.14 103.90M437.44 99.30L437.44 103.90M435.14 101.60L439.74 101.60" stroke="#e3202e" stroke-width="0.9"/>
<path d="M480.81 120.37L485.41 124.97M485.41 120.37L480.81 124.97M483.11 120.37L483.11 124.97M480.81 122.67L485.41 122.67" stroke="#e3202e" stroke-width="0.9"/>
<path d="M434.50 122.95L439.10 127.55M439.10 122.95L434.50 127.55M436.80 122.95L436.80 127.55M434.50 125.25L439.10 125.25" stroke="#e3202e" stroke-width="0.9"/>
<path d="M445.43 129.65L450.03 134.25M450.03 129.65L445.43 134.25M447.73 129.65L447.73 134.25M445.43 131.95L450.03 131.95" stroke="#e3202e" stroke-width="0.9"/>
<path d="M440.47 123.81L445.07 128.41M445.07 123.81L440.47 128.41M442.77 123.81L442.77 128.41M440.47 126.11L445.07 126.11" stroke="#e3202e" stroke-width="0.9"/>
<path d="M454.16 130.06L458.76 134.66M458.76 130.06L454.16 134.66M456.46 130.06L456.46 134.66M454.16 132.36L458.76 132.36" stroke="#e3202e" stroke-width="0.9"/>
<path d="M478.64 128.85L483.24 133.45M483.24 128.85L478.64 133.45M480.94 128.85L480.94 133.45M478.64 131.15L483.24 131.15" stroke="#e3202e" stroke-width="0.9"/>
<path d="M486.06 109.37L490.66 113.97M490.66 109.37L486.06 113.97M488.36 109.37L488.36 113.97M486.06 111.67L490.66 111.67" stroke="#e3202e" stroke-width="0.9"/>
<path d="M455.04 99.22L459.64 103.82M459.64 99.22L455.04 103.82M457.34 99.22L457.34 103.82M455.04 101.52L459.64 101.52" stroke="#e3202e" stroke-width="0.9"/>
<path d="M427.76 123.29L432.36 127.89M432.36 123.29L427.76 127.89M430.06 123.29L430.06 127.89M427.76 125.59L432.36 125.59" stroke="#e3202e" stroke-width="0.9"/>
<path d="M480.22 120.24L484.82 124.84M484.82 120.24L480.22 124.84M482.52 120.24L482.52 124.84M480.22 122.54L484.82 122.54" stroke="#e3202e" stroke-width="0.9"/>
<path d="M463.66 122.72L468.26 127.32M468.26 122.72L463.66 127.32M465.96 122.72L465.96 127.32M463.66 125.02L468.26 125.02" stroke="#e3202e" stroke-width="0.9"/>
<path d="M458.81 118.95L463.41 123.55M463.41 118.95L458.81 123.55M461.11 118.95L461.11 123.55M458.81 121.25L463.41 121.25" stroke="#e3202e" stroke-width="0.9"/>
<path d="M447.89 117.89L452.49 122.49M452.49 117.89L447.89 122.49M450.19 117.89L450.19 122.49M447.89 120.19L452.49 120.19" stroke="#e3202e" stroke-width="0.9"/>
<path d="M487.65 109.26L492.25 113.86M492.25 109.26L487.65 113.86M489.95 109.26L489.95 113.86M487.65 111.56L492.25 111.56" stroke="#e3202e" stroke-width="0.9"/>
<path d="M424.95 88.81L429.55 93.41M429.55 88.81L424.95 93.41M427.25 88.81L427.25 93.41M424.95 91.11L429.55 91.11" stroke="#e3202e" stroke-width="0.9"/>
<path d="M479.40 113.62L484.00 118.22M484.00 113.62L479.40 118.22M481.70 113.62L481.70 118.22M479.40 115.92L484.00 115.92" stroke="#e3202e" stroke-width="0.9"/>
<path d="M466.42 112.25L471.02 116.85M471.02 112.25L466.42 116.85M468.72 112.25L468.72 116.85M466.42 114.55L471.02 114.55" stroke="#e3202e" stroke-width="0.9"/>
<path d="M480.61 97.80L485.21 102.40M485.21 97.80L480.61 102.40M482.91 97.80L482.91 102.40M480.61 100.10L485.21 100.10" stroke="#e3202e" stroke-width="0.9"/>
<path d="M439.42 104.41L444.02 109.01M444.02 104.41L439.42 109.01M441.72 104.41L441.72 109.01M439.42 106.71L444.02 106.71" stroke="#e3202e" stroke-width="0.9"/>
<path d="M477.03 93.42L481.63 98.02M481.63 93.42L477.03 98.02M479.33 93.42L479.33 98.02M477.03 95.72L481.63 95.72" stroke="#e3202e" stroke-width="0.9"/>
<path d="M443.56 128.46L448.16 133.06M448.16 128.46L443.56 133.06M445.86 128.46L445.86 133.06M443.56 130.76L448.16 130.76" stroke="#e3202e" stroke-width="0.9"/>
<path d="M454.20 88.56L458.80 93.16M458.80 88.56L454.20 93.16M456.50 88.56L456.50 93.16M454.20 90.86L458.80 90.86" stroke="#e3202e" stroke-width="0.9"/>
<path d="M457.98 104.40L462.58 109.00M462.58 104.40L457.98 109.00M460.28 104.40L460.28 109.00M457.98 106.70L462.58 106.70" stroke="#e3202e" stroke-width="0.9"/>
<path d="M456.80 133.78L461.40 138.38M461.40 133.78L456.80 138.38M459.10 133.78L459.10 138.38M456.80 136.08L461.40 136.08" stroke="#e3202e" stroke-width="0.9"/>
<path d="M425.15 79.78L429.75 84.38M429.75 79.78L425.15 84.38M427.45 79.78L427.45 84.38M425.15 82.08L429.75 82.08" stroke="#e3202e" stroke-width="0.9"/>
<path d="M477.73 87.54L482.33 92.14M482.33 87.54L477.73 92.14M480.03 87.54L480.03 92.14M477.73 89.84L482.33 89.84" stroke="#e3202e" stroke-width="0.9"/>
<path d="M465.74 101.39L470.34 105.99M470.34 101.39L465.74 105.99M468.04 101.39L468.04 105.99M465.74 103.69L470.34 103.69" stroke="#e3202e" stroke-width="0.9"/>
<path d="M454.78 136.57L459.38 141.17M459.38 136.57L454.78 141.17M457.08 136.57L457.08 141.17M454.78 138.87L459.38 138.87" stroke="#e3202e" stroke-width="0.9"/>
<path d="M445.09 123.50L449.69 128.10M449.69 123.50L445.09 128.10M447.39 123.50L447.39 128.10M445.09 125.80L449.69 125.80" stroke="#e3202e" stroke-width="0.9"/>
<path d="M467.44 114.55L472.04 119.15M472.04 114.55L467.44 119.15M469.74 114.55L469.74 119.15M467.44 116.85L472.04 116.85" stroke="#e3202e" stroke-width="0.9"/>
<path d="M423.37 101.36L427.97 105.96M427.97 101.36L423.37 105.96M425.67 101.36L425.67 105.96M423.37 103.66L427.97 103.66" stroke="#e3202e" stroke-width="0.9"/>
<path d="M432.33 106.89L436.93 111.49M436.93 106.89L432.33 111.49M434.63 106.89L434.63 111.49M432.33 109.19L436.93 109.19" stroke="#e3202e" stroke-width="0.9"/>
<path d="M463.46 99.01L468.06 103.61M468.06 99.01L463.46 103.61M465.76 99.01L465.76 103.61M463.46 101.31L468.06 101.31" stroke="#e3202e" stroke-width="0.9"/>
<path d="M553.41 105.95L558.01 110.55M558.01 105.95L553.41 110.55M555.71 105.95L555.71 110.55M553.41 108.25L558.01 108.25" stroke="#e3202e" stroke-width="0.9"/>
<path d="M526.57 123.31L531.17 127.91M531.17 123.31L526.57 127.91M528.87 123.31L528.87 127.91M526.57 125.61L531.17 125.61" stroke="#e3202e" stroke-width="0.9"/>
<path d="M486.23 132.30L490.83 136.90M490.83 132.30L486.23 136.90M488.53 132.30L488.53 136.90M486.23 134.60L490.83 134.60" stroke="#e3202e" stroke-width="0.9"/>
<path d="M477.92 101.01L482.52 105.61M482.52 101.01L477.92 105.61M480.22 101.01L480.22 105.61M477.92 103.31L482.52 103.31" stroke="#e3202e" stroke-width="0.9"/>
<path d="M486.25 122.91L490.85 127.51M490.85 122.91L486.25 127.51M488.55 122.91L488.55 127.51M486.25 125.21L490.85 125.21" stroke="#e3202e" stroke-width="0.9"/>
<path d="M492.45 109.68L497.05 114.28M497.05 109.68L492.45 114.28M494.75 109.68L494.75 114.28M492.45 111.98L497.05 111.98" stroke="#e3202e" stroke-width="0.9"/>
<path d="M511.93 133.36L516.53 137.96M516.53 133.36L511.93 137.96M514.23 133.36L514.23 137.96M511.93 135.66L516.53 135.66" stroke="#e3202e" stroke-width="0.9"/>
<path d="M520.17 120.11L524.77 124.71M524.77 120.11L520.17 124.71M522.47 120.11L522.47 124.71M520.17 122.41L524.77 122.41" stroke="#e3202e" stroke-width="0.9"/>
<path d="M536.77 109.92L541.37 114.52M541.37 109.92L536.77 114.52M539.07 109.92L539.07 114.52M536.77 112.22L541.37 112.22" stroke="#e3202e" stroke-width="0.9"/>
<path d="M548.09 138.26L552.69 142.86M552.69 138.26L548.09 142.86M550.39 138.26L550.39 142.86M548.09 140.56L552.69 140.56" stroke="#e3202e" stroke-width="0.9"/>
<path d="M530.12 131.84L534.72 136.44M534.72 131.84L530.12 136.44M532.42 131.84L532.42 136.44M530.12 134.14L534.72 134.14" stroke="#e3202e" stroke-width="0.9"/>
<path d="M483.33 103.88L487.93 108.48M487.93 103.88L483.33 108.48M485.63 103.88L485.63 108.48M483.33 106.18L487.93 106.18" stroke="#e3202e" stroke-width="0.9"/>
<path d="M548.47 123.47L553.07 128.07M553.07 123.47L548.47 128.07M550.77 123.47L550.77 128.07M548.47 125.77L553.07 125.77" stroke="#e3202e" stroke-width="0.9"/>
<path d="M500.19 98.87L504.79 103.47M504.79 98.87L500.19 103.47M502.49 98.87L502.49 103.47M500.19 101.17L504.79 101.17" stroke="#e3202e" stroke-width="0.9"/>
<path d="M537.24 111.28L541.84 115.88M541.84 111.28L537.24 115.88M539.54 111.28L539.54 115.88M537.24 113.58L541.84 113.58" stroke="#e3202e" stroke-width="0.9"/>
<path d="M551.95 106.67L556.55 111.27M556.55 106.67L551.95 111.27M554.25 106.67L554.25 111.27M551.95 108.97L556.55 108.97" stroke="#e3202e" stroke-width="0.9"/>
<path d="M487.89 123.51L492.49 128.11M492.49 123.51L487.89 128.11M490.19 123.51L490.19 128.11M487.89 125.81L492.49 125.81" stroke="#e3202e" stroke-width="0.9"/>
<path d="M530.08 125.69L534.68 130.29M534.68 125.69L530.08 130.29M532.38 125.69L532.38 130.29M530.08 127.99L534.68 127.99" stroke="#e3202e" stroke-width="0.9"/>
<path d="M529.67 106.61L534.27 111.21M534.27 106.61L529.67 111.21M531.97 106.61L531.97 111.21M529.67 108.91L534.27 108.91" stroke="#e3202e" stroke-width="0.9"/>
<path d="M488.43 146.03L493.03 150.63M493.03 146.03L488.43 150.63M490.73 146.03L490.73 150.63M488.43 148.33L493.03 148.33" stroke="#e3202e" stroke-width="0.9"/>
<line x1="423.45" y1="126.4" x2="709" y2="126.4" stroke="#e89a40" stroke-width="1.3" stroke-dasharray="5.0 4.15" stroke-dashoffset="1.8"/>
<line x1="55.45" y1="223.20" x2="55.45" y2="9.40" stroke="#111" stroke-width="1.3"/>
<line x1="55.45" y1="223.20" x2="343.29" y2="223.20" stroke="#111" stroke-width="1.3"/>
<line x1="55.45" y1="223.20" x2="55.45" y2="227.80" stroke="#111" stroke-width="1.2"/>
<line x1="91.43" y1="223.20" x2="91.43" y2="227.80" stroke="#111" stroke-width="1.2"/>
<line x1="127.41" y1="223.20" x2="127.41" y2="227.80" stroke="#111" stroke-width="1.2"/>
<line x1="163.39" y1="223.20" x2="163.39" y2="227.80" stroke="#111" stroke-width="1.2"/>
<line x1="199.37" y1="223.20" x2="199.37" y2="227.80" stroke="#111" stroke-width="1.2"/>
<line x1="235.35" y1="223.20" x2="235.35" y2="227.80" stroke="#111" stroke-width="1.2"/>
<line x1="271.33" y1="223.20" x2="271.33" y2="227.80" stroke="#111" stroke-width="1.2"/>
<line x1="307.31" y1="223.20" x2="307.31" y2="227.80" stroke="#111" stroke-width="1.2"/>
<line x1="343.29" y1="223.20" x2="343.29" y2="227.80" stroke="#111" stroke-width="1.2"/>
<line x1="73.44" y1="223.20" x2="73.44" y2="225.70" stroke="#111" stroke-width="1.2"/>
<line x1="109.42" y1="223.20" x2="109.42" y2="225.70" stroke="#111" stroke-width="1.2"/>
<line x1="145.40" y1="223.20" x2="145.40" y2="225.70" stroke="#111" stroke-width="1.2"/>
<line x1="181.38" y1="223.20" x2="181.38" y2="225.70" stroke="#111" stroke-width="1.2"/>
<line x1="217.36" y1="223.20" x2="217.36" y2="225.70" stroke="#111" stroke-width="1.2"/>
<line x1="253.34" y1="223.20" x2="253.34" y2="225.70" stroke="#111" stroke-width="1.2"/>
<line x1="289.32" y1="223.20" x2="289.32" y2="225.70" stroke="#111" stroke-width="1.2"/>
<line x1="325.30" y1="223.20" x2="325.30" y2="225.70" stroke="#111" stroke-width="1.2"/>
<line x1="50.85" y1="209.80" x2="55.45" y2="209.80" stroke="#111" stroke-width="1.2"/>
<line x1="50.85" y1="183.08" x2="55.45" y2="183.08" stroke="#111" stroke-width="1.2"/>
<line x1="50.85" y1="156.36" x2="55.45" y2="156.36" stroke="#111" stroke-width="1.2"/>
<line x1="50.85" y1="129.64" x2="55.45" y2="129.64" stroke="#111" stroke-width="1.2"/>
<line x1="50.85" y1="102.92" x2="55.45" y2="102.92" stroke="#111" stroke-width="1.2"/>
<line x1="50.85" y1="76.20" x2="55.45" y2="76.20" stroke="#111" stroke-width="1.2"/>
<line x1="50.85" y1="49.48" x2="55.45" y2="49.48" stroke="#111" stroke-width="1.2"/>
<line x1="50.85" y1="22.76" x2="55.45" y2="22.76" stroke="#111" stroke-width="1.2"/>
<line x1="52.95" y1="223.16" x2="55.45" y2="223.16" stroke="#111" stroke-width="1.2"/>
<line x1="52.95" y1="196.44" x2="55.45" y2="196.44" stroke="#111" stroke-width="1.2"/>
<line x1="52.95" y1="169.72" x2="55.45" y2="169.72" stroke="#111" stroke-width="1.2"/>
<line x1="52.95" y1="143.00" x2="55.45" y2="143.00" stroke="#111" stroke-width="1.2"/>
<line x1="52.95" y1="116.28" x2="55.45" y2="116.28" stroke="#111" stroke-width="1.2"/>
<line x1="52.95" y1="89.56" x2="55.45" y2="89.56" stroke="#111" stroke-width="1.2"/>
<line x1="52.95" y1="62.84" x2="55.45" y2="62.84" stroke="#111" stroke-width="1.2"/>
<line x1="52.95" y1="36.12" x2="55.45" y2="36.12" stroke="#111" stroke-width="1.2"/>
<line x1="52.95" y1="9.40" x2="55.45" y2="9.40" stroke="#111" stroke-width="1.2"/>
<text transform="translate(55.45,241.10) scale(0.955,1)" text-anchor="middle" font-family='"Liberation Serif", serif' font-size="14" fill="#111">30</text>
<text transform="translate(91.43,241.10) scale(0.955,1)" text-anchor="middle" font-family='"Liberation Serif", serif' font-size="14" fill="#111">40</text>
<text transform="translate(127.41,241.10) scale(0.955,1)" text-anchor="middle" font-family='"Liberation Serif", serif' font-size="14" fill="#111">50</text>
<text transform="translate(163.39,241.10) scale(0.955,1)" text-anchor="middle" font-family='"Liberation Serif", serif' font-size="14" fill="#111">60</text>
<text transform="translate(199.37,241.10) scale(0.955,1)" text-anchor="middle" font-family='"Liberation Serif", serif' font-size="14" fill="#111">70</text>
<text transform="translate(235.35,241.10) scale(0.955,1)" text-anchor="middle" font-family='"Liberation Serif", serif' font-size="14" fill="#111">80</text>
<text transform="translate(271.33,241.10) scale(0.955,1)" text-anchor="middle" font-family='"Liberation Serif", serif' font-size="14" fill="#111">90</text>
<text transform="translate(307.31,241.10) scale(0.955,1)" text-anchor="middle" font-family='"Liberation Serif", serif' font-size="14" fill="#111">100</text>
<text transform="translate(343.29,241.10) scale(0.955,1)" text-anchor="middle" font-family='"Liberation Serif", serif' font-size="14" fill="#111">110</text>
<text transform="translate(48.15,213.80) scale(0.96,1)" text-anchor="end" font-family='"Liberation Serif", serif' font-size="14" fill="#111">200</text>
<text transform="translate(48.15,187.08) scale(0.96,1)" text-anchor="end" font-family='"Liberation Serif", serif' font-size="14" fill="#111">220</text>
<text transform="translate(48.15,160.36) scale(0.96,1)" text-anchor="end" font-family='"Liberation Serif", serif' font-size="14" fill="#111">240</text>
<text transform="translate(48.15,133.64) scale(0.96,1)" text-anchor="end" font-family='"Liberation Serif", serif' font-size="14" fill="#111">260</text>
<text transform="translate(48.15,106.92) scale(0.96,1)" text-anchor="end" font-family='"Liberation Serif", serif' font-size="14" fill="#111">280</text>
<text transform="translate(48.15,80.20) scale(0.96,1)" text-anchor="end" font-family='"Liberation Serif", serif' font-size="14" fill="#111">300</text>
<text transform="translate(48.15,53.48) scale(0.96,1)" text-anchor="end" font-family='"Liberation Serif", serif' font-size="14" fill="#111">320</text>
<text transform="translate(48.15,26.76) scale(0.96,1)" text-anchor="end" font-family='"Liberation Serif", serif' font-size="14" fill="#111">340</text>
<line x1="423.45" y1="223.20" x2="423.45" y2="10.14" stroke="#111" stroke-width="1.3"/>
<line x1="423.45" y1="223.20" x2="709.19" y2="223.20" stroke="#111" stroke-width="1.3"/>
<line x1="445.43" y1="223.20" x2="445.43" y2="227.80" stroke="#111" stroke-width="1.2"/>
<line x1="489.39" y1="223.20" x2="489.39" y2="227.80" stroke="#111" stroke-width="1.2"/>
<line x1="533.35" y1="223.20" x2="533.35" y2="227.80" stroke="#111" stroke-width="1.2"/>
<line x1="577.31" y1="223.20" x2="577.31" y2="227.80" stroke="#111" stroke-width="1.2"/>
<line x1="621.27" y1="223.20" x2="621.27" y2="227.80" stroke="#111" stroke-width="1.2"/>
<line x1="665.23" y1="223.20" x2="665.23" y2="227.80" stroke="#111" stroke-width="1.2"/>
<line x1="709.19" y1="223.20" x2="709.19" y2="227.80" stroke="#111" stroke-width="1.2"/>
<line x1="423.45" y1="223.20" x2="423.45" y2="225.70" stroke="#111" stroke-width="1.2"/>
<line x1="467.41" y1="223.20" x2="467.41" y2="225.70" stroke="#111" stroke-width="1.2"/>
<line x1="511.37" y1="223.20" x2="511.37" y2="225.70" stroke="#111" stroke-width="1.2"/>
<line x1="555.33" y1="223.20" x2="555.33" y2="225.70" stroke="#111" stroke-width="1.2"/>
<line x1="599.29" y1="223.20" x2="599.29" y2="225.70" stroke="#111" stroke-width="1.2"/>
<line x1="643.25" y1="223.20" x2="643.25" y2="225.70" stroke="#111" stroke-width="1.2"/>
<line x1="687.21" y1="223.20" x2="687.21" y2="225.70" stroke="#111" stroke-width="1.2"/>
<line x1="418.85" y1="203.20" x2="423.45" y2="203.20" stroke="#111" stroke-width="1.2"/>
<line x1="418.85" y1="172.72" x2="423.45" y2="172.72" stroke="#111" stroke-width="1.2"/>
<line x1="418.85" y1="142.23" x2="423.45" y2="142.23" stroke="#111" stroke-width="1.2"/>
<line x1="418.85" y1="111.75" x2="423.45" y2="111.75" stroke="#111" stroke-width="1.2"/>
<line x1="418.85" y1="81.27" x2="423.45" y2="81.27" stroke="#111" stroke-width="1.2"/>
<line x1="418.85" y1="50.78" x2="423.45" y2="50.78" stroke="#111" stroke-width="1.2"/>
<line x1="418.85" y1="20.30" x2="423.45" y2="20.30" stroke="#111" stroke-width="1.2"/>
<line x1="420.95" y1="218.44" x2="423.45" y2="218.44" stroke="#111" stroke-width="1.2"/>
<line x1="420.95" y1="187.96" x2="423.45" y2="187.96" stroke="#111" stroke-width="1.2"/>
<line x1="420.95" y1="157.48" x2="423.45" y2="157.48" stroke="#111" stroke-width="1.2"/>
<line x1="420.95" y1="126.99" x2="423.45" y2="126.99" stroke="#111" stroke-width="1.2"/>
<line x1="420.95" y1="96.51" x2="423.45" y2="96.51" stroke="#111" stroke-width="1.2"/>
<line x1="420.95" y1="66.03" x2="423.45" y2="66.03" stroke="#111" stroke-width="1.2"/>
<line x1="420.95" y1="35.54" x2="423.45" y2="35.54" stroke="#111" stroke-width="1.2"/>
<text transform="translate(445.43,241.10) scale(0.955,1)" text-anchor="middle" font-family='"Liberation Serif", serif' font-size="14" fill="#111">40</text>
<text transform="translate(489.39,241.10) scale(0.955,1)" text-anchor="middle" font-family='"Liberation Serif", serif' font-size="14" fill="#111">60</text>
<text transform="translate(533.35,241.10) scale(0.955,1)" text-anchor="middle" font-family='"Liberation Serif", serif' font-size="14" fill="#111">80</text>
<text transform="translate(577.31,241.10) scale(0.955,1)" text-anchor="middle" font-family='"Liberation Serif", serif' font-size="14" fill="#111">100</text>
<text transform="translate(621.27,241.10) scale(0.955,1)" text-anchor="middle" font-family='"Liberation Serif", serif' font-size="14" fill="#111">120</text>
<text transform="translate(665.23,241.10) scale(0.955,1)" text-anchor="middle" font-family='"Liberation Serif", serif' font-size="14" fill="#111">140</text>
<text transform="translate(709.19,241.10) scale(0.955,1)" text-anchor="middle" font-family='"Liberation Serif", serif' font-size="14" fill="#111">160</text>
<text transform="translate(416.15,207.90) scale(0.96,1)" text-anchor="end" font-family='"Liberation Serif", serif' font-size="14" fill="#111">210</text>
<text transform="translate(416.15,177.42) scale(0.96,1)" text-anchor="end" font-family='"Liberation Serif", serif' font-size="14" fill="#111">240</text>
<text transform="translate(416.15,146.93) scale(0.96,1)" text-anchor="end" font-family='"Liberation Serif", serif' font-size="14" fill="#111">270</text>
<text transform="translate(416.15,116.45) scale(0.96,1)" text-anchor="end" font-family='"Liberation Serif", serif' font-size="14" fill="#111">300</text>
<text transform="translate(416.15,85.97) scale(0.96,1)" text-anchor="end" font-family='"Liberation Serif", serif' font-size="14" fill="#111">330</text>
<text transform="translate(416.15,55.48) scale(0.96,1)" text-anchor="end" font-family='"Liberation Serif", serif' font-size="14" fill="#111">360</text>
<text transform="translate(416.15,25.00) scale(0.96,1)" text-anchor="end" font-family='"Liberation Serif", serif' font-size="14" fill="#111">390</text>
<text transform="translate(19.4,110.0) rotate(-90)" text-anchor="middle" font-family='"Liberation Serif", serif' font-size="15" fill="#111">Neutral axis depth (mm)</text>
<text transform="translate(387.9,110.75) rotate(-90)" text-anchor="middle" font-family='"Liberation Serif", serif' font-size="15" fill="#111">Neutral axis depth (mm)</text>
<text x="176.00" y="255.3" font-family='"Liberation Sans", sans-serif' font-size="14.3" fill="#111">Strain</text>
<text x="218.35" y="255.3" font-family='"Liberation Serif", serif' font-size="17" fill="#111">(</text>
<text x="224.00" y="255.3" font-family='"Liberation Serif", serif' font-size="12.5" fill="#111" textLength="12.6" lengthAdjust="spacingAndGlyphs">με</text>
<text x="236.90" y="255.3" font-family='"Liberation Serif", serif' font-size="17" fill="#111">)</text>
<text x="542.90" y="255.8" font-family='"Liberation Sans", sans-serif' font-size="14.3" fill="#111">Strain</text>
<text x="585.25" y="255.8" font-family='"Liberation Serif", serif' font-size="17" fill="#111">(</text>
<text x="590.90" y="255.8" font-family='"Liberation Serif", serif' font-size="12.5" fill="#111" textLength="12.6" lengthAdjust="spacingAndGlyphs">με</text>
<text x="603.80" y="255.8" font-family='"Liberation Serif", serif' font-size="17" fill="#111">)</text>
<text x="170.1" y="277.6" font-family='"Liberation Serif", serif' font-size="16.8" fill="#111">(<tspan font-weight="bold">a</tspan>)</text>
<text x="536.15" y="278.2" font-family='"Liberation Serif", serif' font-size="17.2" fill="#111">(<tspan font-weight="bold">b</tspan>)</text>
<text x="288.4" y="153.6" font-family='"Liberation Sans", sans-serif' font-size="14" fill="#111">True value</text>
<text x="648.7" y="142.0" font-family='"Liberation Sans", sans-serif' font-size="13.7" fill="#111">True value</text>
<rect x="267.10" y="8.90" width="3.80" height="3.80" fill="none" stroke="#444" stroke-width="0.7"/>
<path d="M269.00 27.68L271.50 31.93L266.50 31.93Z" fill="none" stroke="#4040d8" stroke-width="0.75"/>
<path d="M267.00 46.70L271.00 50.70M271.00 46.70L267.00 50.70M269.00 46.70L269.00 50.70M267.00 48.70L271.00 48.70" stroke="#e3202e" stroke-width="0.9"/>
<text transform="translate(287.6,15.7) scale(0.965,1)" font-family='"Liberation Serif", serif' font-size="14.2" fill="#111">No noise</text>
<text transform="translate(287.6,34.7) scale(0.965,1)" font-family='"Liberation Serif", serif' font-size="14.2" fill="#111">2% noise</text>
<text transform="translate(287.6,53.6) scale(0.965,1)" font-family='"Liberation Serif", serif' font-size="14.2" fill="#111">5% noise</text>
<rect x="633.10" y="20.00" width="3.80" height="3.80" fill="none" stroke="#444" stroke-width="0.7"/>
<path d="M635.00 38.38L637.50 42.62L632.50 42.62Z" fill="none" stroke="#4040d8" stroke-width="0.75"/>
<path d="M633.00 57.40L637.00 61.40M637.00 57.40L633.00 61.40M635.00 57.40L635.00 61.40M633.00 59.40L637.00 59.40" stroke="#e3202e" stroke-width="0.9"/>
<text transform="translate(654.5,26.8) scale(0.95,1)" font-family='"Liberation Serif", serif' font-size="14.1" fill="#111">No noise</text>
<text transform="translate(654.5,45.4) scale(0.95,1)" font-family='"Liberation Serif", serif' font-size="14.1" fill="#111">2% noise</text>
<text transform="translate(654.5,64.3) scale(0.95,1)" font-family='"Liberation Serif", serif' font-size="14.1" fill="#111">5% noise</text>
</svg></body></html>
